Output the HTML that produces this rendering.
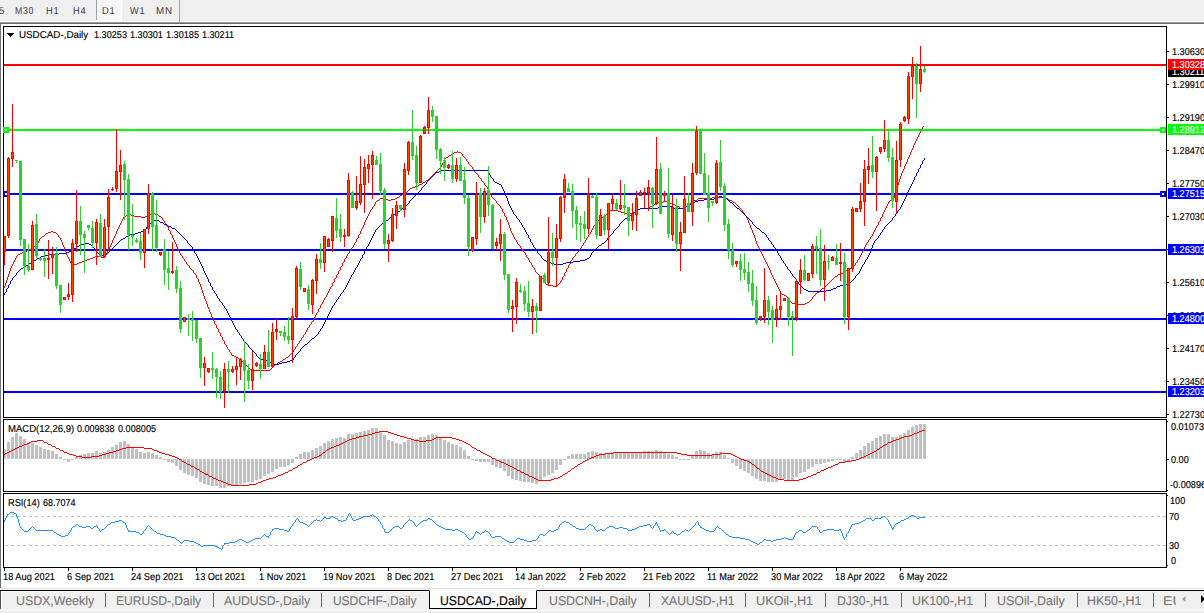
<!DOCTYPE html>
<html><head><meta charset="utf-8"><title>USDCAD-,Daily</title>
<style>
html,body{margin:0;padding:0;background:#fff;}
body{width:1204px;height:613px;overflow:hidden;position:relative;font-family:"Liberation Sans",sans-serif;}
.t{position:absolute;white-space:nowrap;line-height:1;color:#000;transform-origin:0 0;text-rendering:geometricPrecision;-webkit-text-stroke:0.15px currentColor;}
.ax{font-size:10px;transform:scaleX(.93);}
.lab{position:absolute;left:1168px;width:36px;height:11px;}
.tab{font-size:12px;color:#787878;}
.sep{position:absolute;top:593px;width:1px;height:14px;background:#6e6e6e;}
.tb{font-size:10px;color:#3c3c3c;transform:scaleX(.95);}
</style></head><body>

<div style="position:absolute;left:0;top:0;width:1204px;height:22px;background:#f0f0f0"></div>
<div style="position:absolute;left:0;top:22px;width:1204px;height:1px;background:#a0a0a0"></div>
<div style="position:absolute;left:0;top:23px;width:1204px;height:1px;background:#696969"></div>
<div style="position:absolute;left:0;top:21px;width:1204px;height:1px;background:#f6f6f6"></div>
<div style="position:absolute;left:0;top:24px;width:1px;height:564px;background:#747474"></div>
<div style="position:absolute;left:97px;top:0;width:24px;height:20px;background-color:#f0f0f0;background-image:conic-gradient(#fff 25%,#f0f0f0 0 50%,#fff 0 75%,#f0f0f0 0);background-size:2px 2px"></div>
<div style="position:absolute;left:96px;top:0;width:1px;height:20px;background:#a0a0a0"></div>
<div style="position:absolute;left:121px;top:0;width:1px;height:21px;background:#fff"></div>
<div style="position:absolute;left:96px;top:20px;width:26px;height:1px;background:#fff"></div>
<div style="position:absolute;left:179px;top:0;width:1px;height:22px;background:#a0a0a0"></div>
<div class="t" style="left:-1.2px;top:7px;font-size:10px;color:#383838;-webkit-text-stroke:0">5</div>
<div class="t" style="left:15.08px;top:7px;font-size:10px;color:#383838;-webkit-text-stroke:0;letter-spacing:0.9px;transform:scaleX(0.8678)">M30</div>
<div class="t" style="left:45.73px;top:7px;font-size:10px;color:#383838;-webkit-text-stroke:0;letter-spacing:0.9px;transform:scaleX(0.9374)">H1</div>
<div class="t" style="left:73.14px;top:7px;font-size:10px;color:#383838;-webkit-text-stroke:0;letter-spacing:0.9px;transform:scaleX(0.9225)">H4</div>
<div class="t" style="left:101.73px;top:7px;font-size:10px;color:#383838;-webkit-text-stroke:0;letter-spacing:0.9px;transform:scaleX(0.9374)">D1</div>
<div class="t" style="left:130.05px;top:7px;font-size:10px;color:#383838;-webkit-text-stroke:0;letter-spacing:0.9px;transform:scaleX(0.9171)">W1</div>
<div class="t" style="left:155.89px;top:7px;font-size:10px;color:#383838;-webkit-text-stroke:0;letter-spacing:0.9px;transform:scaleX(0.9797)">MN</div>
<svg width="1204" height="613" viewBox="0 0 1204 613" style="position:absolute;left:0;top:0" shape-rendering="crispEdges">
<rect x="5" y="516" width="3" height="1" fill="#c0c0c0"/>
<rect x="11" y="516" width="3" height="1" fill="#c0c0c0"/>
<rect x="17" y="516" width="3" height="1" fill="#c0c0c0"/>
<rect x="23" y="516" width="3" height="1" fill="#c0c0c0"/>
<rect x="29" y="516" width="3" height="1" fill="#c0c0c0"/>
<rect x="35" y="516" width="3" height="1" fill="#c0c0c0"/>
<rect x="41" y="516" width="3" height="1" fill="#c0c0c0"/>
<rect x="47" y="516" width="3" height="1" fill="#c0c0c0"/>
<rect x="53" y="516" width="3" height="1" fill="#c0c0c0"/>
<rect x="59" y="516" width="3" height="1" fill="#c0c0c0"/>
<rect x="65" y="516" width="3" height="1" fill="#c0c0c0"/>
<rect x="71" y="516" width="3" height="1" fill="#c0c0c0"/>
<rect x="77" y="516" width="3" height="1" fill="#c0c0c0"/>
<rect x="83" y="516" width="3" height="1" fill="#c0c0c0"/>
<rect x="89" y="516" width="3" height="1" fill="#c0c0c0"/>
<rect x="95" y="516" width="3" height="1" fill="#c0c0c0"/>
<rect x="101" y="516" width="3" height="1" fill="#c0c0c0"/>
<rect x="107" y="516" width="3" height="1" fill="#c0c0c0"/>
<rect x="113" y="516" width="3" height="1" fill="#c0c0c0"/>
<rect x="119" y="516" width="3" height="1" fill="#c0c0c0"/>
<rect x="125" y="516" width="3" height="1" fill="#c0c0c0"/>
<rect x="131" y="516" width="3" height="1" fill="#c0c0c0"/>
<rect x="137" y="516" width="3" height="1" fill="#c0c0c0"/>
<rect x="143" y="516" width="3" height="1" fill="#c0c0c0"/>
<rect x="149" y="516" width="3" height="1" fill="#c0c0c0"/>
<rect x="155" y="516" width="3" height="1" fill="#c0c0c0"/>
<rect x="161" y="516" width="3" height="1" fill="#c0c0c0"/>
<rect x="167" y="516" width="3" height="1" fill="#c0c0c0"/>
<rect x="173" y="516" width="3" height="1" fill="#c0c0c0"/>
<rect x="179" y="516" width="3" height="1" fill="#c0c0c0"/>
<rect x="185" y="516" width="3" height="1" fill="#c0c0c0"/>
<rect x="191" y="516" width="3" height="1" fill="#c0c0c0"/>
<rect x="197" y="516" width="3" height="1" fill="#c0c0c0"/>
<rect x="203" y="516" width="3" height="1" fill="#c0c0c0"/>
<rect x="209" y="516" width="3" height="1" fill="#c0c0c0"/>
<rect x="215" y="516" width="3" height="1" fill="#c0c0c0"/>
<rect x="221" y="516" width="3" height="1" fill="#c0c0c0"/>
<rect x="227" y="516" width="3" height="1" fill="#c0c0c0"/>
<rect x="233" y="516" width="3" height="1" fill="#c0c0c0"/>
<rect x="239" y="516" width="3" height="1" fill="#c0c0c0"/>
<rect x="245" y="516" width="3" height="1" fill="#c0c0c0"/>
<rect x="251" y="516" width="3" height="1" fill="#c0c0c0"/>
<rect x="257" y="516" width="3" height="1" fill="#c0c0c0"/>
<rect x="263" y="516" width="3" height="1" fill="#c0c0c0"/>
<rect x="269" y="516" width="3" height="1" fill="#c0c0c0"/>
<rect x="275" y="516" width="3" height="1" fill="#c0c0c0"/>
<rect x="281" y="516" width="3" height="1" fill="#c0c0c0"/>
<rect x="287" y="516" width="3" height="1" fill="#c0c0c0"/>
<rect x="293" y="516" width="3" height="1" fill="#c0c0c0"/>
<rect x="299" y="516" width="3" height="1" fill="#c0c0c0"/>
<rect x="305" y="516" width="3" height="1" fill="#c0c0c0"/>
<rect x="311" y="516" width="3" height="1" fill="#c0c0c0"/>
<rect x="317" y="516" width="3" height="1" fill="#c0c0c0"/>
<rect x="323" y="516" width="3" height="1" fill="#c0c0c0"/>
<rect x="329" y="516" width="3" height="1" fill="#c0c0c0"/>
<rect x="335" y="516" width="3" height="1" fill="#c0c0c0"/>
<rect x="341" y="516" width="3" height="1" fill="#c0c0c0"/>
<rect x="347" y="516" width="3" height="1" fill="#c0c0c0"/>
<rect x="353" y="516" width="3" height="1" fill="#c0c0c0"/>
<rect x="359" y="516" width="3" height="1" fill="#c0c0c0"/>
<rect x="365" y="516" width="3" height="1" fill="#c0c0c0"/>
<rect x="371" y="516" width="3" height="1" fill="#c0c0c0"/>
<rect x="377" y="516" width="3" height="1" fill="#c0c0c0"/>
<rect x="383" y="516" width="3" height="1" fill="#c0c0c0"/>
<rect x="389" y="516" width="3" height="1" fill="#c0c0c0"/>
<rect x="395" y="516" width="3" height="1" fill="#c0c0c0"/>
<rect x="401" y="516" width="3" height="1" fill="#c0c0c0"/>
<rect x="407" y="516" width="3" height="1" fill="#c0c0c0"/>
<rect x="413" y="516" width="3" height="1" fill="#c0c0c0"/>
<rect x="419" y="516" width="3" height="1" fill="#c0c0c0"/>
<rect x="425" y="516" width="3" height="1" fill="#c0c0c0"/>
<rect x="431" y="516" width="3" height="1" fill="#c0c0c0"/>
<rect x="437" y="516" width="3" height="1" fill="#c0c0c0"/>
<rect x="443" y="516" width="3" height="1" fill="#c0c0c0"/>
<rect x="449" y="516" width="3" height="1" fill="#c0c0c0"/>
<rect x="455" y="516" width="3" height="1" fill="#c0c0c0"/>
<rect x="461" y="516" width="3" height="1" fill="#c0c0c0"/>
<rect x="467" y="516" width="3" height="1" fill="#c0c0c0"/>
<rect x="473" y="516" width="3" height="1" fill="#c0c0c0"/>
<rect x="479" y="516" width="3" height="1" fill="#c0c0c0"/>
<rect x="485" y="516" width="3" height="1" fill="#c0c0c0"/>
<rect x="491" y="516" width="3" height="1" fill="#c0c0c0"/>
<rect x="497" y="516" width="3" height="1" fill="#c0c0c0"/>
<rect x="503" y="516" width="3" height="1" fill="#c0c0c0"/>
<rect x="509" y="516" width="3" height="1" fill="#c0c0c0"/>
<rect x="515" y="516" width="3" height="1" fill="#c0c0c0"/>
<rect x="521" y="516" width="3" height="1" fill="#c0c0c0"/>
<rect x="527" y="516" width="3" height="1" fill="#c0c0c0"/>
<rect x="533" y="516" width="3" height="1" fill="#c0c0c0"/>
<rect x="539" y="516" width="3" height="1" fill="#c0c0c0"/>
<rect x="545" y="516" width="3" height="1" fill="#c0c0c0"/>
<rect x="551" y="516" width="3" height="1" fill="#c0c0c0"/>
<rect x="557" y="516" width="3" height="1" fill="#c0c0c0"/>
<rect x="563" y="516" width="3" height="1" fill="#c0c0c0"/>
<rect x="569" y="516" width="3" height="1" fill="#c0c0c0"/>
<rect x="575" y="516" width="3" height="1" fill="#c0c0c0"/>
<rect x="581" y="516" width="3" height="1" fill="#c0c0c0"/>
<rect x="587" y="516" width="3" height="1" fill="#c0c0c0"/>
<rect x="593" y="516" width="3" height="1" fill="#c0c0c0"/>
<rect x="599" y="516" width="3" height="1" fill="#c0c0c0"/>
<rect x="605" y="516" width="3" height="1" fill="#c0c0c0"/>
<rect x="611" y="516" width="3" height="1" fill="#c0c0c0"/>
<rect x="617" y="516" width="3" height="1" fill="#c0c0c0"/>
<rect x="623" y="516" width="3" height="1" fill="#c0c0c0"/>
<rect x="629" y="516" width="3" height="1" fill="#c0c0c0"/>
<rect x="635" y="516" width="3" height="1" fill="#c0c0c0"/>
<rect x="641" y="516" width="3" height="1" fill="#c0c0c0"/>
<rect x="647" y="516" width="3" height="1" fill="#c0c0c0"/>
<rect x="653" y="516" width="3" height="1" fill="#c0c0c0"/>
<rect x="659" y="516" width="3" height="1" fill="#c0c0c0"/>
<rect x="665" y="516" width="3" height="1" fill="#c0c0c0"/>
<rect x="671" y="516" width="3" height="1" fill="#c0c0c0"/>
<rect x="677" y="516" width="3" height="1" fill="#c0c0c0"/>
<rect x="683" y="516" width="3" height="1" fill="#c0c0c0"/>
<rect x="689" y="516" width="3" height="1" fill="#c0c0c0"/>
<rect x="695" y="516" width="3" height="1" fill="#c0c0c0"/>
<rect x="701" y="516" width="3" height="1" fill="#c0c0c0"/>
<rect x="707" y="516" width="3" height="1" fill="#c0c0c0"/>
<rect x="713" y="516" width="3" height="1" fill="#c0c0c0"/>
<rect x="719" y="516" width="3" height="1" fill="#c0c0c0"/>
<rect x="725" y="516" width="3" height="1" fill="#c0c0c0"/>
<rect x="731" y="516" width="3" height="1" fill="#c0c0c0"/>
<rect x="737" y="516" width="3" height="1" fill="#c0c0c0"/>
<rect x="743" y="516" width="3" height="1" fill="#c0c0c0"/>
<rect x="749" y="516" width="3" height="1" fill="#c0c0c0"/>
<rect x="755" y="516" width="3" height="1" fill="#c0c0c0"/>
<rect x="761" y="516" width="3" height="1" fill="#c0c0c0"/>
<rect x="767" y="516" width="3" height="1" fill="#c0c0c0"/>
<rect x="773" y="516" width="3" height="1" fill="#c0c0c0"/>
<rect x="779" y="516" width="3" height="1" fill="#c0c0c0"/>
<rect x="785" y="516" width="3" height="1" fill="#c0c0c0"/>
<rect x="791" y="516" width="3" height="1" fill="#c0c0c0"/>
<rect x="797" y="516" width="3" height="1" fill="#c0c0c0"/>
<rect x="803" y="516" width="3" height="1" fill="#c0c0c0"/>
<rect x="809" y="516" width="3" height="1" fill="#c0c0c0"/>
<rect x="815" y="516" width="3" height="1" fill="#c0c0c0"/>
<rect x="821" y="516" width="3" height="1" fill="#c0c0c0"/>
<rect x="827" y="516" width="3" height="1" fill="#c0c0c0"/>
<rect x="833" y="516" width="3" height="1" fill="#c0c0c0"/>
<rect x="839" y="516" width="3" height="1" fill="#c0c0c0"/>
<rect x="845" y="516" width="3" height="1" fill="#c0c0c0"/>
<rect x="851" y="516" width="3" height="1" fill="#c0c0c0"/>
<rect x="857" y="516" width="3" height="1" fill="#c0c0c0"/>
<rect x="863" y="516" width="3" height="1" fill="#c0c0c0"/>
<rect x="869" y="516" width="3" height="1" fill="#c0c0c0"/>
<rect x="875" y="516" width="3" height="1" fill="#c0c0c0"/>
<rect x="881" y="516" width="3" height="1" fill="#c0c0c0"/>
<rect x="887" y="516" width="3" height="1" fill="#c0c0c0"/>
<rect x="893" y="516" width="3" height="1" fill="#c0c0c0"/>
<rect x="899" y="516" width="3" height="1" fill="#c0c0c0"/>
<rect x="905" y="516" width="3" height="1" fill="#c0c0c0"/>
<rect x="911" y="516" width="3" height="1" fill="#c0c0c0"/>
<rect x="917" y="516" width="3" height="1" fill="#c0c0c0"/>
<rect x="923" y="516" width="3" height="1" fill="#c0c0c0"/>
<rect x="929" y="516" width="3" height="1" fill="#c0c0c0"/>
<rect x="935" y="516" width="3" height="1" fill="#c0c0c0"/>
<rect x="941" y="516" width="3" height="1" fill="#c0c0c0"/>
<rect x="947" y="516" width="3" height="1" fill="#c0c0c0"/>
<rect x="953" y="516" width="3" height="1" fill="#c0c0c0"/>
<rect x="959" y="516" width="3" height="1" fill="#c0c0c0"/>
<rect x="965" y="516" width="3" height="1" fill="#c0c0c0"/>
<rect x="971" y="516" width="3" height="1" fill="#c0c0c0"/>
<rect x="977" y="516" width="3" height="1" fill="#c0c0c0"/>
<rect x="983" y="516" width="3" height="1" fill="#c0c0c0"/>
<rect x="989" y="516" width="3" height="1" fill="#c0c0c0"/>
<rect x="995" y="516" width="3" height="1" fill="#c0c0c0"/>
<rect x="1001" y="516" width="3" height="1" fill="#c0c0c0"/>
<rect x="1007" y="516" width="3" height="1" fill="#c0c0c0"/>
<rect x="1013" y="516" width="3" height="1" fill="#c0c0c0"/>
<rect x="1019" y="516" width="3" height="1" fill="#c0c0c0"/>
<rect x="1025" y="516" width="3" height="1" fill="#c0c0c0"/>
<rect x="1031" y="516" width="3" height="1" fill="#c0c0c0"/>
<rect x="1037" y="516" width="3" height="1" fill="#c0c0c0"/>
<rect x="1043" y="516" width="3" height="1" fill="#c0c0c0"/>
<rect x="1049" y="516" width="3" height="1" fill="#c0c0c0"/>
<rect x="1055" y="516" width="3" height="1" fill="#c0c0c0"/>
<rect x="1061" y="516" width="3" height="1" fill="#c0c0c0"/>
<rect x="1067" y="516" width="3" height="1" fill="#c0c0c0"/>
<rect x="1073" y="516" width="3" height="1" fill="#c0c0c0"/>
<rect x="1079" y="516" width="3" height="1" fill="#c0c0c0"/>
<rect x="1085" y="516" width="3" height="1" fill="#c0c0c0"/>
<rect x="1091" y="516" width="3" height="1" fill="#c0c0c0"/>
<rect x="1097" y="516" width="3" height="1" fill="#c0c0c0"/>
<rect x="1103" y="516" width="3" height="1" fill="#c0c0c0"/>
<rect x="1109" y="516" width="3" height="1" fill="#c0c0c0"/>
<rect x="1115" y="516" width="3" height="1" fill="#c0c0c0"/>
<rect x="1121" y="516" width="3" height="1" fill="#c0c0c0"/>
<rect x="1127" y="516" width="3" height="1" fill="#c0c0c0"/>
<rect x="1133" y="516" width="3" height="1" fill="#c0c0c0"/>
<rect x="1139" y="516" width="3" height="1" fill="#c0c0c0"/>
<rect x="1145" y="516" width="3" height="1" fill="#c0c0c0"/>
<rect x="1151" y="516" width="3" height="1" fill="#c0c0c0"/>
<rect x="1157" y="516" width="3" height="1" fill="#c0c0c0"/>
<rect x="1163" y="516" width="3" height="1" fill="#c0c0c0"/>
<rect x="5" y="545" width="3" height="1" fill="#c0c0c0"/>
<rect x="11" y="545" width="3" height="1" fill="#c0c0c0"/>
<rect x="17" y="545" width="3" height="1" fill="#c0c0c0"/>
<rect x="23" y="545" width="3" height="1" fill="#c0c0c0"/>
<rect x="29" y="545" width="3" height="1" fill="#c0c0c0"/>
<rect x="35" y="545" width="3" height="1" fill="#c0c0c0"/>
<rect x="41" y="545" width="3" height="1" fill="#c0c0c0"/>
<rect x="47" y="545" width="3" height="1" fill="#c0c0c0"/>
<rect x="53" y="545" width="3" height="1" fill="#c0c0c0"/>
<rect x="59" y="545" width="3" height="1" fill="#c0c0c0"/>
<rect x="65" y="545" width="3" height="1" fill="#c0c0c0"/>
<rect x="71" y="545" width="3" height="1" fill="#c0c0c0"/>
<rect x="77" y="545" width="3" height="1" fill="#c0c0c0"/>
<rect x="83" y="545" width="3" height="1" fill="#c0c0c0"/>
<rect x="89" y="545" width="3" height="1" fill="#c0c0c0"/>
<rect x="95" y="545" width="3" height="1" fill="#c0c0c0"/>
<rect x="101" y="545" width="3" height="1" fill="#c0c0c0"/>
<rect x="107" y="545" width="3" height="1" fill="#c0c0c0"/>
<rect x="113" y="545" width="3" height="1" fill="#c0c0c0"/>
<rect x="119" y="545" width="3" height="1" fill="#c0c0c0"/>
<rect x="125" y="545" width="3" height="1" fill="#c0c0c0"/>
<rect x="131" y="545" width="3" height="1" fill="#c0c0c0"/>
<rect x="137" y="545" width="3" height="1" fill="#c0c0c0"/>
<rect x="143" y="545" width="3" height="1" fill="#c0c0c0"/>
<rect x="149" y="545" width="3" height="1" fill="#c0c0c0"/>
<rect x="155" y="545" width="3" height="1" fill="#c0c0c0"/>
<rect x="161" y="545" width="3" height="1" fill="#c0c0c0"/>
<rect x="167" y="545" width="3" height="1" fill="#c0c0c0"/>
<rect x="173" y="545" width="3" height="1" fill="#c0c0c0"/>
<rect x="179" y="545" width="3" height="1" fill="#c0c0c0"/>
<rect x="185" y="545" width="3" height="1" fill="#c0c0c0"/>
<rect x="191" y="545" width="3" height="1" fill="#c0c0c0"/>
<rect x="197" y="545" width="3" height="1" fill="#c0c0c0"/>
<rect x="203" y="545" width="3" height="1" fill="#c0c0c0"/>
<rect x="209" y="545" width="3" height="1" fill="#c0c0c0"/>
<rect x="215" y="545" width="3" height="1" fill="#c0c0c0"/>
<rect x="221" y="545" width="3" height="1" fill="#c0c0c0"/>
<rect x="227" y="545" width="3" height="1" fill="#c0c0c0"/>
<rect x="233" y="545" width="3" height="1" fill="#c0c0c0"/>
<rect x="239" y="545" width="3" height="1" fill="#c0c0c0"/>
<rect x="245" y="545" width="3" height="1" fill="#c0c0c0"/>
<rect x="251" y="545" width="3" height="1" fill="#c0c0c0"/>
<rect x="257" y="545" width="3" height="1" fill="#c0c0c0"/>
<rect x="263" y="545" width="3" height="1" fill="#c0c0c0"/>
<rect x="269" y="545" width="3" height="1" fill="#c0c0c0"/>
<rect x="275" y="545" width="3" height="1" fill="#c0c0c0"/>
<rect x="281" y="545" width="3" height="1" fill="#c0c0c0"/>
<rect x="287" y="545" width="3" height="1" fill="#c0c0c0"/>
<rect x="293" y="545" width="3" height="1" fill="#c0c0c0"/>
<rect x="299" y="545" width="3" height="1" fill="#c0c0c0"/>
<rect x="305" y="545" width="3" height="1" fill="#c0c0c0"/>
<rect x="311" y="545" width="3" height="1" fill="#c0c0c0"/>
<rect x="317" y="545" width="3" height="1" fill="#c0c0c0"/>
<rect x="323" y="545" width="3" height="1" fill="#c0c0c0"/>
<rect x="329" y="545" width="3" height="1" fill="#c0c0c0"/>
<rect x="335" y="545" width="3" height="1" fill="#c0c0c0"/>
<rect x="341" y="545" width="3" height="1" fill="#c0c0c0"/>
<rect x="347" y="545" width="3" height="1" fill="#c0c0c0"/>
<rect x="353" y="545" width="3" height="1" fill="#c0c0c0"/>
<rect x="359" y="545" width="3" height="1" fill="#c0c0c0"/>
<rect x="365" y="545" width="3" height="1" fill="#c0c0c0"/>
<rect x="371" y="545" width="3" height="1" fill="#c0c0c0"/>
<rect x="377" y="545" width="3" height="1" fill="#c0c0c0"/>
<rect x="383" y="545" width="3" height="1" fill="#c0c0c0"/>
<rect x="389" y="545" width="3" height="1" fill="#c0c0c0"/>
<rect x="395" y="545" width="3" height="1" fill="#c0c0c0"/>
<rect x="401" y="545" width="3" height="1" fill="#c0c0c0"/>
<rect x="407" y="545" width="3" height="1" fill="#c0c0c0"/>
<rect x="413" y="545" width="3" height="1" fill="#c0c0c0"/>
<rect x="419" y="545" width="3" height="1" fill="#c0c0c0"/>
<rect x="425" y="545" width="3" height="1" fill="#c0c0c0"/>
<rect x="431" y="545" width="3" height="1" fill="#c0c0c0"/>
<rect x="437" y="545" width="3" height="1" fill="#c0c0c0"/>
<rect x="443" y="545" width="3" height="1" fill="#c0c0c0"/>
<rect x="449" y="545" width="3" height="1" fill="#c0c0c0"/>
<rect x="455" y="545" width="3" height="1" fill="#c0c0c0"/>
<rect x="461" y="545" width="3" height="1" fill="#c0c0c0"/>
<rect x="467" y="545" width="3" height="1" fill="#c0c0c0"/>
<rect x="473" y="545" width="3" height="1" fill="#c0c0c0"/>
<rect x="479" y="545" width="3" height="1" fill="#c0c0c0"/>
<rect x="485" y="545" width="3" height="1" fill="#c0c0c0"/>
<rect x="491" y="545" width="3" height="1" fill="#c0c0c0"/>
<rect x="497" y="545" width="3" height="1" fill="#c0c0c0"/>
<rect x="503" y="545" width="3" height="1" fill="#c0c0c0"/>
<rect x="509" y="545" width="3" height="1" fill="#c0c0c0"/>
<rect x="515" y="545" width="3" height="1" fill="#c0c0c0"/>
<rect x="521" y="545" width="3" height="1" fill="#c0c0c0"/>
<rect x="527" y="545" width="3" height="1" fill="#c0c0c0"/>
<rect x="533" y="545" width="3" height="1" fill="#c0c0c0"/>
<rect x="539" y="545" width="3" height="1" fill="#c0c0c0"/>
<rect x="545" y="545" width="3" height="1" fill="#c0c0c0"/>
<rect x="551" y="545" width="3" height="1" fill="#c0c0c0"/>
<rect x="557" y="545" width="3" height="1" fill="#c0c0c0"/>
<rect x="563" y="545" width="3" height="1" fill="#c0c0c0"/>
<rect x="569" y="545" width="3" height="1" fill="#c0c0c0"/>
<rect x="575" y="545" width="3" height="1" fill="#c0c0c0"/>
<rect x="581" y="545" width="3" height="1" fill="#c0c0c0"/>
<rect x="587" y="545" width="3" height="1" fill="#c0c0c0"/>
<rect x="593" y="545" width="3" height="1" fill="#c0c0c0"/>
<rect x="599" y="545" width="3" height="1" fill="#c0c0c0"/>
<rect x="605" y="545" width="3" height="1" fill="#c0c0c0"/>
<rect x="611" y="545" width="3" height="1" fill="#c0c0c0"/>
<rect x="617" y="545" width="3" height="1" fill="#c0c0c0"/>
<rect x="623" y="545" width="3" height="1" fill="#c0c0c0"/>
<rect x="629" y="545" width="3" height="1" fill="#c0c0c0"/>
<rect x="635" y="545" width="3" height="1" fill="#c0c0c0"/>
<rect x="641" y="545" width="3" height="1" fill="#c0c0c0"/>
<rect x="647" y="545" width="3" height="1" fill="#c0c0c0"/>
<rect x="653" y="545" width="3" height="1" fill="#c0c0c0"/>
<rect x="659" y="545" width="3" height="1" fill="#c0c0c0"/>
<rect x="665" y="545" width="3" height="1" fill="#c0c0c0"/>
<rect x="671" y="545" width="3" height="1" fill="#c0c0c0"/>
<rect x="677" y="545" width="3" height="1" fill="#c0c0c0"/>
<rect x="683" y="545" width="3" height="1" fill="#c0c0c0"/>
<rect x="689" y="545" width="3" height="1" fill="#c0c0c0"/>
<rect x="695" y="545" width="3" height="1" fill="#c0c0c0"/>
<rect x="701" y="545" width="3" height="1" fill="#c0c0c0"/>
<rect x="707" y="545" width="3" height="1" fill="#c0c0c0"/>
<rect x="713" y="545" width="3" height="1" fill="#c0c0c0"/>
<rect x="719" y="545" width="3" height="1" fill="#c0c0c0"/>
<rect x="725" y="545" width="3" height="1" fill="#c0c0c0"/>
<rect x="731" y="545" width="3" height="1" fill="#c0c0c0"/>
<rect x="737" y="545" width="3" height="1" fill="#c0c0c0"/>
<rect x="743" y="545" width="3" height="1" fill="#c0c0c0"/>
<rect x="749" y="545" width="3" height="1" fill="#c0c0c0"/>
<rect x="755" y="545" width="3" height="1" fill="#c0c0c0"/>
<rect x="761" y="545" width="3" height="1" fill="#c0c0c0"/>
<rect x="767" y="545" width="3" height="1" fill="#c0c0c0"/>
<rect x="773" y="545" width="3" height="1" fill="#c0c0c0"/>
<rect x="779" y="545" width="3" height="1" fill="#c0c0c0"/>
<rect x="785" y="545" width="3" height="1" fill="#c0c0c0"/>
<rect x="791" y="545" width="3" height="1" fill="#c0c0c0"/>
<rect x="797" y="545" width="3" height="1" fill="#c0c0c0"/>
<rect x="803" y="545" width="3" height="1" fill="#c0c0c0"/>
<rect x="809" y="545" width="3" height="1" fill="#c0c0c0"/>
<rect x="815" y="545" width="3" height="1" fill="#c0c0c0"/>
<rect x="821" y="545" width="3" height="1" fill="#c0c0c0"/>
<rect x="827" y="545" width="3" height="1" fill="#c0c0c0"/>
<rect x="833" y="545" width="3" height="1" fill="#c0c0c0"/>
<rect x="839" y="545" width="3" height="1" fill="#c0c0c0"/>
<rect x="845" y="545" width="3" height="1" fill="#c0c0c0"/>
<rect x="851" y="545" width="3" height="1" fill="#c0c0c0"/>
<rect x="857" y="545" width="3" height="1" fill="#c0c0c0"/>
<rect x="863" y="545" width="3" height="1" fill="#c0c0c0"/>
<rect x="869" y="545" width="3" height="1" fill="#c0c0c0"/>
<rect x="875" y="545" width="3" height="1" fill="#c0c0c0"/>
<rect x="881" y="545" width="3" height="1" fill="#c0c0c0"/>
<rect x="887" y="545" width="3" height="1" fill="#c0c0c0"/>
<rect x="893" y="545" width="3" height="1" fill="#c0c0c0"/>
<rect x="899" y="545" width="3" height="1" fill="#c0c0c0"/>
<rect x="905" y="545" width="3" height="1" fill="#c0c0c0"/>
<rect x="911" y="545" width="3" height="1" fill="#c0c0c0"/>
<rect x="917" y="545" width="3" height="1" fill="#c0c0c0"/>
<rect x="923" y="545" width="3" height="1" fill="#c0c0c0"/>
<rect x="929" y="545" width="3" height="1" fill="#c0c0c0"/>
<rect x="935" y="545" width="3" height="1" fill="#c0c0c0"/>
<rect x="941" y="545" width="3" height="1" fill="#c0c0c0"/>
<rect x="947" y="545" width="3" height="1" fill="#c0c0c0"/>
<rect x="953" y="545" width="3" height="1" fill="#c0c0c0"/>
<rect x="959" y="545" width="3" height="1" fill="#c0c0c0"/>
<rect x="965" y="545" width="3" height="1" fill="#c0c0c0"/>
<rect x="971" y="545" width="3" height="1" fill="#c0c0c0"/>
<rect x="977" y="545" width="3" height="1" fill="#c0c0c0"/>
<rect x="983" y="545" width="3" height="1" fill="#c0c0c0"/>
<rect x="989" y="545" width="3" height="1" fill="#c0c0c0"/>
<rect x="995" y="545" width="3" height="1" fill="#c0c0c0"/>
<rect x="1001" y="545" width="3" height="1" fill="#c0c0c0"/>
<rect x="1007" y="545" width="3" height="1" fill="#c0c0c0"/>
<rect x="1013" y="545" width="3" height="1" fill="#c0c0c0"/>
<rect x="1019" y="545" width="3" height="1" fill="#c0c0c0"/>
<rect x="1025" y="545" width="3" height="1" fill="#c0c0c0"/>
<rect x="1031" y="545" width="3" height="1" fill="#c0c0c0"/>
<rect x="1037" y="545" width="3" height="1" fill="#c0c0c0"/>
<rect x="1043" y="545" width="3" height="1" fill="#c0c0c0"/>
<rect x="1049" y="545" width="3" height="1" fill="#c0c0c0"/>
<rect x="1055" y="545" width="3" height="1" fill="#c0c0c0"/>
<rect x="1061" y="545" width="3" height="1" fill="#c0c0c0"/>
<rect x="1067" y="545" width="3" height="1" fill="#c0c0c0"/>
<rect x="1073" y="545" width="3" height="1" fill="#c0c0c0"/>
<rect x="1079" y="545" width="3" height="1" fill="#c0c0c0"/>
<rect x="1085" y="545" width="3" height="1" fill="#c0c0c0"/>
<rect x="1091" y="545" width="3" height="1" fill="#c0c0c0"/>
<rect x="1097" y="545" width="3" height="1" fill="#c0c0c0"/>
<rect x="1103" y="545" width="3" height="1" fill="#c0c0c0"/>
<rect x="1109" y="545" width="3" height="1" fill="#c0c0c0"/>
<rect x="1115" y="545" width="3" height="1" fill="#c0c0c0"/>
<rect x="1121" y="545" width="3" height="1" fill="#c0c0c0"/>
<rect x="1127" y="545" width="3" height="1" fill="#c0c0c0"/>
<rect x="1133" y="545" width="3" height="1" fill="#c0c0c0"/>
<rect x="1139" y="545" width="3" height="1" fill="#c0c0c0"/>
<rect x="1145" y="545" width="3" height="1" fill="#c0c0c0"/>
<rect x="1151" y="545" width="3" height="1" fill="#c0c0c0"/>
<rect x="1157" y="545" width="3" height="1" fill="#c0c0c0"/>
<rect x="1163" y="545" width="3" height="1" fill="#c0c0c0"/>
<rect x="3" y="449" width="3" height="10" fill="#c0c0c0"/>
<rect x="7" y="442" width="3" height="17" fill="#c0c0c0"/>
<rect x="11" y="437" width="3" height="22" fill="#c0c0c0"/>
<rect x="15" y="433" width="3" height="26" fill="#c0c0c0"/>
<rect x="19" y="436" width="3" height="23" fill="#c0c0c0"/>
<rect x="23" y="439" width="3" height="20" fill="#c0c0c0"/>
<rect x="27" y="442" width="3" height="17" fill="#c0c0c0"/>
<rect x="31" y="443" width="3" height="16" fill="#c0c0c0"/>
<rect x="35" y="445" width="3" height="14" fill="#c0c0c0"/>
<rect x="39" y="447" width="3" height="12" fill="#c0c0c0"/>
<rect x="43" y="449" width="3" height="10" fill="#c0c0c0"/>
<rect x="47" y="450" width="3" height="9" fill="#c0c0c0"/>
<rect x="51" y="451" width="3" height="8" fill="#c0c0c0"/>
<rect x="55" y="454" width="3" height="5" fill="#c0c0c0"/>
<rect x="59" y="457" width="3" height="2" fill="#c0c0c0"/>
<rect x="63" y="459" width="3" height="1" fill="#c0c0c0"/>
<rect x="67" y="459" width="3" height="3" fill="#c0c0c0"/>
<rect x="71" y="459" width="3" height="1" fill="#c0c0c0"/>
<rect x="75" y="457" width="3" height="2" fill="#c0c0c0"/>
<rect x="79" y="455" width="3" height="4" fill="#c0c0c0"/>
<rect x="83" y="454" width="3" height="5" fill="#c0c0c0"/>
<rect x="87" y="453" width="3" height="6" fill="#c0c0c0"/>
<rect x="91" y="453" width="3" height="6" fill="#c0c0c0"/>
<rect x="95" y="451" width="3" height="8" fill="#c0c0c0"/>
<rect x="99" y="453" width="3" height="6" fill="#c0c0c0"/>
<rect x="103" y="452" width="3" height="7" fill="#c0c0c0"/>
<rect x="107" y="450" width="3" height="9" fill="#c0c0c0"/>
<rect x="111" y="447" width="3" height="12" fill="#c0c0c0"/>
<rect x="115" y="445" width="3" height="14" fill="#c0c0c0"/>
<rect x="119" y="442" width="3" height="17" fill="#c0c0c0"/>
<rect x="123" y="441" width="3" height="18" fill="#c0c0c0"/>
<rect x="127" y="444" width="3" height="15" fill="#c0c0c0"/>
<rect x="131" y="447" width="3" height="12" fill="#c0c0c0"/>
<rect x="135" y="449" width="3" height="10" fill="#c0c0c0"/>
<rect x="139" y="452" width="3" height="7" fill="#c0c0c0"/>
<rect x="143" y="453" width="3" height="6" fill="#c0c0c0"/>
<rect x="147" y="452" width="3" height="7" fill="#c0c0c0"/>
<rect x="151" y="453" width="3" height="6" fill="#c0c0c0"/>
<rect x="155" y="455" width="3" height="4" fill="#c0c0c0"/>
<rect x="159" y="457" width="3" height="2" fill="#c0c0c0"/>
<rect x="163" y="459" width="3" height="1" fill="#c0c0c0"/>
<rect x="167" y="459" width="3" height="3" fill="#c0c0c0"/>
<rect x="171" y="459" width="3" height="4" fill="#c0c0c0"/>
<rect x="175" y="459" width="3" height="7" fill="#c0c0c0"/>
<rect x="179" y="459" width="3" height="11" fill="#c0c0c0"/>
<rect x="183" y="459" width="3" height="14" fill="#c0c0c0"/>
<rect x="187" y="459" width="3" height="16" fill="#c0c0c0"/>
<rect x="191" y="459" width="3" height="17" fill="#c0c0c0"/>
<rect x="195" y="459" width="3" height="19" fill="#c0c0c0"/>
<rect x="199" y="459" width="3" height="23" fill="#c0c0c0"/>
<rect x="203" y="459" width="3" height="25" fill="#c0c0c0"/>
<rect x="207" y="459" width="3" height="26" fill="#c0c0c0"/>
<rect x="211" y="459" width="3" height="27" fill="#c0c0c0"/>
<rect x="215" y="459" width="3" height="27" fill="#c0c0c0"/>
<rect x="219" y="459" width="3" height="29" fill="#c0c0c0"/>
<rect x="223" y="459" width="3" height="29" fill="#c0c0c0"/>
<rect x="227" y="459" width="3" height="27" fill="#c0c0c0"/>
<rect x="231" y="459" width="3" height="27" fill="#c0c0c0"/>
<rect x="235" y="459" width="3" height="26" fill="#c0c0c0"/>
<rect x="239" y="459" width="3" height="25" fill="#c0c0c0"/>
<rect x="243" y="459" width="3" height="24" fill="#c0c0c0"/>
<rect x="247" y="459" width="3" height="23" fill="#c0c0c0"/>
<rect x="251" y="459" width="3" height="23" fill="#c0c0c0"/>
<rect x="255" y="459" width="3" height="21" fill="#c0c0c0"/>
<rect x="259" y="459" width="3" height="20" fill="#c0c0c0"/>
<rect x="263" y="459" width="3" height="17" fill="#c0c0c0"/>
<rect x="267" y="459" width="3" height="15" fill="#c0c0c0"/>
<rect x="271" y="459" width="3" height="13" fill="#c0c0c0"/>
<rect x="275" y="459" width="3" height="10" fill="#c0c0c0"/>
<rect x="279" y="459" width="3" height="8" fill="#c0c0c0"/>
<rect x="283" y="459" width="3" height="8" fill="#c0c0c0"/>
<rect x="287" y="459" width="3" height="6" fill="#c0c0c0"/>
<rect x="291" y="459" width="3" height="4" fill="#c0c0c0"/>
<rect x="295" y="457" width="3" height="2" fill="#c0c0c0"/>
<rect x="299" y="454" width="3" height="5" fill="#c0c0c0"/>
<rect x="303" y="452" width="3" height="7" fill="#c0c0c0"/>
<rect x="307" y="452" width="3" height="7" fill="#c0c0c0"/>
<rect x="311" y="450" width="3" height="9" fill="#c0c0c0"/>
<rect x="315" y="448" width="3" height="11" fill="#c0c0c0"/>
<rect x="319" y="446" width="3" height="13" fill="#c0c0c0"/>
<rect x="323" y="443" width="3" height="16" fill="#c0c0c0"/>
<rect x="327" y="441" width="3" height="18" fill="#c0c0c0"/>
<rect x="331" y="439" width="3" height="20" fill="#c0c0c0"/>
<rect x="335" y="438" width="3" height="21" fill="#c0c0c0"/>
<rect x="339" y="437" width="3" height="22" fill="#c0c0c0"/>
<rect x="343" y="438" width="3" height="21" fill="#c0c0c0"/>
<rect x="347" y="434" width="3" height="25" fill="#c0c0c0"/>
<rect x="351" y="434" width="3" height="25" fill="#c0c0c0"/>
<rect x="355" y="433" width="3" height="26" fill="#c0c0c0"/>
<rect x="359" y="432" width="3" height="27" fill="#c0c0c0"/>
<rect x="363" y="431" width="3" height="28" fill="#c0c0c0"/>
<rect x="367" y="430" width="3" height="29" fill="#c0c0c0"/>
<rect x="371" y="428" width="3" height="31" fill="#c0c0c0"/>
<rect x="375" y="428" width="3" height="31" fill="#c0c0c0"/>
<rect x="379" y="431" width="3" height="28" fill="#c0c0c0"/>
<rect x="383" y="435" width="3" height="24" fill="#c0c0c0"/>
<rect x="387" y="440" width="3" height="19" fill="#c0c0c0"/>
<rect x="391" y="441" width="3" height="18" fill="#c0c0c0"/>
<rect x="395" y="443" width="3" height="16" fill="#c0c0c0"/>
<rect x="399" y="444" width="3" height="15" fill="#c0c0c0"/>
<rect x="403" y="442" width="3" height="17" fill="#c0c0c0"/>
<rect x="407" y="440" width="3" height="19" fill="#c0c0c0"/>
<rect x="411" y="439" width="3" height="20" fill="#c0c0c0"/>
<rect x="415" y="439" width="3" height="20" fill="#c0c0c0"/>
<rect x="419" y="437" width="3" height="22" fill="#c0c0c0"/>
<rect x="423" y="437" width="3" height="22" fill="#c0c0c0"/>
<rect x="427" y="435" width="3" height="24" fill="#c0c0c0"/>
<rect x="431" y="434" width="3" height="25" fill="#c0c0c0"/>
<rect x="435" y="435" width="3" height="24" fill="#c0c0c0"/>
<rect x="439" y="438" width="3" height="21" fill="#c0c0c0"/>
<rect x="443" y="440" width="3" height="19" fill="#c0c0c0"/>
<rect x="447" y="442" width="3" height="17" fill="#c0c0c0"/>
<rect x="451" y="444" width="3" height="15" fill="#c0c0c0"/>
<rect x="455" y="445" width="3" height="14" fill="#c0c0c0"/>
<rect x="459" y="447" width="3" height="12" fill="#c0c0c0"/>
<rect x="463" y="450" width="3" height="9" fill="#c0c0c0"/>
<rect x="467" y="456" width="3" height="3" fill="#c0c0c0"/>
<rect x="471" y="459" width="3" height="1" fill="#c0c0c0"/>
<rect x="475" y="459" width="3" height="2" fill="#c0c0c0"/>
<rect x="479" y="459" width="3" height="3" fill="#c0c0c0"/>
<rect x="483" y="459" width="3" height="3" fill="#c0c0c0"/>
<rect x="487" y="459" width="3" height="3" fill="#c0c0c0"/>
<rect x="491" y="459" width="3" height="6" fill="#c0c0c0"/>
<rect x="495" y="459" width="3" height="8" fill="#c0c0c0"/>
<rect x="499" y="459" width="3" height="9" fill="#c0c0c0"/>
<rect x="503" y="459" width="3" height="12" fill="#c0c0c0"/>
<rect x="507" y="459" width="3" height="17" fill="#c0c0c0"/>
<rect x="511" y="459" width="3" height="20" fill="#c0c0c0"/>
<rect x="515" y="459" width="3" height="21" fill="#c0c0c0"/>
<rect x="519" y="459" width="3" height="22" fill="#c0c0c0"/>
<rect x="523" y="459" width="3" height="23" fill="#c0c0c0"/>
<rect x="527" y="459" width="3" height="23" fill="#c0c0c0"/>
<rect x="531" y="459" width="3" height="24" fill="#c0c0c0"/>
<rect x="535" y="459" width="3" height="25" fill="#c0c0c0"/>
<rect x="539" y="459" width="3" height="22" fill="#c0c0c0"/>
<rect x="543" y="459" width="3" height="18" fill="#c0c0c0"/>
<rect x="547" y="459" width="3" height="16" fill="#c0c0c0"/>
<rect x="551" y="459" width="3" height="14" fill="#c0c0c0"/>
<rect x="555" y="459" width="3" height="11" fill="#c0c0c0"/>
<rect x="559" y="459" width="3" height="6" fill="#c0c0c0"/>
<rect x="563" y="459" width="3" height="1" fill="#c0c0c0"/>
<rect x="567" y="456" width="3" height="3" fill="#c0c0c0"/>
<rect x="571" y="454" width="3" height="5" fill="#c0c0c0"/>
<rect x="575" y="454" width="3" height="5" fill="#c0c0c0"/>
<rect x="579" y="454" width="3" height="5" fill="#c0c0c0"/>
<rect x="583" y="454" width="3" height="5" fill="#c0c0c0"/>
<rect x="587" y="452" width="3" height="7" fill="#c0c0c0"/>
<rect x="591" y="451" width="3" height="8" fill="#c0c0c0"/>
<rect x="595" y="452" width="3" height="7" fill="#c0c0c0"/>
<rect x="599" y="453" width="3" height="6" fill="#c0c0c0"/>
<rect x="603" y="453" width="3" height="6" fill="#c0c0c0"/>
<rect x="607" y="453" width="3" height="6" fill="#c0c0c0"/>
<rect x="611" y="452" width="3" height="7" fill="#c0c0c0"/>
<rect x="615" y="452" width="3" height="7" fill="#c0c0c0"/>
<rect x="619" y="452" width="3" height="7" fill="#c0c0c0"/>
<rect x="623" y="452" width="3" height="7" fill="#c0c0c0"/>
<rect x="627" y="452" width="3" height="7" fill="#c0c0c0"/>
<rect x="631" y="452" width="3" height="7" fill="#c0c0c0"/>
<rect x="635" y="452" width="3" height="7" fill="#c0c0c0"/>
<rect x="639" y="452" width="3" height="7" fill="#c0c0c0"/>
<rect x="643" y="451" width="3" height="8" fill="#c0c0c0"/>
<rect x="647" y="451" width="3" height="8" fill="#c0c0c0"/>
<rect x="651" y="451" width="3" height="8" fill="#c0c0c0"/>
<rect x="655" y="450" width="3" height="9" fill="#c0c0c0"/>
<rect x="659" y="451" width="3" height="8" fill="#c0c0c0"/>
<rect x="663" y="453" width="3" height="6" fill="#c0c0c0"/>
<rect x="667" y="454" width="3" height="5" fill="#c0c0c0"/>
<rect x="671" y="455" width="3" height="4" fill="#c0c0c0"/>
<rect x="675" y="457" width="3" height="2" fill="#c0c0c0"/>
<rect x="679" y="459" width="3" height="1" fill="#c0c0c0"/>
<rect x="683" y="459" width="3" height="1" fill="#c0c0c0"/>
<rect x="687" y="459" width="3" height="1" fill="#c0c0c0"/>
<rect x="691" y="455" width="3" height="4" fill="#c0c0c0"/>
<rect x="695" y="451" width="3" height="8" fill="#c0c0c0"/>
<rect x="699" y="450" width="3" height="9" fill="#c0c0c0"/>
<rect x="703" y="451" width="3" height="8" fill="#c0c0c0"/>
<rect x="707" y="453" width="3" height="6" fill="#c0c0c0"/>
<rect x="711" y="454" width="3" height="5" fill="#c0c0c0"/>
<rect x="715" y="452" width="3" height="7" fill="#c0c0c0"/>
<rect x="719" y="452" width="3" height="7" fill="#c0c0c0"/>
<rect x="723" y="455" width="3" height="4" fill="#c0c0c0"/>
<rect x="727" y="458" width="3" height="1" fill="#c0c0c0"/>
<rect x="731" y="459" width="3" height="4" fill="#c0c0c0"/>
<rect x="735" y="459" width="3" height="7" fill="#c0c0c0"/>
<rect x="739" y="459" width="3" height="10" fill="#c0c0c0"/>
<rect x="743" y="459" width="3" height="12" fill="#c0c0c0"/>
<rect x="747" y="459" width="3" height="14" fill="#c0c0c0"/>
<rect x="751" y="459" width="3" height="17" fill="#c0c0c0"/>
<rect x="755" y="459" width="3" height="20" fill="#c0c0c0"/>
<rect x="759" y="459" width="3" height="22" fill="#c0c0c0"/>
<rect x="763" y="459" width="3" height="22" fill="#c0c0c0"/>
<rect x="767" y="459" width="3" height="23" fill="#c0c0c0"/>
<rect x="771" y="459" width="3" height="23" fill="#c0c0c0"/>
<rect x="775" y="459" width="3" height="23" fill="#c0c0c0"/>
<rect x="779" y="459" width="3" height="21" fill="#c0c0c0"/>
<rect x="783" y="459" width="3" height="20" fill="#c0c0c0"/>
<rect x="787" y="459" width="3" height="21" fill="#c0c0c0"/>
<rect x="791" y="459" width="3" height="21" fill="#c0c0c0"/>
<rect x="795" y="459" width="3" height="18" fill="#c0c0c0"/>
<rect x="799" y="459" width="3" height="14" fill="#c0c0c0"/>
<rect x="803" y="459" width="3" height="13" fill="#c0c0c0"/>
<rect x="807" y="459" width="3" height="10" fill="#c0c0c0"/>
<rect x="811" y="459" width="3" height="8" fill="#c0c0c0"/>
<rect x="815" y="459" width="3" height="5" fill="#c0c0c0"/>
<rect x="819" y="459" width="3" height="5" fill="#c0c0c0"/>
<rect x="823" y="459" width="3" height="4" fill="#c0c0c0"/>
<rect x="827" y="459" width="3" height="3" fill="#c0c0c0"/>
<rect x="831" y="459" width="3" height="2" fill="#c0c0c0"/>
<rect x="835" y="459" width="3" height="1" fill="#c0c0c0"/>
<rect x="839" y="459" width="3" height="1" fill="#c0c0c0"/>
<rect x="843" y="459" width="3" height="3" fill="#c0c0c0"/>
<rect x="847" y="459" width="3" height="2" fill="#c0c0c0"/>
<rect x="851" y="457" width="3" height="2" fill="#c0c0c0"/>
<rect x="855" y="453" width="3" height="6" fill="#c0c0c0"/>
<rect x="859" y="450" width="3" height="9" fill="#c0c0c0"/>
<rect x="863" y="446" width="3" height="13" fill="#c0c0c0"/>
<rect x="867" y="443" width="3" height="16" fill="#c0c0c0"/>
<rect x="871" y="441" width="3" height="18" fill="#c0c0c0"/>
<rect x="875" y="438" width="3" height="21" fill="#c0c0c0"/>
<rect x="879" y="436" width="3" height="23" fill="#c0c0c0"/>
<rect x="883" y="434" width="3" height="25" fill="#c0c0c0"/>
<rect x="887" y="434" width="3" height="25" fill="#c0c0c0"/>
<rect x="891" y="437" width="3" height="22" fill="#c0c0c0"/>
<rect x="895" y="437" width="3" height="22" fill="#c0c0c0"/>
<rect x="899" y="435" width="3" height="24" fill="#c0c0c0"/>
<rect x="903" y="433" width="3" height="26" fill="#c0c0c0"/>
<rect x="907" y="430" width="3" height="29" fill="#c0c0c0"/>
<rect x="911" y="427" width="3" height="32" fill="#c0c0c0"/>
<rect x="915" y="425" width="3" height="34" fill="#c0c0c0"/>
<rect x="919" y="424" width="3" height="35" fill="#c0c0c0"/>
<rect x="923" y="424" width="3" height="35" fill="#c0c0c0"/>
<path d="M4 454v1h1v-1zM5 453v1h1v-1zM6 453v1h1v-1zM7 452v1h1v-1zM8 452v1h1v-1zM9 451v1h1v-1zM10 451v1h1v-1zM11 450v1h1v-1zM12 450v1h1v-1zM13 449v1h1v-1zM14 449v1h1v-1zM15 448v1h1v-1zM16 448v1h1v-1zM17 447v1h1v-1zM18 447v1h1v-1zM19 446v1h1v-1zM20 446v1h1v-1zM21 446v1h1v-1zM22 445v1h1v-1zM23 445v1h1v-1zM24 444v1h1v-1zM25 444v1h1v-1zM26 444v1h1v-1zM27 443v1h1v-1zM28 443v1h1v-1zM29 442v1h1v-1zM30 442v1h1v-1zM31 441v1h1v-1zM32 441v1h1v-1zM33 441v1h1v-1zM34 441v1h1v-1zM35 441v1h1v-1zM36 441v1h1v-1zM37 440v1h1v-1zM38 440v1h1v-1zM39 440v1h1v-1zM40 440v1h1v-1zM41 440v1h1v-1zM42 440v1h1v-1zM43 441v1h1v-1zM44 442v1h1v-1zM45 442v1h1v-1zM46 442v1h1v-1zM47 443v1h1v-1zM48 444v1h1v-1zM49 444v1h1v-1zM50 444v1h1v-1zM51 445v1h1v-1zM52 446v1h1v-1zM53 446v1h1v-1zM54 446v1h1v-1zM55 447v1h1v-1zM56 448v1h1v-1zM57 448v1h1v-1zM58 448v1h1v-1zM59 449v1h1v-1zM60 450v1h1v-1zM61 450v1h1v-1zM62 450v1h1v-1zM63 451v1h1v-1zM64 452v1h1v-1zM65 452v1h1v-1zM66 452v1h1v-1zM67 453v1h1v-1zM68 453v1h1v-1zM69 454v1h1v-1zM70 454v1h1v-1zM71 454v1h1v-1zM72 454v1h1v-1zM73 455v1h1v-1zM74 455v1h1v-1zM75 455v1h1v-1zM76 456v1h1v-1zM77 456v1h1v-1zM78 456v1h1v-1zM79 456v1h1v-1zM80 456v1h1v-1zM81 456v1h1v-1zM82 457v1h1v-1zM83 457v1h1v-1zM84 457v1h1v-1zM85 457v1h1v-1zM86 457v1h1v-1zM87 457v1h1v-1zM88 457v1h1v-1zM89 457v1h1v-1zM90 457v1h1v-1zM91 456v1h1v-1zM92 456v1h1v-1zM93 456v1h1v-1zM94 456v1h1v-1zM95 456v1h1v-1zM96 456v1h1v-1zM97 456v1h1v-1zM98 456v1h1v-1zM99 455v1h1v-1zM100 455v1h1v-1zM101 455v1h1v-1zM102 454v1h1v-1zM103 454v1h1v-1zM104 454v1h1v-1zM105 454v1h1v-1zM106 453v1h1v-1zM107 453v1h1v-1zM108 453v1h1v-1zM109 452v1h1v-1zM110 452v1h1v-1zM111 452v1h1v-1zM112 452v1h1v-1zM113 451v1h1v-1zM114 451v1h1v-1zM115 451v1h1v-1zM116 450v1h1v-1zM117 450v1h1v-1zM118 450v1h1v-1zM119 449v1h1v-1zM120 449v1h1v-1zM121 449v1h1v-1zM122 448v1h1v-1zM123 448v1h1v-1zM124 448v1h1v-1zM125 448v1h1v-1zM126 447v1h1v-1zM127 447v1h1v-1zM128 447v1h1v-1zM129 447v1h1v-1zM130 447v1h1v-1zM131 447v1h1v-1zM132 447v1h1v-1zM133 447v1h1v-1zM134 447v1h1v-1zM135 447v1h1v-1zM136 447v1h1v-1zM137 447v1h1v-1zM138 447v1h1v-1zM139 447v1h1v-1zM140 447v1h1v-1zM141 447v1h1v-1zM142 447v1h1v-1zM143 447v1h1v-1zM144 448v1h1v-1zM145 448v1h1v-1zM146 448v1h1v-1zM147 448v1h1v-1zM148 448v1h1v-1zM149 448v1h1v-1zM150 448v1h1v-1zM151 448v1h1v-1zM152 449v1h1v-1zM153 449v1h1v-1zM154 450v1h1v-1zM155 450v1h1v-1zM156 450v1h1v-1zM157 451v1h1v-1zM158 451v1h1v-1zM159 452v1h1v-1zM160 452v1h1v-1zM161 452v1h1v-1zM162 453v1h1v-1zM163 453v1h1v-1zM164 453v1h1v-1zM165 454v1h1v-1zM166 454v1h1v-1zM167 454v1h1v-1zM168 454v1h1v-1zM169 455v1h1v-1zM170 455v1h1v-1zM171 455v1h1v-1zM172 456v1h1v-1zM173 456v1h1v-1zM174 456v1h1v-1zM175 457v1h1v-1zM176 457v1h1v-1zM177 458v1h1v-1zM178 458v1h1v-1zM179 459v1h1v-1zM180 459v1h1v-1zM181 460v1h1v-1zM182 461v1h1v-1zM183 461v1h1v-1zM184 462v1h1v-1zM185 462v1h1v-1zM186 463v1h1v-1zM187 464v1h1v-1zM188 464v1h1v-1zM189 464v1h1v-1zM190 465v1h1v-1zM191 466v1h1v-1zM192 466v1h1v-1zM193 466v1h1v-1zM194 467v1h1v-1zM195 468v1h1v-1zM196 468v1h1v-1zM197 469v1h1v-1zM198 469v1h1v-1zM199 470v1h1v-1zM200 471v1h1v-1zM201 471v1h1v-1zM202 472v1h1v-1zM203 472v1h1v-1zM204 473v1h1v-1zM205 474v1h1v-1zM206 474v1h1v-1zM207 474v1h1v-1zM208 475v1h1v-1zM209 476v1h1v-1zM210 476v1h1v-1zM211 476v1h1v-1zM212 477v1h1v-1zM213 478v1h1v-1zM214 478v1h1v-1zM215 478v1h1v-1zM216 479v1h1v-1zM217 479v1h1v-1zM218 480v1h1v-1zM219 480v1h1v-1zM220 480v1h1v-1zM221 481v1h1v-1zM222 481v1h1v-1zM223 482v1h1v-1zM224 482v1h1v-1zM225 482v1h1v-1zM226 483v1h1v-1zM227 483v1h1v-1zM228 484v1h1v-1zM229 484v1h1v-1zM230 484v1h1v-1zM231 485v1h1v-1zM232 485v1h1v-1zM233 485v1h1v-1zM234 485v1h1v-1zM235 485v1h1v-1zM236 485v1h1v-1zM237 485v1h1v-1zM238 485v1h1v-1zM239 485v1h1v-1zM240 485v1h1v-1zM241 485v1h1v-1zM242 485v1h1v-1zM243 485v1h1v-1zM244 485v1h1v-1zM245 485v1h1v-1zM246 485v1h1v-1zM247 485v1h1v-1zM248 485v1h1v-1zM249 484v1h1v-1zM250 484v1h1v-1zM251 484v1h1v-1zM252 484v1h1v-1zM253 484v1h1v-1zM254 484v1h1v-1zM255 484v1h1v-1zM256 483v1h1v-1zM257 483v1h1v-1zM258 482v1h1v-1zM259 482v1h1v-1zM260 482v1h1v-1zM261 481v1h1v-1zM262 481v1h1v-1zM263 480v1h1v-1zM264 480v1h1v-1zM265 480v1h1v-1zM266 479v1h1v-1zM267 479v1h1v-1zM268 479v1h1v-1zM269 478v1h1v-1zM270 478v1h1v-1zM271 478v1h1v-1zM272 478v1h1v-1zM273 477v1h1v-1zM274 477v1h1v-1zM275 477v1h1v-1zM276 476v1h1v-1zM277 476v1h1v-1zM278 475v1h1v-1zM279 475v1h1v-1zM280 475v1h1v-1zM281 474v1h1v-1zM282 474v1h1v-1zM283 473v1h1v-1zM284 473v1h1v-1zM285 472v1h1v-1zM286 472v1h1v-1zM287 472v1h1v-1zM288 471v1h1v-1zM289 470v1h1v-1zM290 470v1h1v-1zM291 470v1h1v-1zM292 469v1h1v-1zM293 468v1h1v-1zM294 468v1h1v-1zM295 467v1h1v-1zM296 467v1h1v-1zM297 466v1h1v-1zM298 465v1h1v-1zM299 465v1h1v-1zM300 464v1h1v-1zM301 464v1h1v-1zM302 463v1h1v-1zM303 462v1h1v-1zM304 462v1h1v-1zM305 462v1h1v-1zM306 461v1h1v-1zM307 460v1h1v-1zM308 460v1h1v-1zM309 460v1h1v-1zM310 459v1h1v-1zM311 459v1h1v-1zM312 458v1h1v-1zM313 458v1h1v-1zM314 457v1h1v-1zM315 457v1h1v-1zM316 457v1h1v-1zM317 456v1h1v-1zM318 456v1h1v-1zM319 455v1h1v-1zM320 455v1h1v-1zM321 454v1h1v-1zM322 453v1h1v-1zM323 452v1h1v-1zM324 452v1h1v-1zM325 451v1h1v-1zM326 450v1h1v-1zM327 449v1h1v-1zM328 449v1h1v-1zM329 448v1h1v-1zM330 448v1h1v-1zM331 447v1h1v-1zM332 447v1h1v-1zM333 447v1h1v-1zM334 446v1h1v-1zM335 446v1h1v-1zM336 445v1h1v-1zM337 445v1h1v-1zM338 445v1h1v-1zM339 444v1h1v-1zM340 444v1h1v-1zM341 443v1h1v-1zM342 443v1h1v-1zM343 442v1h1v-1zM344 442v1h1v-1zM345 441v1h1v-1zM346 441v1h1v-1zM347 440v1h1v-1zM348 440v1h1v-1zM349 439v1h1v-1zM350 439v1h1v-1zM351 439v1h1v-1zM352 438v1h1v-1zM353 438v1h1v-1zM354 438v1h1v-1zM355 438v1h1v-1zM356 437v1h1v-1zM357 437v1h1v-1zM358 437v1h1v-1zM359 436v1h1v-1zM360 436v1h1v-1zM361 436v1h1v-1zM362 436v1h1v-1zM363 435v1h1v-1zM364 435v1h1v-1zM365 435v1h1v-1zM366 435v1h1v-1zM367 435v1h1v-1zM368 434v1h1v-1zM369 434v1h1v-1zM370 434v1h1v-1zM371 434v1h1v-1zM372 433v1h1v-1zM373 433v1h1v-1zM374 433v1h1v-1zM375 432v1h1v-1zM376 432v1h1v-1zM377 432v1h1v-1zM378 432v1h1v-1zM379 431v1h1v-1zM380 431v1h1v-1zM381 431v1h1v-1zM382 431v1h1v-1zM383 431v1h1v-1zM384 431v1h1v-1zM385 431v1h1v-1zM386 431v1h1v-1zM387 431v1h1v-1zM388 432v1h1v-1zM389 432v1h1v-1zM390 432v1h1v-1zM391 433v1h1v-1zM392 433v1h1v-1zM393 433v1h1v-1zM394 434v1h1v-1zM395 434v1h1v-1zM396 434v1h1v-1zM397 435v1h1v-1zM398 435v1h1v-1zM399 435v1h1v-1zM400 436v1h1v-1zM401 436v1h1v-1zM402 436v1h1v-1zM403 436v1h1v-1zM404 437v1h1v-1zM405 437v1h1v-1zM406 437v1h1v-1zM407 438v1h1v-1zM408 438v1h1v-1zM409 438v1h1v-1zM410 438v1h1v-1zM411 439v1h1v-1zM412 439v1h1v-1zM413 439v1h1v-1zM414 440v1h1v-1zM415 440v1h1v-1zM416 440v1h1v-1zM417 440v1h1v-1zM418 440v1h1v-1zM419 441v1h1v-1zM420 441v1h1v-1zM421 441v1h1v-1zM422 441v1h1v-1zM423 441v1h1v-1zM424 441v1h1v-1zM425 441v1h1v-1zM426 440v1h1v-1zM427 440v1h1v-1zM428 440v1h1v-1zM429 440v1h1v-1zM430 440v1h1v-1zM431 440v1h1v-1zM432 439v1h1v-1zM433 439v1h1v-1zM434 438v1h1v-1zM435 438v1h1v-1zM436 437v1h1v-1zM437 437v1h1v-1zM438 437v1h1v-1zM439 437v1h1v-1zM440 437v1h1v-1zM441 437v1h1v-1zM442 437v1h1v-1zM443 437v1h1v-1zM444 437v1h1v-1zM445 437v1h1v-1zM446 437v1h1v-1zM447 437v1h1v-1zM448 437v1h1v-1zM449 437v1h1v-1zM450 437v1h1v-1zM451 437v1h1v-1zM452 438v1h1v-1zM453 438v1h1v-1zM454 438v1h1v-1zM455 438v1h1v-1zM456 439v1h1v-1zM457 439v1h1v-1zM458 439v1h1v-1zM459 440v1h1v-1zM460 440v1h1v-1zM461 440v1h1v-1zM462 441v1h1v-1zM463 441v1h1v-1zM464 442v1h1v-1zM465 442v1h1v-1zM466 443v1h1v-1zM467 443v1h1v-1zM468 444v1h1v-1zM469 444v1h1v-1zM470 445v1h1v-1zM471 446v1h1v-1zM472 447v1h1v-1zM473 447v1h1v-1zM474 448v1h1v-1zM475 448v1h1v-1zM476 449v1h1v-1zM477 450v1h1v-1zM478 450v1h1v-1zM479 450v1h1v-1zM480 451v1h1v-1zM481 452v1h1v-1zM482 452v1h1v-1zM483 453v1h1v-1zM484 453v1h1v-1zM485 454v1h1v-1zM486 454v1h1v-1zM487 455v1h1v-1zM488 455v1h1v-1zM489 456v1h1v-1zM490 456v1h1v-1zM491 457v1h1v-1zM492 458v1h1v-1zM493 458v1h1v-1zM494 458v1h1v-1zM495 459v1h1v-1zM496 460v1h1v-1zM497 460v1h1v-1zM498 460v1h1v-1zM499 461v1h1v-1zM500 461v1h1v-1zM501 462v1h1v-1zM502 462v1h1v-1zM503 462v1h1v-1zM504 463v1h1v-1zM505 463v1h1v-1zM506 464v1h1v-1zM507 464v1h1v-1zM508 465v1h1v-1zM509 465v1h1v-1zM510 466v1h1v-1zM511 466v1h1v-1zM512 467v1h1v-1zM513 467v1h1v-1zM514 468v1h1v-1zM515 468v1h1v-1zM516 469v1h1v-1zM517 470v1h1v-1zM518 470v1h1v-1zM519 470v1h1v-1zM520 471v1h1v-1zM521 472v1h1v-1zM522 472v1h1v-1zM523 472v1h1v-1zM524 473v1h1v-1zM525 474v1h1v-1zM526 474v1h1v-1zM527 474v1h1v-1zM528 475v1h1v-1zM529 476v1h1v-1zM530 476v1h1v-1zM531 476v1h1v-1zM532 477v1h1v-1zM533 477v1h1v-1zM534 478v1h1v-1zM535 478v1h1v-1zM536 479v1h1v-1zM537 479v1h1v-1zM538 480v1h1v-1zM539 480v1h1v-1zM540 480v1h1v-1zM541 480v1h1v-1zM542 480v1h1v-1zM543 480v1h1v-1zM544 480v1h1v-1zM545 480v1h1v-1zM546 480v1h1v-1zM547 480v1h1v-1zM548 480v1h1v-1zM549 480v1h1v-1zM550 480v1h1v-1zM551 479v1h1v-1zM552 479v1h1v-1zM553 479v1h1v-1zM554 478v1h1v-1zM555 478v1h1v-1zM556 478v1h1v-1zM557 478v1h1v-1zM558 477v1h1v-1zM559 477v1h1v-1zM560 476v1h1v-1zM561 476v1h1v-1zM562 475v1h1v-1zM563 474v1h1v-1zM564 474v1h1v-1zM565 473v1h1v-1zM566 473v1h1v-1zM567 472v1h1v-1zM568 471v1h1v-1zM569 471v1h1v-1zM570 470v1h1v-1zM571 469v1h1v-1zM572 468v1h1v-1zM573 468v1h1v-1zM574 467v1h1v-1zM575 466v1h1v-1zM576 466v1h1v-1zM577 465v1h1v-1zM578 464v1h1v-1zM579 464v1h1v-1zM580 463v1h1v-1zM581 463v1h1v-1zM582 462v1h1v-1zM583 461v1h1v-1zM584 461v1h1v-1zM585 460v1h1v-1zM586 460v1h1v-1zM587 459v1h1v-1zM588 459v1h1v-1zM589 458v1h1v-1zM590 458v1h1v-1zM591 457v1h1v-1zM592 457v1h1v-1zM593 457v1h1v-1zM594 456v1h1v-1zM595 456v1h1v-1zM596 455v1h1v-1zM597 455v1h1v-1zM598 455v1h1v-1zM599 454v1h1v-1zM600 454v1h1v-1zM601 454v1h1v-1zM602 454v1h1v-1zM603 454v1h1v-1zM604 454v1h1v-1zM605 453v1h1v-1zM606 453v1h1v-1zM607 453v1h1v-1zM608 453v1h1v-1zM609 453v1h1v-1zM610 453v1h1v-1zM611 453v1h1v-1zM612 453v1h1v-1zM613 452v1h1v-1zM614 452v1h1v-1zM615 452v1h1v-1zM616 452v1h1v-1zM617 452v1h1v-1zM618 452v1h1v-1zM619 452v1h1v-1zM620 452v1h1v-1zM621 452v1h1v-1zM622 452v1h1v-1zM623 452v1h1v-1zM624 452v1h1v-1zM625 452v1h1v-1zM626 452v1h1v-1zM627 452v1h1v-1zM628 452v1h1v-1zM629 452v1h1v-1zM630 452v1h1v-1zM631 452v1h1v-1zM632 452v1h1v-1zM633 452v1h1v-1zM634 452v1h1v-1zM635 452v1h1v-1zM636 452v1h1v-1zM637 452v1h1v-1zM638 452v1h1v-1zM639 452v1h1v-1zM640 452v1h1v-1zM641 452v1h1v-1zM642 452v1h1v-1zM643 452v1h1v-1zM644 452v1h1v-1zM645 452v1h1v-1zM646 452v1h1v-1zM647 452v1h1v-1zM648 452v1h1v-1zM649 452v1h1v-1zM650 452v1h1v-1zM651 452v1h1v-1zM652 452v1h1v-1zM653 452v1h1v-1zM654 452v1h1v-1zM655 452v1h1v-1zM656 452v1h1v-1zM657 452v1h1v-1zM658 452v1h1v-1zM659 452v1h1v-1zM660 452v1h1v-1zM661 452v1h1v-1zM662 452v1h1v-1zM663 452v1h1v-1zM664 452v1h1v-1zM665 452v1h1v-1zM666 452v1h1v-1zM667 452v1h1v-1zM668 452v1h1v-1zM669 452v1h1v-1zM670 452v1h1v-1zM671 452v1h1v-1zM672 452v1h1v-1zM673 452v1h1v-1zM674 452v1h1v-1zM675 452v1h1v-1zM676 452v1h1v-1zM677 453v1h1v-1zM678 453v1h1v-1zM679 453v1h1v-1zM680 453v1h1v-1zM681 454v1h1v-1zM682 454v1h1v-1zM683 454v1h1v-1zM684 454v1h1v-1zM685 454v1h1v-1zM686 454v1h1v-1zM687 455v1h1v-1zM688 455v1h1v-1zM689 455v1h1v-1zM690 455v1h1v-1zM691 455v1h1v-1zM692 455v1h1v-1zM693 455v1h1v-1zM694 455v1h1v-1zM695 455v1h1v-1zM696 455v1h1v-1zM697 455v1h1v-1zM698 455v1h1v-1zM699 455v1h1v-1zM700 455v1h1v-1zM701 455v1h1v-1zM702 455v1h1v-1zM703 455v1h1v-1zM704 455v1h1v-1zM705 455v1h1v-1zM706 455v1h1v-1zM707 455v1h1v-1zM708 455v1h1v-1zM709 455v1h1v-1zM710 455v1h1v-1zM711 455v1h1v-1zM712 454v1h1v-1zM713 454v1h1v-1zM714 454v1h1v-1zM715 454v1h1v-1zM716 454v1h1v-1zM717 454v1h1v-1zM718 454v1h1v-1zM719 454v1h1v-1zM720 453v1h1v-1zM721 453v1h1v-1zM722 453v1h1v-1zM723 453v1h1v-1zM724 453v1h1v-1zM725 453v1h1v-1zM726 453v1h1v-1zM727 453v1h1v-1zM728 453v1h1v-1zM729 453v1h1v-1zM730 453v1h1v-1zM731 454v1h1v-1zM732 454v1h1v-1zM733 455v1h1v-1zM734 455v1h1v-1zM735 456v1h1v-1zM736 456v1h1v-1zM737 457v1h1v-1zM738 457v1h1v-1zM739 458v1h1v-1zM740 458v1h1v-1zM741 459v1h1v-1zM742 459v1h1v-1zM743 459v1h1v-1zM744 460v1h1v-1zM745 460v1h1v-1zM746 460v1h1v-1zM747 461v1h1v-1zM748 461v1h1v-1zM749 462v1h1v-1zM750 462v1h1v-1zM751 463v1h1v-1zM752 464v1h1v-1zM753 464v1h1v-1zM754 465v1h1v-1zM755 466v1h1v-1zM756 467v1h1v-1zM757 468v1h1v-1zM758 468v1h1v-1zM759 469v1h1v-1zM760 470v1h1v-1zM761 471v1h1v-1zM762 471v1h1v-1zM763 472v1h1v-1zM764 472v1h1v-1zM765 473v1h1v-1zM766 473v1h1v-1zM767 474v1h1v-1zM768 474v1h1v-1zM769 475v1h1v-1zM770 475v1h1v-1zM771 476v1h1v-1zM772 476v1h1v-1zM773 477v1h1v-1zM774 477v1h1v-1zM775 477v1h1v-1zM776 478v1h1v-1zM777 478v1h1v-1zM778 479v1h1v-1zM779 479v1h1v-1zM780 479v1h1v-1zM781 479v1h1v-1zM782 479v1h1v-1zM783 479v1h1v-1zM784 480v1h1v-1zM785 480v1h1v-1zM786 480v1h1v-1zM787 480v1h1v-1zM788 480v1h1v-1zM789 480v1h1v-1zM790 480v1h1v-1zM791 480v1h1v-1zM792 480v1h1v-1zM793 480v1h1v-1zM794 480v1h1v-1zM795 480v1h1v-1zM796 480v1h1v-1zM797 480v1h1v-1zM798 480v1h1v-1zM799 479v1h1v-1zM800 479v1h1v-1zM801 479v1h1v-1zM802 479v1h1v-1zM803 478v1h1v-1zM804 478v1h1v-1zM805 478v1h1v-1zM806 477v1h1v-1zM807 477v1h1v-1zM808 476v1h1v-1zM809 476v1h1v-1zM810 476v1h1v-1zM811 475v1h1v-1zM812 475v1h1v-1zM813 474v1h1v-1zM814 474v1h1v-1zM815 474v1h1v-1zM816 473v1h1v-1zM817 472v1h1v-1zM818 472v1h1v-1zM819 472v1h1v-1zM820 471v1h1v-1zM821 470v1h1v-1zM822 470v1h1v-1zM823 470v1h1v-1zM824 469v1h1v-1zM825 469v1h1v-1zM826 468v1h1v-1zM827 468v1h1v-1zM828 467v1h1v-1zM829 467v1h1v-1zM830 467v1h1v-1zM831 466v1h1v-1zM832 466v1h1v-1zM833 465v1h1v-1zM834 465v1h1v-1zM835 464v1h1v-1zM836 464v1h1v-1zM837 464v1h1v-1zM838 463v1h1v-1zM839 462v1h1v-1zM840 462v1h1v-1zM841 462v1h1v-1zM842 462v1h1v-1zM843 462v1h1v-1zM844 462v1h1v-1zM845 461v1h1v-1zM846 461v1h1v-1zM847 461v1h1v-1zM848 461v1h1v-1zM849 461v1h1v-1zM850 461v1h1v-1zM851 460v1h1v-1zM852 460v1h1v-1zM853 460v1h1v-1zM854 460v1h1v-1zM855 460v1h1v-1zM856 459v1h1v-1zM857 459v1h1v-1zM858 459v1h1v-1zM859 458v1h1v-1zM860 458v1h1v-1zM861 457v1h1v-1zM862 457v1h1v-1zM863 457v1h1v-1zM864 456v1h1v-1zM865 456v1h1v-1zM866 455v1h1v-1zM867 455v1h1v-1zM868 454v1h1v-1zM869 454v1h1v-1zM870 453v1h1v-1zM871 453v1h1v-1zM872 452v1h1v-1zM873 452v1h1v-1zM874 451v1h1v-1zM875 451v1h1v-1zM876 450v1h1v-1zM877 449v1h1v-1zM878 449v1h1v-1zM879 448v1h1v-1zM880 447v1h1v-1zM881 447v1h1v-1zM882 446v1h1v-1zM883 445v1h1v-1zM884 445v1h1v-1zM885 444v1h1v-1zM886 444v1h1v-1zM887 443v1h1v-1zM888 442v1h1v-1zM889 442v1h1v-1zM890 442v1h1v-1zM891 441v1h1v-1zM892 441v1h1v-1zM893 440v1h1v-1zM894 440v1h1v-1zM895 440v1h1v-1zM896 439v1h1v-1zM897 439v1h1v-1zM898 439v1h1v-1zM899 438v1h1v-1zM900 438v1h1v-1zM901 437v1h1v-1zM902 437v1h1v-1zM903 437v1h1v-1zM904 436v1h1v-1zM905 436v1h1v-1zM906 436v1h1v-1zM907 436v1h1v-1zM908 436v1h1v-1zM909 435v1h1v-1zM910 435v1h1v-1zM911 435v1h1v-1zM912 434v1h1v-1zM913 434v1h1v-1zM914 433v1h1v-1zM915 433v1h1v-1zM916 433v1h1v-1zM917 432v1h1v-1zM918 432v1h1v-1zM919 431v1h1v-1zM920 431v1h1v-1zM921 431v1h1v-1zM922 430v1h1v-1zM923 430v1h1v-1zM924 430v1h1v-1z" fill="#ff0000"/>
<path d="M4 520v2h1v-2zM5 518v2h1v-2zM6 516v2h1v-2zM7 514v2h1v-2zM8 514v1h1v-1zM9 513v1h1v-1zM10 512v1h1v-1zM11 512v1h1v-1zM12 512v1h1v-1zM13 512v1h1v-1zM14 513v1h1v-1zM15 513v1h1v-1zM16 514v3h1v-3zM17 517v2h1v-2zM18 519v4h1v-4zM19 523v3h1v-3zM20 526v2h1v-2zM21 528v1h1v-1zM22 529v1h1v-1zM23 530v1h1v-1zM24 531v1h1v-1zM25 531v1h1v-1zM26 531v1h1v-1zM27 531v1h1v-1zM28 530v1h1v-1zM29 529v1h1v-1zM30 528v1h1v-1zM31 527v1h1v-1zM32 526v1h1v-1zM33 527v1h1v-1zM34 528v1h1v-1zM35 529v1h1v-1zM36 530v1h1v-1zM37 530v1h1v-1zM38 530v1h1v-1zM39 530v1h1v-1zM40 530v1h1v-1zM41 530v1h1v-1zM42 530v1h1v-1zM43 530v1h1v-1zM44 530v1h1v-1zM45 530v1h1v-1zM46 530v1h1v-1zM47 530v1h1v-1zM48 530v1h1v-1zM49 530v1h1v-1zM50 530v1h1v-1zM51 530v1h1v-1zM52 530v1h1v-1zM53 531v1h1v-1zM54 532v1h1v-1zM55 532v1h1v-1zM56 533v1h1v-1zM57 534v1h1v-1zM58 534v1h1v-1zM59 535v1h1v-1zM60 535v1h1v-1zM61 536v1h1v-1zM62 536v1h1v-1zM63 536v1h1v-1zM64 536v1h1v-1zM65 535v1h1v-1zM66 535v1h1v-1zM67 535v1h1v-1zM68 533v2h1v-2zM69 532v1h1v-1zM70 530v2h1v-2zM71 528v2h1v-2zM72 527v1h1v-1zM73 526v1h1v-1zM74 526v1h1v-1zM75 525v1h1v-1zM76 524v1h1v-1zM77 524v1h1v-1zM78 525v1h1v-1zM79 526v1h1v-1zM80 526v1h1v-1zM81 526v1h1v-1zM82 527v1h1v-1zM83 527v1h1v-1zM84 527v1h1v-1zM85 527v1h1v-1zM86 526v1h1v-1zM87 526v1h1v-1zM88 526v1h1v-1zM89 526v1h1v-1zM90 527v1h1v-1zM91 528v1h1v-1zM92 528v1h1v-1zM93 527v1h1v-1zM94 526v1h1v-1zM95 526v1h1v-1zM96 525v1h1v-1zM97 526v2h1v-2zM98 528v1h1v-1zM99 529v2h1v-2zM100 531v1h1v-1zM101 530v1h1v-1zM102 529v1h1v-1zM103 529v1h1v-1zM104 528v1h1v-1zM105 527v1h1v-1zM106 526v1h1v-1zM107 525v1h1v-1zM108 524v1h1v-1zM109 524v1h1v-1zM110 523v1h1v-1zM111 522v1h1v-1zM112 522v1h1v-1zM113 522v1h1v-1zM114 522v1h1v-1zM115 521v1h1v-1zM116 521v1h1v-1zM117 521v1h1v-1zM118 521v1h1v-1zM119 520v1h1v-1zM120 520v1h1v-1zM121 520v1h1v-1zM122 521v1h1v-1zM123 522v1h1v-1zM124 522v1h1v-1zM125 523v2h1v-2zM126 525v3h1v-3zM127 528v2h1v-2zM128 530v2h1v-2zM129 531v1h1v-1zM130 531v1h1v-1zM131 531v1h1v-1zM132 531v1h1v-1zM133 531v1h1v-1zM134 531v1h1v-1zM135 531v1h1v-1zM136 532v1h1v-1zM137 532v1h1v-1zM138 532v1h1v-1zM139 533v1h1v-1zM140 534v1h1v-1zM141 534v1h1v-1zM142 533v1h1v-1zM143 531v2h1v-2zM144 530v1h1v-1zM145 529v1h1v-1zM146 527v2h1v-2zM147 526v1h1v-1zM148 525v1h1v-1zM149 526v1h1v-1zM150 527v1h1v-1zM151 528v1h1v-1zM152 529v1h1v-1zM153 530v1h1v-1zM154 531v1h1v-1zM155 531v1h1v-1zM156 532v1h1v-1zM157 533v1h1v-1zM158 533v1h1v-1zM159 533v1h1v-1zM160 534v1h1v-1zM161 534v1h1v-1zM162 534v1h1v-1zM163 534v1h1v-1zM164 535v1h1v-1zM165 535v1h1v-1zM166 536v1h1v-1zM167 536v1h1v-1zM168 536v1h1v-1zM169 536v1h1v-1zM170 536v1h1v-1zM171 537v1h1v-1zM172 537v1h1v-1zM173 537v1h1v-1zM174 537v1h1v-1zM175 538v1h1v-1zM176 539v1h1v-1zM177 540v1h1v-1zM178 540v1h1v-1zM179 541v1h1v-1zM180 542v1h1v-1zM181 543v1h1v-1zM182 542v1h1v-1zM183 541v1h1v-1zM184 540v1h1v-1zM185 540v1h1v-1zM186 540v1h1v-1zM187 540v1h1v-1zM188 540v1h1v-1zM189 541v1h1v-1zM190 541v1h1v-1zM191 541v1h1v-1zM192 541v1h1v-1zM193 541v1h1v-1zM194 542v1h1v-1zM195 542v1h1v-1zM196 543v1h1v-1zM197 543v1h1v-1zM198 544v1h1v-1zM199 544v1h1v-1zM200 545v1h1v-1zM201 546v1h1v-1zM202 546v1h1v-1zM203 545v1h1v-1zM204 545v1h1v-1zM205 545v1h1v-1zM206 545v1h1v-1zM207 545v1h1v-1zM208 545v1h1v-1zM209 545v1h1v-1zM210 545v1h1v-1zM211 545v1h1v-1zM212 545v1h1v-1zM213 545v1h1v-1zM214 545v1h1v-1zM215 546v1h1v-1zM216 546v1h1v-1zM217 547v1h1v-1zM218 547v1h1v-1zM219 548v1h1v-1zM220 548v1h1v-1zM221 549v1h1v-1zM222 546v3h1v-3zM223 545v1h1v-1zM224 543v2h1v-2zM225 543v1h1v-1zM226 543v1h1v-1zM227 543v1h1v-1zM228 543v1h1v-1zM229 542v1h1v-1zM230 542v1h1v-1zM231 542v1h1v-1zM232 542v1h1v-1zM233 542v1h1v-1zM234 542v1h1v-1zM235 541v1h1v-1zM236 541v1h1v-1zM237 540v1h1v-1zM238 540v1h1v-1zM239 539v1h1v-1zM240 539v1h1v-1zM241 539v1h1v-1zM242 540v1h1v-1zM243 540v1h1v-1zM244 541v1h1v-1zM245 541v1h1v-1zM246 542v1h1v-1zM247 542v1h1v-1zM248 542v1h1v-1zM249 541v1h1v-1zM250 541v1h1v-1zM251 540v1h1v-1zM252 540v1h1v-1zM253 539v1h1v-1zM254 539v1h1v-1zM255 538v1h1v-1zM256 538v1h1v-1zM257 538v1h1v-1zM258 538v1h1v-1zM259 538v1h1v-1zM260 538v1h1v-1zM261 537v1h1v-1zM262 536v1h1v-1zM263 535v1h1v-1zM264 534v1h1v-1zM265 535v1h1v-1zM266 536v1h1v-1zM267 536v1h1v-1zM268 536v2h1v-2zM269 535v1h1v-1zM270 532v3h1v-3zM271 531v1h1v-1zM272 529v2h1v-2zM273 529v1h1v-1zM274 528v1h1v-1zM275 528v1h1v-1zM276 528v1h1v-1zM277 528v1h1v-1zM278 528v1h1v-1zM279 529v1h1v-1zM280 529v1h1v-1zM281 529v1h1v-1zM282 529v1h1v-1zM283 529v1h1v-1zM284 530v1h1v-1zM285 530v1h1v-1zM286 530v1h1v-1zM287 531v1h1v-1zM288 531v1h1v-1zM289 529v2h1v-2zM290 527v2h1v-2zM291 526v1h1v-1zM292 524v2h1v-2zM293 523v1h1v-1zM294 522v1h1v-1zM295 520v2h1v-2zM296 519v1h1v-1zM297 518v1h1v-1zM298 519v2h1v-2zM299 521v1h1v-1zM300 522v1h1v-1zM301 522v1h1v-1zM302 522v1h1v-1zM303 523v1h1v-1zM304 523v1h1v-1zM305 524v1h1v-1zM306 524v1h1v-1zM307 525v1h1v-1zM308 526v1h1v-1zM309 525v1h1v-1zM310 524v1h1v-1zM311 523v1h1v-1zM312 522v1h1v-1zM313 521v1h1v-1zM314 520v1h1v-1zM315 520v1h1v-1zM316 519v1h1v-1zM317 520v1h1v-1zM318 520v1h1v-1zM319 520v1h1v-1zM320 521v1h1v-1zM321 520v1h1v-1zM322 519v1h1v-1zM323 518v1h1v-1zM324 517v1h1v-1zM325 517v1h1v-1zM326 518v1h1v-1zM327 518v1h1v-1zM328 518v1h1v-1zM329 518v1h1v-1zM330 517v1h1v-1zM331 516v1h1v-1zM332 516v1h1v-1zM333 517v1h1v-1zM334 517v1h1v-1zM335 518v1h1v-1zM336 518v1h1v-1zM337 519v1h1v-1zM338 520v1h1v-1zM339 520v1h1v-1zM340 520v1h1v-1zM341 521v1h1v-1zM342 521v1h1v-1zM343 520v1h1v-1zM344 520v1h1v-1zM345 520v1h1v-1zM346 518v2h1v-2zM347 516v2h1v-2zM348 514v2h1v-2zM349 513v1h1v-1zM350 514v2h1v-2zM351 516v2h1v-2zM352 518v2h1v-2zM353 520v1h1v-1zM354 520v1h1v-1zM355 520v1h1v-1zM356 519v1h1v-1zM357 519v1h1v-1zM358 519v1h1v-1zM359 518v1h1v-1zM360 518v1h1v-1zM361 517v1h1v-1zM362 517v1h1v-1zM363 516v1h1v-1zM364 516v1h1v-1zM365 516v1h1v-1zM366 516v1h1v-1zM367 516v1h1v-1zM368 516v1h1v-1zM369 516v1h1v-1zM370 515v1h1v-1zM371 515v1h1v-1zM372 514v1h1v-1zM373 515v1h1v-1zM374 516v1h1v-1zM375 516v1h1v-1zM376 517v1h1v-1zM377 518v1h1v-1zM378 519v2h1v-2zM379 521v1h1v-1zM380 522v2h1v-2zM381 524v1h1v-1zM382 525v3h1v-3zM383 528v1h1v-1zM384 529v3h1v-3zM385 532v1h1v-1zM386 532v1h1v-1zM387 532v1h1v-1zM388 532v1h1v-1zM389 531v1h1v-1zM390 530v1h1v-1zM391 529v1h1v-1zM392 528v1h1v-1zM393 527v1h1v-1zM394 527v1h1v-1zM395 526v1h1v-1zM396 526v1h1v-1zM397 526v1h1v-1zM398 526v1h1v-1zM399 527v1h1v-1zM400 528v1h1v-1zM401 528v1h1v-1zM402 527v1h1v-1zM403 525v2h1v-2zM404 524v1h1v-1zM405 523v1h1v-1zM406 522v1h1v-1zM407 521v1h1v-1zM408 520v1h1v-1zM409 519v1h1v-1zM410 520v1h1v-1zM411 520v1h1v-1zM412 521v1h1v-1zM413 522v1h1v-1zM414 523v2h1v-2zM415 525v1h1v-1zM416 526v1h1v-1zM417 525v1h1v-1zM418 524v1h1v-1zM419 523v1h1v-1zM420 522v1h1v-1zM421 521v1h1v-1zM422 521v1h1v-1zM423 520v1h1v-1zM424 520v1h1v-1zM425 520v1h1v-1zM426 520v1h1v-1zM427 519v1h1v-1zM428 518v1h1v-1zM429 518v1h1v-1zM430 519v1h1v-1zM431 519v1h1v-1zM432 520v1h1v-1zM433 521v1h1v-1zM434 522v1h1v-1zM435 523v1h1v-1zM436 524v1h1v-1zM437 525v1h1v-1zM438 525v1h1v-1zM439 526v1h1v-1zM440 526v1h1v-1zM441 527v1h1v-1zM442 527v1h1v-1zM443 528v1h1v-1zM444 528v1h1v-1zM445 529v1h1v-1zM446 529v1h1v-1zM447 529v1h1v-1zM448 529v1h1v-1zM449 529v1h1v-1zM450 529v1h1v-1zM451 529v1h1v-1zM452 530v1h1v-1zM453 530v1h1v-1zM454 530v1h1v-1zM455 529v1h1v-1zM456 529v1h1v-1zM457 529v1h1v-1zM458 530v1h1v-1zM459 530v1h1v-1zM460 531v1h1v-1zM461 531v1h1v-1zM462 532v1h1v-1zM463 532v1h1v-1zM464 533v1h1v-1zM465 534v1h1v-1zM466 535v2h1v-2zM467 537v1h1v-1zM468 538v1h1v-1zM469 539v1h1v-1zM470 539v1h1v-1zM471 538v1h1v-1zM472 538v1h1v-1zM473 536v2h1v-2zM474 534v2h1v-2zM475 532v2h1v-2zM476 531v1h1v-1zM477 532v1h1v-1zM478 532v1h1v-1zM479 533v1h1v-1zM480 534v1h1v-1zM481 533v1h1v-1zM482 532v1h1v-1zM483 532v1h1v-1zM484 531v1h1v-1zM485 530v1h1v-1zM486 531v1h1v-1zM487 531v1h1v-1zM488 532v1h1v-1zM489 533v1h1v-1zM490 534v2h1v-2zM491 536v1h1v-1zM492 537v1h1v-1zM493 537v1h1v-1zM494 537v1h1v-1zM495 536v1h1v-1zM496 536v1h1v-1zM497 536v1h1v-1zM498 536v1h1v-1zM499 536v1h1v-1zM500 536v1h1v-1zM501 537v1h1v-1zM502 538v1h1v-1zM503 538v1h1v-1zM504 539v1h1v-1zM505 540v1h1v-1zM506 540v1h1v-1zM507 541v1h1v-1zM508 541v1h1v-1zM509 542v1h1v-1zM510 542v1h1v-1zM511 542v1h1v-1zM512 542v1h1v-1zM513 542v1h1v-1zM514 541v1h1v-1zM515 540v1h1v-1zM516 539v1h1v-1zM517 538v1h1v-1zM518 538v1h1v-1zM519 538v1h1v-1zM520 539v1h1v-1zM521 539v1h1v-1zM522 539v1h1v-1zM523 539v1h1v-1zM524 540v1h1v-1zM525 540v1h1v-1zM526 540v1h1v-1zM527 541v1h1v-1zM528 541v1h1v-1zM529 541v1h1v-1zM530 541v1h1v-1zM531 541v1h1v-1zM532 540v1h1v-1zM533 540v1h1v-1zM534 540v1h1v-1zM535 540v1h1v-1zM536 539v1h1v-1zM537 538v1h1v-1zM538 536v2h1v-2zM539 535v1h1v-1zM540 534v1h1v-1zM541 534v1h1v-1zM542 534v1h1v-1zM543 535v1h1v-1zM544 535v1h1v-1zM545 534v1h1v-1zM546 533v1h1v-1zM547 532v1h1v-1zM548 531v1h1v-1zM549 530v1h1v-1zM550 530v1h1v-1zM551 531v1h1v-1zM552 531v1h1v-1zM553 531v1h1v-1zM554 530v1h1v-1zM555 530v1h1v-1zM556 529v1h1v-1zM557 529v1h1v-1zM558 527v2h1v-2zM559 525v2h1v-2zM560 524v1h1v-1zM561 523v1h1v-1zM562 522v1h1v-1zM563 522v1h1v-1zM564 521v1h1v-1zM565 521v1h1v-1zM566 522v1h1v-1zM567 522v1h1v-1zM568 522v1h1v-1zM569 523v1h1v-1zM570 524v1h1v-1zM571 524v1h1v-1zM572 525v1h1v-1zM573 526v1h1v-1zM574 526v1h1v-1zM575 527v1h1v-1zM576 528v1h1v-1zM577 528v1h1v-1zM578 528v1h1v-1zM579 529v1h1v-1zM580 529v1h1v-1zM581 529v1h1v-1zM582 529v1h1v-1zM583 529v1h1v-1zM584 529v1h1v-1zM585 528v1h1v-1zM586 527v1h1v-1zM587 526v1h1v-1zM588 525v1h1v-1zM589 524v1h1v-1zM590 524v1h1v-1zM591 525v1h1v-1zM592 525v1h1v-1zM593 526v1h1v-1zM594 527v2h1v-2zM595 529v1h1v-1zM596 530v1h1v-1zM597 531v1h1v-1zM598 530v1h1v-1zM599 530v1h1v-1zM600 529v1h1v-1zM601 529v1h1v-1zM602 530v1h1v-1zM603 530v1h1v-1zM604 530v1h1v-1zM605 529v1h1v-1zM606 528v1h1v-1zM607 527v1h1v-1zM608 527v1h1v-1zM609 526v1h1v-1zM610 526v1h1v-1zM611 526v1h1v-1zM612 526v1h1v-1zM613 527v1h1v-1zM614 527v1h1v-1zM615 528v1h1v-1zM616 528v1h1v-1zM617 528v1h1v-1zM618 528v1h1v-1zM619 527v1h1v-1zM620 527v1h1v-1zM621 527v1h1v-1zM622 527v1h1v-1zM623 528v1h1v-1zM624 528v1h1v-1zM625 528v1h1v-1zM626 528v1h1v-1zM627 529v1h1v-1zM628 530v1h1v-1zM629 530v1h1v-1zM630 530v1h1v-1zM631 530v1h1v-1zM632 529v1h1v-1zM633 529v1h1v-1zM634 529v1h1v-1zM635 528v1h1v-1zM636 528v1h1v-1zM637 527v1h1v-1zM638 527v1h1v-1zM639 526v1h1v-1zM640 526v1h1v-1zM641 526v1h1v-1zM642 526v1h1v-1zM643 525v1h1v-1zM644 525v1h1v-1zM645 525v1h1v-1zM646 525v1h1v-1zM647 524v1h1v-1zM648 524v1h1v-1zM649 524v1h1v-1zM650 525v2h1v-2zM651 527v1h1v-1zM652 528v1h1v-1zM653 526v2h1v-2zM654 525v1h1v-1zM655 523v2h1v-2zM656 522v2h1v-2zM657 524v2h1v-2zM658 526v2h1v-2zM659 528v2h1v-2zM660 530v2h1v-2zM661 530v1h1v-1zM662 530v1h1v-1zM663 530v1h1v-1zM664 529v1h1v-1zM665 530v1h1v-1zM666 531v1h1v-1zM667 532v1h1v-1zM668 533v1h1v-1zM669 534v1h1v-1zM670 533v1h1v-1zM671 532v1h1v-1zM672 531v1h1v-1zM673 532v1h1v-1zM674 533v1h1v-1zM675 533v1h1v-1zM676 534v1h1v-1zM677 535v1h1v-1zM678 534v1h1v-1zM679 534v1h1v-1zM680 533v1h1v-1zM681 532v1h1v-1zM682 531v1h1v-1zM683 531v1h1v-1zM684 530v1h1v-1zM685 529v1h1v-1zM686 530v1h1v-1zM687 530v1h1v-1zM688 531v1h1v-1zM689 530v1h1v-1zM690 529v1h1v-1zM691 528v1h1v-1zM692 527v1h1v-1zM693 526v1h1v-1zM694 525v1h1v-1zM695 523v2h1v-2zM696 522v1h1v-1zM697 521v1h1v-1zM698 522v3h1v-3zM699 525v1h1v-1zM700 526v2h1v-2zM701 527v1h1v-1zM702 528v1h1v-1zM703 528v1h1v-1zM704 529v1h1v-1zM705 529v1h1v-1zM706 530v1h1v-1zM707 530v1h1v-1zM708 530v1h1v-1zM709 531v1h1v-1zM710 531v1h1v-1zM711 531v1h1v-1zM712 531v1h1v-1zM713 531v1h1v-1zM714 530v1h1v-1zM715 528v2h1v-2zM716 527v1h1v-1zM717 526v1h1v-1zM718 527v1h1v-1zM719 528v1h1v-1zM720 528v1h1v-1zM721 529v1h1v-1zM722 530v1h1v-1zM723 531v1h1v-1zM724 532v1h1v-1zM725 533v1h1v-1zM726 534v1h1v-1zM727 534v1h1v-1zM728 535v1h1v-1zM729 536v1h1v-1zM730 536v1h1v-1zM731 536v1h1v-1zM732 537v1h1v-1zM733 537v1h1v-1zM734 537v1h1v-1zM735 537v1h1v-1zM736 537v1h1v-1zM737 537v1h1v-1zM738 537v1h1v-1zM739 537v1h1v-1zM740 538v1h1v-1zM741 538v1h1v-1zM742 538v1h1v-1zM743 538v1h1v-1zM744 538v1h1v-1zM745 539v1h1v-1zM746 539v1h1v-1zM747 539v1h1v-1zM748 539v1h1v-1zM749 540v1h1v-1zM750 540v1h1v-1zM751 541v1h1v-1zM752 541v1h1v-1zM753 542v1h1v-1zM754 542v1h1v-1zM755 543v1h1v-1zM756 543v1h1v-1zM757 544v1h1v-1zM758 544v1h1v-1zM759 543v1h1v-1zM760 542v1h1v-1zM761 542v1h1v-1zM762 541v1h1v-1zM763 540v1h1v-1zM764 539v1h1v-1zM765 539v1h1v-1zM766 540v1h1v-1zM767 540v1h1v-1zM768 540v1h1v-1zM769 540v1h1v-1zM770 540v1h1v-1zM771 541v1h1v-1zM772 541v1h1v-1zM773 540v1h1v-1zM774 540v1h1v-1zM775 540v1h1v-1zM776 539v1h1v-1zM777 539v1h1v-1zM778 539v1h1v-1zM779 539v1h1v-1zM780 539v1h1v-1zM781 538v1h1v-1zM782 538v1h1v-1zM783 538v1h1v-1zM784 537v1h1v-1zM785 538v1h1v-1zM786 538v1h1v-1zM787 538v1h1v-1zM788 539v1h1v-1zM789 539v1h1v-1zM790 539v1h1v-1zM791 539v1h1v-1zM792 539v1h1v-1zM793 537v2h1v-2zM794 535v2h1v-2zM795 533v2h1v-2zM796 532v1h1v-1zM797 532v1h1v-1zM798 531v1h1v-1zM799 530v1h1v-1zM800 530v1h1v-1zM801 530v1h1v-1zM802 531v1h1v-1zM803 532v1h1v-1zM804 532v1h1v-1zM805 532v1h1v-1zM806 531v1h1v-1zM807 530v1h1v-1zM808 530v1h1v-1zM809 529v1h1v-1zM810 528v1h1v-1zM811 527v1h1v-1zM812 526v1h1v-1zM813 526v1h1v-1zM814 526v1h1v-1zM815 526v1h1v-1zM816 526v1h1v-1zM817 527v2h1v-2zM818 529v1h1v-1zM819 530v2h1v-2zM820 532v1h1v-1zM821 532v1h1v-1zM822 531v1h1v-1zM823 530v1h1v-1zM824 530v1h1v-1zM825 530v1h1v-1zM826 530v1h1v-1zM827 529v1h1v-1zM828 529v1h1v-1zM829 529v1h1v-1zM830 529v1h1v-1zM831 529v1h1v-1zM832 529v1h1v-1zM833 529v1h1v-1zM834 530v1h1v-1zM835 530v1h1v-1zM836 530v1h1v-1zM837 530v1h1v-1zM838 530v1h1v-1zM839 529v1h1v-1zM840 529v2h1v-2zM841 531v2h1v-2zM842 533v3h1v-3zM843 536v2h1v-2zM844 538v2h1v-2zM845 537v1h1v-1zM846 534v3h1v-3zM847 533v1h1v-1zM848 531v2h1v-2zM849 529v2h1v-2zM850 527v2h1v-2zM851 525v2h1v-2zM852 524v1h1v-1zM853 524v1h1v-1zM854 524v1h1v-1zM855 523v1h1v-1zM856 523v1h1v-1zM857 523v1h1v-1zM858 523v1h1v-1zM859 522v1h1v-1zM860 522v1h1v-1zM861 521v1h1v-1zM862 521v1h1v-1zM863 520v1h1v-1zM864 520v1h1v-1zM865 519v1h1v-1zM866 518v1h1v-1zM867 518v1h1v-1zM868 518v1h1v-1zM869 518v1h1v-1zM870 518v1h1v-1zM871 519v1h1v-1zM872 520v1h1v-1zM873 520v1h1v-1zM874 519v1h1v-1zM875 518v1h1v-1zM876 518v1h1v-1zM877 518v1h1v-1zM878 518v1h1v-1zM879 518v1h1v-1zM880 518v1h1v-1zM881 517v1h1v-1zM882 517v1h1v-1zM883 516v1h1v-1zM884 516v1h1v-1zM885 517v1h1v-1zM886 518v1h1v-1zM887 519v1h1v-1zM888 520v2h1v-2zM889 522v2h1v-2zM890 524v2h1v-2zM891 526v2h1v-2zM892 528v2h1v-2zM893 527v2h1v-2zM894 525v2h1v-2zM895 524v1h1v-1zM896 523v1h1v-1zM897 523v1h1v-1zM898 522v1h1v-1zM899 522v1h1v-1zM900 521v1h1v-1zM901 520v1h1v-1zM902 520v1h1v-1zM903 520v1h1v-1zM904 519v1h1v-1zM905 519v1h1v-1zM906 518v1h1v-1zM907 518v1h1v-1zM908 517v1h1v-1zM909 516v1h1v-1zM910 516v1h1v-1zM911 515v1h1v-1zM912 515v1h1v-1zM913 515v1h1v-1zM914 516v1h1v-1zM915 516v1h1v-1zM916 517v1h1v-1zM917 518v1h1v-1zM918 518v1h1v-1zM919 517v1h1v-1zM920 517v1h1v-1zM921 517v1h1v-1zM922 517v1h1v-1zM923 517v1h1v-1zM924 517v1h1v-1z" fill="#1e90ff"/>
<rect x="4" y="64" width="1162" height="2" fill="#ff0000"/>
<rect x="4" y="129" width="1162" height="2" fill="#00ff00"/>
<rect x="4" y="193" width="1162" height="2" fill="#0000ff"/>
<rect x="4" y="249" width="1162" height="2" fill="#0000ff"/>
<rect x="4" y="318" width="1162" height="2" fill="#0000ff"/>
<rect x="4" y="391" width="1162" height="2" fill="#0000ff"/>
<rect x="3" y="26" width="1164" height="1" fill="#000"/>
<rect x="3" y="417" width="1164" height="1" fill="#000"/>
<rect x="3" y="26" width="1" height="392" fill="#000"/>
<rect x="1166" y="26" width="1" height="392" fill="#000"/>
<rect x="3" y="419" width="1164" height="1" fill="#000"/>
<rect x="3" y="491" width="1164" height="1" fill="#000"/>
<rect x="3" y="419" width="1" height="73" fill="#000"/>
<rect x="1166" y="419" width="1" height="73" fill="#000"/>
<rect x="3" y="493" width="1164" height="1" fill="#000"/>
<rect x="3" y="567" width="1164" height="1" fill="#000"/>
<rect x="3" y="493" width="1" height="75" fill="#000"/>
<rect x="1166" y="493" width="1" height="75" fill="#000"/>
<rect x="3" y="127" width="6" height="6" fill="#00ff00"/>
<rect x="5" y="129" width="2" height="2" fill="#ffffff"/>
<rect x="3" y="191" width="6" height="6" fill="#0000ff"/>
<rect x="5" y="193" width="2" height="2" fill="#ffffff"/>
<rect x="1160" y="127" width="6" height="6" fill="#00ff00"/>
<rect x="1162" y="129" width="2" height="2" fill="#ffffff"/>
<rect x="1160" y="191" width="6" height="6" fill="#0000ff"/>
<rect x="1162" y="193" width="2" height="2" fill="#ffffff"/>
<path d="M4 286v2h1v-2zM5 283v3h1v-3zM6 280v3h1v-3zM7 277v3h1v-3zM8 274v3h1v-3zM9 271v3h1v-3zM10 268v3h1v-3zM11 266v2h1v-2zM12 264v2h1v-2zM13 262v2h1v-2zM14 260v2h1v-2zM15 258v2h1v-2zM16 256v2h1v-2zM17 255v1h1v-1zM18 254v1h1v-1zM19 254v1h1v-1zM20 253v1h1v-1zM21 253v1h1v-1zM22 252v1h1v-1zM23 252v1h1v-1zM24 252v1h1v-1zM25 251v1h1v-1zM26 251v1h1v-1zM27 250v1h1v-1zM28 250v1h1v-1zM29 249v1h1v-1zM30 249v1h1v-1zM31 248v1h1v-1zM32 248v1h1v-1zM33 247v1h1v-1zM34 246v1h1v-1zM35 246v1h1v-1zM36 245v1h1v-1zM37 243v2h1v-2zM38 241v2h1v-2zM39 239v2h1v-2zM40 238v1h1v-1zM41 237v1h1v-1zM42 236v1h1v-1zM43 236v1h1v-1zM44 235v1h1v-1zM45 234v1h1v-1zM46 233v1h1v-1zM47 233v1h1v-1zM48 232v1h1v-1zM49 232v1h1v-1zM50 232v1h1v-1zM51 231v1h1v-1zM52 231v1h1v-1zM53 232v1h1v-1zM54 232v1h1v-1zM55 232v1h1v-1zM56 233v1h1v-1zM57 234v1h1v-1zM58 235v2h1v-2zM59 237v1h1v-1zM60 238v2h1v-2zM61 240v2h1v-2zM62 242v3h1v-3zM63 245v2h1v-2zM64 247v3h1v-3zM65 250v2h1v-2zM66 252v3h1v-3zM67 255v2h1v-2zM68 257v2h1v-2zM69 259v2h1v-2zM70 261v2h1v-2zM71 263v2h1v-2zM72 265v1h1v-1zM73 265v1h1v-1zM74 264v1h1v-1zM75 264v1h1v-1zM76 264v1h1v-1zM77 263v1h1v-1zM78 263v1h1v-1zM79 262v1h1v-1zM80 262v1h1v-1zM81 262v1h1v-1zM82 261v1h1v-1zM83 261v1h1v-1zM84 260v1h1v-1zM85 260v1h1v-1zM86 260v1h1v-1zM87 259v1h1v-1zM88 259v1h1v-1zM89 259v1h1v-1zM90 258v1h1v-1zM91 258v1h1v-1zM92 258v1h1v-1zM93 257v1h1v-1zM94 257v1h1v-1zM95 256v1h1v-1zM96 256v1h1v-1zM97 256v1h1v-1zM98 256v1h1v-1zM99 256v1h1v-1zM100 256v1h1v-1zM101 257v1h1v-1zM102 257v1h1v-1zM103 257v1h1v-1zM104 257v1h1v-1zM105 255v2h1v-2zM106 253v2h1v-2zM107 251v2h1v-2zM108 249v2h1v-2zM109 247v2h1v-2zM110 245v2h1v-2zM111 243v2h1v-2zM112 240v3h1v-3zM113 238v2h1v-2zM114 236v2h1v-2zM115 234v2h1v-2zM116 231v3h1v-3zM117 229v2h1v-2zM118 227v2h1v-2zM119 225v2h1v-2zM120 223v2h1v-2zM121 221v2h1v-2zM122 219v2h1v-2zM123 217v2h1v-2zM124 216v1h1v-1zM125 216v1h1v-1zM126 215v1h1v-1zM127 214v1h1v-1zM128 214v1h1v-1zM129 214v1h1v-1zM130 214v1h1v-1zM131 215v1h1v-1zM132 215v1h1v-1zM133 215v1h1v-1zM134 216v1h1v-1zM135 216v1h1v-1zM136 216v1h1v-1zM137 216v1h1v-1zM138 216v1h1v-1zM139 216v1h1v-1zM140 216v1h1v-1zM141 217v1h1v-1zM142 217v1h1v-1zM143 217v1h1v-1zM144 217v1h1v-1zM145 216v1h1v-1zM146 216v1h1v-1zM147 216v1h1v-1zM148 215v1h1v-1zM149 215v1h1v-1zM150 214v1h1v-1zM151 214v1h1v-1zM152 213v1h1v-1zM153 213v1h1v-1zM154 213v1h1v-1zM155 214v1h1v-1zM156 214v1h1v-1zM157 214v1h1v-1zM158 215v1h1v-1zM159 216v1h1v-1zM160 216v1h1v-1zM161 217v1h1v-1zM162 218v2h1v-2zM163 220v1h1v-1zM164 221v2h1v-2zM165 223v1h1v-1zM166 224v2h1v-2zM167 226v1h1v-1zM168 227v3h1v-3zM169 230v1h1v-1zM170 231v3h1v-3zM171 234v1h1v-1zM172 235v3h1v-3zM173 238v2h1v-2zM174 240v2h1v-2zM175 242v2h1v-2zM176 244v3h1v-3zM177 247v2h1v-2zM178 249v2h1v-2zM179 251v2h1v-2zM180 253v2h1v-2zM181 255v1h1v-1zM182 256v2h1v-2zM183 258v1h1v-1zM184 259v2h1v-2zM185 261v1h1v-1zM186 262v2h1v-2zM187 264v1h1v-1zM188 265v1h1v-1zM189 266v2h1v-2zM190 268v1h1v-1zM191 269v1h1v-1zM192 270v1h1v-1zM193 271v2h1v-2zM194 273v1h1v-1zM195 274v1h1v-1zM196 275v3h1v-3zM197 278v1h1v-1zM198 279v3h1v-3zM199 282v2h1v-2zM200 284v3h1v-3zM201 287v3h1v-3zM202 290v3h1v-3zM203 293v3h1v-3zM204 296v3h1v-3zM205 299v2h1v-2zM206 301v3h1v-3zM207 304v3h1v-3zM208 307v2h1v-2zM209 309v3h1v-3zM210 312v2h1v-2zM211 314v3h1v-3zM212 317v2h1v-2zM213 319v2h1v-2zM214 321v3h1v-3zM215 324v1h1v-1zM216 325v3h1v-3zM217 328v1h1v-1zM218 329v3h1v-3zM219 332v1h1v-1zM220 333v3h1v-3zM221 336v1h1v-1zM222 337v3h1v-3zM223 340v1h1v-1zM224 341v3h1v-3zM225 344v1h1v-1zM226 345v2h1v-2zM227 347v2h1v-2zM228 349v1h1v-1zM229 350v2h1v-2zM230 352v1h1v-1zM231 353v2h1v-2zM232 355v1h1v-1zM233 355v1h1v-1zM234 356v1h1v-1zM235 356v1h1v-1zM236 357v1h1v-1zM237 357v1h1v-1zM238 358v1h1v-1zM239 359v1h1v-1zM240 359v1h1v-1zM241 360v1h1v-1zM242 361v1h1v-1zM243 362v1h1v-1zM244 363v1h1v-1zM245 364v1h1v-1zM246 365v1h1v-1zM247 366v1h1v-1zM248 367v1h1v-1zM249 368v1h1v-1zM250 369v1h1v-1zM251 369v1h1v-1zM252 370v1h1v-1zM253 370v1h1v-1zM254 370v1h1v-1zM255 370v1h1v-1zM256 370v1h1v-1zM257 370v1h1v-1zM258 370v1h1v-1zM259 370v1h1v-1zM260 370v1h1v-1zM261 370v1h1v-1zM262 370v1h1v-1zM263 370v1h1v-1zM264 370v1h1v-1zM265 370v1h1v-1zM266 370v1h1v-1zM267 370v1h1v-1zM268 370v1h1v-1zM269 370v1h1v-1zM270 369v1h1v-1zM271 368v1h1v-1zM272 367v1h1v-1zM273 366v1h1v-1zM274 365v1h1v-1zM275 364v1h1v-1zM276 364v1h1v-1zM277 363v1h1v-1zM278 362v1h1v-1zM279 362v1h1v-1zM280 361v1h1v-1zM281 361v1h1v-1zM282 360v1h1v-1zM283 359v1h1v-1zM284 359v1h1v-1zM285 358v1h1v-1zM286 357v1h1v-1zM287 357v1h1v-1zM288 356v1h1v-1zM289 355v1h1v-1zM290 354v1h1v-1zM291 353v1h1v-1zM292 352v1h1v-1zM293 350v2h1v-2zM294 349v1h1v-1zM295 347v2h1v-2zM296 346v1h1v-1zM297 344v2h1v-2zM298 343v1h1v-1zM299 341v2h1v-2zM300 340v1h1v-1zM301 338v2h1v-2zM302 337v1h1v-1zM303 335v2h1v-2zM304 334v1h1v-1zM305 332v2h1v-2zM306 330v2h1v-2zM307 328v2h1v-2zM308 327v1h1v-1zM309 325v2h1v-2zM310 324v1h1v-1zM311 322v2h1v-2zM312 321v1h1v-1zM313 319v2h1v-2zM314 317v2h1v-2zM315 315v2h1v-2zM316 313v2h1v-2zM317 312v1h1v-1zM318 309v3h1v-3zM319 308v1h1v-1zM320 305v3h1v-3zM321 304v1h1v-1zM322 302v2h1v-2zM323 300v2h1v-2zM324 298v2h1v-2zM325 297v1h1v-1zM326 295v2h1v-2zM327 293v2h1v-2zM328 291v2h1v-2zM329 289v2h1v-2zM330 287v2h1v-2zM331 286v1h1v-1zM332 283v3h1v-3zM333 282v1h1v-1zM334 279v3h1v-3zM335 278v1h1v-1zM336 275v3h1v-3zM337 274v1h1v-1zM338 271v3h1v-3zM339 270v1h1v-1zM340 267v3h1v-3zM341 266v1h1v-1zM342 263v3h1v-3zM343 262v1h1v-1zM344 259v3h1v-3zM345 258v1h1v-1zM346 256v2h1v-2zM347 254v2h1v-2zM348 253v1h1v-1zM349 251v2h1v-2zM350 250v1h1v-1zM351 248v2h1v-2zM352 247v1h1v-1zM353 245v2h1v-2zM354 243v2h1v-2zM355 242v1h1v-1zM356 239v3h1v-3zM357 238v1h1v-1zM358 235v3h1v-3zM359 234v1h1v-1zM360 231v3h1v-3zM361 229v2h1v-2zM362 227v2h1v-2zM363 225v2h1v-2zM364 222v3h1v-3zM365 220v2h1v-2zM366 218v2h1v-2zM367 216v2h1v-2zM368 214v2h1v-2zM369 212v2h1v-2zM370 210v2h1v-2zM371 209v1h1v-1zM372 207v2h1v-2zM373 206v1h1v-1zM374 204v2h1v-2zM375 202v2h1v-2zM376 201v1h1v-1zM377 200v1h1v-1zM378 200v1h1v-1zM379 199v1h1v-1zM380 198v1h1v-1zM381 198v1h1v-1zM382 198v1h1v-1zM383 198v1h1v-1zM384 198v1h1v-1zM385 198v1h1v-1zM386 199v1h1v-1zM387 199v1h1v-1zM388 200v1h1v-1zM389 200v1h1v-1zM390 200v1h1v-1zM391 199v1h1v-1zM392 199v1h1v-1zM393 199v1h1v-1zM394 199v1h1v-1zM395 198v1h1v-1zM396 198v1h1v-1zM397 197v1h1v-1zM398 197v1h1v-1zM399 196v1h1v-1zM400 195v1h1v-1zM401 195v1h1v-1zM402 194v1h1v-1zM403 194v1h1v-1zM404 193v1h1v-1zM405 192v1h1v-1zM406 192v1h1v-1zM407 191v1h1v-1zM408 190v1h1v-1zM409 189v1h1v-1zM410 188v1h1v-1zM411 188v1h1v-1zM412 187v1h1v-1zM413 187v1h1v-1zM414 187v1h1v-1zM415 186v1h1v-1zM416 186v1h1v-1zM417 186v1h1v-1zM418 185v1h1v-1zM419 184v1h1v-1zM420 184v1h1v-1zM421 184v1h1v-1zM422 183v1h1v-1zM423 182v1h1v-1zM424 182v1h1v-1zM425 181v1h1v-1zM426 180v1h1v-1zM427 180v1h1v-1zM428 179v1h1v-1zM429 178v1h1v-1zM430 177v1h1v-1zM431 176v1h1v-1zM432 175v1h1v-1zM433 174v1h1v-1zM434 173v1h1v-1zM435 172v1h1v-1zM436 171v1h1v-1zM437 170v1h1v-1zM438 169v1h1v-1zM439 168v1h1v-1zM440 167v1h1v-1zM441 165v2h1v-2zM442 163v2h1v-2zM443 161v2h1v-2zM444 159v2h1v-2zM445 158v1h1v-1zM446 157v1h1v-1zM447 157v1h1v-1zM448 156v1h1v-1zM449 155v1h1v-1zM450 155v1h1v-1zM451 154v1h1v-1zM452 154v1h1v-1zM453 153v1h1v-1zM454 152v1h1v-1zM455 152v1h1v-1zM456 152v1h1v-1zM457 151v1h1v-1zM458 152v1h1v-1zM459 152v1h1v-1zM460 152v1h1v-1zM461 153v1h1v-1zM462 154v2h1v-2zM463 156v1h1v-1zM464 157v1h1v-1zM465 158v1h1v-1zM466 159v2h1v-2zM467 161v1h1v-1zM468 162v2h1v-2zM469 164v1h1v-1zM470 165v1h1v-1zM471 166v1h1v-1zM472 167v2h1v-2zM473 169v1h1v-1zM474 170v2h1v-2zM475 172v1h1v-1zM476 173v1h1v-1zM477 174v1h1v-1zM478 175v2h1v-2zM479 177v1h1v-1zM480 178v1h1v-1zM481 179v2h1v-2zM482 181v1h1v-1zM483 182v1h1v-1zM484 183v2h1v-2zM485 185v1h1v-1zM486 186v1h1v-1zM487 187v2h1v-2zM488 189v2h1v-2zM489 191v2h1v-2zM490 193v2h1v-2zM491 195v2h1v-2zM492 197v1h1v-1zM493 198v1h1v-1zM494 199v1h1v-1zM495 200v1h1v-1zM496 201v2h1v-2zM497 203v1h1v-1zM498 204v1h1v-1zM499 205v1h1v-1zM500 206v2h1v-2zM501 208v1h1v-1zM502 209v3h1v-3zM503 212v1h1v-1zM504 213v3h1v-3zM505 216v1h1v-1zM506 217v3h1v-3zM507 220v2h1v-2zM508 222v3h1v-3zM509 225v3h1v-3zM510 228v3h1v-3zM511 231v2h1v-2zM512 233v2h1v-2zM513 235v2h1v-2zM514 237v2h1v-2zM515 239v1h1v-1zM516 240v2h1v-2zM517 242v2h1v-2zM518 244v1h1v-1zM519 245v1h1v-1zM520 246v2h1v-2zM521 248v1h1v-1zM522 249v2h1v-2zM523 251v1h1v-1zM524 252v1h1v-1zM525 253v2h1v-2zM526 255v2h1v-2zM527 257v1h1v-1zM528 258v2h1v-2zM529 260v2h1v-2zM530 262v1h1v-1zM531 263v2h1v-2zM532 265v2h1v-2zM533 267v1h1v-1zM534 268v2h1v-2zM535 270v2h1v-2zM536 272v1h1v-1zM537 273v1h1v-1zM538 274v1h1v-1zM539 275v1h1v-1zM540 276v1h1v-1zM541 277v1h1v-1zM542 278v1h1v-1zM543 279v2h1v-2zM544 281v1h1v-1zM545 282v2h1v-2zM546 284v1h1v-1zM547 284v1h1v-1zM548 285v1h1v-1zM549 285v1h1v-1zM550 285v1h1v-1zM551 285v1h1v-1zM552 285v1h1v-1zM553 286v1h1v-1zM554 286v1h1v-1zM555 286v1h1v-1zM556 286v1h1v-1zM557 285v1h1v-1zM558 284v1h1v-1zM559 283v1h1v-1zM560 281v2h1v-2zM561 280v1h1v-1zM562 277v3h1v-3zM563 276v1h1v-1zM564 273v3h1v-3zM565 272v1h1v-1zM566 269v3h1v-3zM567 268v1h1v-1zM568 265v3h1v-3zM569 264v1h1v-1zM570 261v3h1v-3zM571 260v1h1v-1zM572 258v2h1v-2zM573 257v1h1v-1zM574 256v1h1v-1zM575 254v2h1v-2zM576 253v1h1v-1zM577 252v1h1v-1zM578 251v1h1v-1zM579 249v2h1v-2zM580 248v1h1v-1zM581 246v2h1v-2zM582 245v1h1v-1zM583 243v2h1v-2zM584 242v1h1v-1zM585 240v2h1v-2zM586 238v2h1v-2zM587 237v1h1v-1zM588 235v2h1v-2zM589 234v1h1v-1zM590 232v2h1v-2zM591 230v2h1v-2zM592 228v2h1v-2zM593 226v2h1v-2zM594 225v1h1v-1zM595 224v1h1v-1zM596 223v1h1v-1zM597 221v2h1v-2zM598 220v1h1v-1zM599 219v1h1v-1zM600 218v1h1v-1zM601 217v1h1v-1zM602 217v1h1v-1zM603 216v1h1v-1zM604 215v1h1v-1zM605 215v1h1v-1zM606 214v1h1v-1zM607 213v1h1v-1zM608 212v1h1v-1zM609 211v1h1v-1zM610 210v1h1v-1zM611 210v1h1v-1zM612 210v1h1v-1zM613 210v1h1v-1zM614 210v1h1v-1zM615 210v1h1v-1zM616 210v1h1v-1zM617 210v1h1v-1zM618 211v1h1v-1zM619 211v1h1v-1zM620 211v1h1v-1zM621 212v1h1v-1zM622 212v1h1v-1zM623 212v1h1v-1zM624 213v1h1v-1zM625 213v1h1v-1zM626 213v1h1v-1zM627 214v1h1v-1zM628 214v1h1v-1zM629 214v1h1v-1zM630 213v1h1v-1zM631 213v1h1v-1zM632 213v1h1v-1zM633 212v1h1v-1zM634 212v1h1v-1zM635 211v1h1v-1zM636 211v1h1v-1zM637 210v1h1v-1zM638 209v1h1v-1zM639 209v1h1v-1zM640 208v1h1v-1zM641 208v1h1v-1zM642 208v1h1v-1zM643 208v1h1v-1zM644 208v1h1v-1zM645 208v1h1v-1zM646 208v1h1v-1zM647 208v1h1v-1zM648 208v1h1v-1zM649 207v1h1v-1zM650 206v1h1v-1zM651 206v1h1v-1zM652 206v1h1v-1zM653 205v1h1v-1zM654 204v1h1v-1zM655 204v1h1v-1zM656 204v1h1v-1zM657 203v1h1v-1zM658 202v1h1v-1zM659 202v1h1v-1zM660 202v1h1v-1zM661 202v1h1v-1zM662 202v1h1v-1zM663 201v1h1v-1zM664 201v1h1v-1zM665 201v1h1v-1zM666 201v1h1v-1zM667 202v1h1v-1zM668 202v1h1v-1zM669 202v1h1v-1zM670 203v1h1v-1zM671 203v1h1v-1zM672 204v1h1v-1zM673 204v1h1v-1zM674 204v1h1v-1zM675 205v1h1v-1zM676 206v1h1v-1zM677 206v1h1v-1zM678 206v1h1v-1zM679 207v1h1v-1zM680 208v1h1v-1zM681 208v1h1v-1zM682 208v1h1v-1zM683 207v1h1v-1zM684 206v1h1v-1zM685 206v1h1v-1zM686 206v1h1v-1zM687 205v1h1v-1zM688 204v1h1v-1zM689 204v1h1v-1zM690 203v1h1v-1zM691 202v1h1v-1zM692 202v1h1v-1zM693 201v1h1v-1zM694 200v1h1v-1zM695 200v1h1v-1zM696 200v1h1v-1zM697 199v1h1v-1zM698 198v1h1v-1zM699 198v1h1v-1zM700 198v1h1v-1zM701 198v1h1v-1zM702 198v1h1v-1zM703 198v1h1v-1zM704 198v1h1v-1zM705 198v1h1v-1zM706 198v1h1v-1zM707 198v1h1v-1zM708 198v1h1v-1zM709 198v1h1v-1zM710 198v1h1v-1zM711 198v1h1v-1zM712 197v1h1v-1zM713 197v1h1v-1zM714 197v1h1v-1zM715 197v1h1v-1zM716 197v1h1v-1zM717 197v1h1v-1zM718 197v1h1v-1zM719 197v1h1v-1zM720 197v1h1v-1zM721 197v1h1v-1zM722 197v1h1v-1zM723 198v1h1v-1zM724 198v1h1v-1zM725 198v1h1v-1zM726 198v1h1v-1zM727 198v1h1v-1zM728 199v1h1v-1zM729 200v1h1v-1zM730 200v1h1v-1zM731 200v1h1v-1zM732 201v1h1v-1zM733 202v1h1v-1zM734 202v1h1v-1zM735 203v1h1v-1zM736 204v1h1v-1zM737 205v1h1v-1zM738 206v1h1v-1zM739 207v1h1v-1zM740 208v1h1v-1zM741 209v1h1v-1zM742 210v2h1v-2zM743 212v1h1v-1zM744 213v2h1v-2zM745 215v1h1v-1zM746 216v2h1v-2zM747 218v2h1v-2zM748 220v3h1v-3zM749 223v2h1v-2zM750 225v3h1v-3zM751 228v2h1v-2zM752 230v3h1v-3zM753 233v2h1v-2zM754 235v3h1v-3zM755 238v3h1v-3zM756 241v3h1v-3zM757 244v2h1v-2zM758 246v2h1v-2zM759 248v2h1v-2zM760 250v2h1v-2zM761 252v2h1v-2zM762 254v2h1v-2zM763 256v2h1v-2zM764 258v2h1v-2zM765 260v2h1v-2zM766 262v2h1v-2zM767 264v2h1v-2zM768 266v2h1v-2zM769 268v2h1v-2zM770 270v3h1v-3zM771 273v2h1v-2zM772 275v2h1v-2zM773 277v2h1v-2zM774 279v2h1v-2zM775 281v2h1v-2zM776 283v2h1v-2zM777 285v2h1v-2zM778 287v2h1v-2zM779 289v2h1v-2zM780 291v2h1v-2zM781 293v1h1v-1zM782 294v1h1v-1zM783 294v1h1v-1zM784 295v1h1v-1zM785 295v1h1v-1zM786 296v1h1v-1zM787 297v1h1v-1zM788 298v1h1v-1zM789 299v2h1v-2zM790 301v1h1v-1zM791 302v1h1v-1zM792 303v1h1v-1zM793 303v1h1v-1zM794 303v1h1v-1zM795 304v1h1v-1zM796 304v1h1v-1zM797 304v1h1v-1zM798 304v1h1v-1zM799 304v1h1v-1zM800 304v1h1v-1zM801 304v1h1v-1zM802 304v1h1v-1zM803 304v1h1v-1zM804 304v1h1v-1zM805 303v1h1v-1zM806 303v1h1v-1zM807 302v1h1v-1zM808 302v1h1v-1zM809 301v1h1v-1zM810 300v1h1v-1zM811 299v1h1v-1zM812 297v2h1v-2zM813 296v1h1v-1zM814 295v1h1v-1zM815 294v1h1v-1zM816 293v1h1v-1zM817 292v1h1v-1zM818 292v1h1v-1zM819 291v1h1v-1zM820 290v1h1v-1zM821 289v1h1v-1zM822 288v1h1v-1zM823 288v1h1v-1zM824 287v1h1v-1zM825 286v1h1v-1zM826 285v1h1v-1zM827 284v1h1v-1zM828 283v1h1v-1zM829 282v1h1v-1zM830 281v1h1v-1zM831 280v1h1v-1zM832 279v1h1v-1zM833 278v1h1v-1zM834 277v1h1v-1zM835 276v1h1v-1zM836 276v1h1v-1zM837 275v1h1v-1zM838 274v1h1v-1zM839 274v1h1v-1zM840 273v1h1v-1zM841 273v1h1v-1zM842 273v1h1v-1zM843 272v1h1v-1zM844 272v1h1v-1zM845 271v1h1v-1zM846 270v1h1v-1zM847 270v1h1v-1zM848 269v1h1v-1zM849 268v1h1v-1zM850 268v1h1v-1zM851 267v1h1v-1zM852 266v1h1v-1zM853 266v1h1v-1zM854 265v1h1v-1zM855 263v2h1v-2zM856 262v1h1v-1zM857 260v2h1v-2zM858 259v1h1v-1zM859 257v2h1v-2zM860 255v2h1v-2zM861 253v2h1v-2zM862 251v2h1v-2zM863 249v2h1v-2zM864 247v2h1v-2zM865 245v2h1v-2zM866 243v2h1v-2zM867 242v1h1v-1zM868 240v2h1v-2zM869 239v1h1v-1zM870 237v2h1v-2zM871 236v1h1v-1zM872 234v2h1v-2zM873 232v2h1v-2zM874 230v2h1v-2zM875 228v2h1v-2zM876 226v2h1v-2zM877 225v1h1v-1zM878 222v3h1v-3zM879 221v1h1v-1zM880 218v3h1v-3zM881 217v1h1v-1zM882 214v3h1v-3zM883 212v2h1v-2zM884 210v2h1v-2zM885 208v2h1v-2zM886 206v2h1v-2zM887 204v2h1v-2zM888 202v2h1v-2zM889 201v1h1v-1zM890 200v1h1v-1zM891 200v1h1v-1zM892 200v1h1v-1zM893 198v2h1v-2zM894 195v3h1v-3zM895 191v4h1v-4zM896 188v3h1v-3zM897 185v3h1v-3zM898 182v3h1v-3zM899 179v3h1v-3zM900 176v3h1v-3zM901 173v3h1v-3zM902 171v2h1v-2zM903 169v2h1v-2zM904 166v3h1v-3zM905 164v2h1v-2zM906 162v2h1v-2zM907 159v3h1v-3zM908 157v2h1v-2zM909 155v2h1v-2zM910 152v3h1v-3zM911 150v2h1v-2zM912 148v2h1v-2zM913 145v3h1v-3zM914 143v2h1v-2zM915 141v2h1v-2zM916 139v2h1v-2zM917 137v2h1v-2zM918 135v2h1v-2zM919 133v2h1v-2zM920 131v2h1v-2zM921 129v2h1v-2zM922 127v2h1v-2zM923 126v1h1v-1z" fill="#ff0000"/>
<path d="M4 293v2h1v-2zM5 292v1h1v-1zM6 289v3h1v-3zM7 288v1h1v-1zM8 285v3h1v-3zM9 284v1h1v-1zM10 281v3h1v-3zM11 280v1h1v-1zM12 278v2h1v-2zM13 277v1h1v-1zM14 276v1h1v-1zM15 275v1h1v-1zM16 273v2h1v-2zM17 272v1h1v-1zM18 271v1h1v-1zM19 270v1h1v-1zM20 269v1h1v-1zM21 268v1h1v-1zM22 268v1h1v-1zM23 267v1h1v-1zM24 266v1h1v-1zM25 266v1h1v-1zM26 265v1h1v-1zM27 265v1h1v-1zM28 264v1h1v-1zM29 263v1h1v-1zM30 263v1h1v-1zM31 262v1h1v-1zM32 262v1h1v-1zM33 261v1h1v-1zM34 260v1h1v-1zM35 260v1h1v-1zM36 259v1h1v-1zM37 258v1h1v-1zM38 258v1h1v-1zM39 258v1h1v-1zM40 257v1h1v-1zM41 256v1h1v-1zM42 256v1h1v-1zM43 256v1h1v-1zM44 255v1h1v-1zM45 255v1h1v-1zM46 255v1h1v-1zM47 255v1h1v-1zM48 254v1h1v-1zM49 254v1h1v-1zM50 254v1h1v-1zM51 254v1h1v-1zM52 254v1h1v-1zM53 254v1h1v-1zM54 254v1h1v-1zM55 254v1h1v-1zM56 254v1h1v-1zM57 254v1h1v-1zM58 254v1h1v-1zM59 253v1h1v-1zM60 253v1h1v-1zM61 253v1h1v-1zM62 253v1h1v-1zM63 253v1h1v-1zM64 253v1h1v-1zM65 253v1h1v-1zM66 252v1h1v-1zM67 252v1h1v-1zM68 252v1h1v-1zM69 251v1h1v-1zM70 251v1h1v-1zM71 250v1h1v-1zM72 250v1h1v-1zM73 249v1h1v-1zM74 248v1h1v-1zM75 248v1h1v-1zM76 247v1h1v-1zM77 246v1h1v-1zM78 246v1h1v-1zM79 245v1h1v-1zM80 244v1h1v-1zM81 244v1h1v-1zM82 244v1h1v-1zM83 244v1h1v-1zM84 244v1h1v-1zM85 243v1h1v-1zM86 243v1h1v-1zM87 243v1h1v-1zM88 243v1h1v-1zM89 244v1h1v-1zM90 244v1h1v-1zM91 245v1h1v-1zM92 246v1h1v-1zM93 247v1h1v-1zM94 248v2h1v-2zM95 250v1h1v-1zM96 251v1h1v-1zM97 252v1h1v-1zM98 253v1h1v-1zM99 254v1h1v-1zM100 255v1h1v-1zM101 255v1h1v-1zM102 255v1h1v-1zM103 254v1h1v-1zM104 254v1h1v-1zM105 254v1h1v-1zM106 254v1h1v-1zM107 253v1h1v-1zM108 252v1h1v-1zM109 251v1h1v-1zM110 250v1h1v-1zM111 249v1h1v-1zM112 248v1h1v-1zM113 247v1h1v-1zM114 246v1h1v-1zM115 245v1h1v-1zM116 244v1h1v-1zM117 243v1h1v-1zM118 242v1h1v-1zM119 241v1h1v-1zM120 240v1h1v-1zM121 239v1h1v-1zM122 239v1h1v-1zM123 238v1h1v-1zM124 238v1h1v-1zM125 237v1h1v-1zM126 236v1h1v-1zM127 236v1h1v-1zM128 235v1h1v-1zM129 235v1h1v-1zM130 234v1h1v-1zM131 234v1h1v-1zM132 234v1h1v-1zM133 234v1h1v-1zM134 234v1h1v-1zM135 233v1h1v-1zM136 233v1h1v-1zM137 233v1h1v-1zM138 232v1h1v-1zM139 232v1h1v-1zM140 232v1h1v-1zM141 231v1h1v-1zM142 231v1h1v-1zM143 230v1h1v-1zM144 230v1h1v-1zM145 229v1h1v-1zM146 227v2h1v-2zM147 226v1h1v-1zM148 225v1h1v-1zM149 224v1h1v-1zM150 223v1h1v-1zM151 222v1h1v-1zM152 221v1h1v-1zM153 220v1h1v-1zM154 220v1h1v-1zM155 220v1h1v-1zM156 220v1h1v-1zM157 220v1h1v-1zM158 220v1h1v-1zM159 221v1h1v-1zM160 222v1h1v-1zM161 222v1h1v-1zM162 222v1h1v-1zM163 223v1h1v-1zM164 224v1h1v-1zM165 224v1h1v-1zM166 224v1h1v-1zM167 225v1h1v-1zM168 226v1h1v-1zM169 226v1h1v-1zM170 226v1h1v-1zM171 227v1h1v-1zM172 228v1h1v-1zM173 228v1h1v-1zM174 228v1h1v-1zM175 229v1h1v-1zM176 230v1h1v-1zM177 231v1h1v-1zM178 232v1h1v-1zM179 233v1h1v-1zM180 234v1h1v-1zM181 235v1h1v-1zM182 236v1h1v-1zM183 237v1h1v-1zM184 238v1h1v-1zM185 239v1h1v-1zM186 240v1h1v-1zM187 241v2h1v-2zM188 243v1h1v-1zM189 244v1h1v-1zM190 245v1h1v-1zM191 246v1h1v-1zM192 247v2h1v-2zM193 249v2h1v-2zM194 251v2h1v-2zM195 253v1h1v-1zM196 254v2h1v-2zM197 256v2h1v-2zM198 258v2h1v-2zM199 260v2h1v-2zM200 262v2h1v-2zM201 264v2h1v-2zM202 266v2h1v-2zM203 268v3h1v-3zM204 271v2h1v-2zM205 273v2h1v-2zM206 275v2h1v-2zM207 277v2h1v-2zM208 279v3h1v-3zM209 282v1h1v-1zM210 283v3h1v-3zM211 286v1h1v-1zM212 287v3h1v-3zM213 290v1h1v-1zM214 291v2h1v-2zM215 293v1h1v-1zM216 294v2h1v-2zM217 296v2h1v-2zM218 298v1h1v-1zM219 299v2h1v-2zM220 301v1h1v-1zM221 302v1h1v-1zM222 303v2h1v-2zM223 305v1h1v-1zM224 306v2h1v-2zM225 308v1h1v-1zM226 309v2h1v-2zM227 311v2h1v-2zM228 313v2h1v-2zM229 315v2h1v-2zM230 317v2h1v-2zM231 319v2h1v-2zM232 321v2h1v-2zM233 323v2h1v-2zM234 325v2h1v-2zM235 327v2h1v-2zM236 329v1h1v-1zM237 330v2h1v-2zM238 332v1h1v-1zM239 333v2h1v-2zM240 335v1h1v-1zM241 336v2h1v-2zM242 338v1h1v-1zM243 339v2h1v-2zM244 341v1h1v-1zM245 342v1h1v-1zM246 343v1h1v-1zM247 344v1h1v-1zM248 345v2h1v-2zM249 347v1h1v-1zM250 348v1h1v-1zM251 349v1h1v-1zM252 350v1h1v-1zM253 351v1h1v-1zM254 352v1h1v-1zM255 353v1h1v-1zM256 354v2h1v-2zM257 356v1h1v-1zM258 357v1h1v-1zM259 358v1h1v-1zM260 359v1h1v-1zM261 359v1h1v-1zM262 359v1h1v-1zM263 360v1h1v-1zM264 360v1h1v-1zM265 360v1h1v-1zM266 360v1h1v-1zM267 361v1h1v-1zM268 361v1h1v-1zM269 362v1h1v-1zM270 362v1h1v-1zM271 363v1h1v-1zM272 363v1h1v-1zM273 363v1h1v-1zM274 364v1h1v-1zM275 364v1h1v-1zM276 364v1h1v-1zM277 364v1h1v-1zM278 364v1h1v-1zM279 363v1h1v-1zM280 363v1h1v-1zM281 363v1h1v-1zM282 362v1h1v-1zM283 362v1h1v-1zM284 362v1h1v-1zM285 362v1h1v-1zM286 362v1h1v-1zM287 361v1h1v-1zM288 361v1h1v-1zM289 361v1h1v-1zM290 360v1h1v-1zM291 360v1h1v-1zM292 360v1h1v-1zM293 358v2h1v-2zM294 357v1h1v-1zM295 355v2h1v-2zM296 354v1h1v-1zM297 353v1h1v-1zM298 352v1h1v-1zM299 351v1h1v-1zM300 349v2h1v-2zM301 348v1h1v-1zM302 347v1h1v-1zM303 346v1h1v-1zM304 345v1h1v-1zM305 344v1h1v-1zM306 344v1h1v-1zM307 343v1h1v-1zM308 342v1h1v-1zM309 341v1h1v-1zM310 340v1h1v-1zM311 339v1h1v-1zM312 338v1h1v-1zM313 338v1h1v-1zM314 337v1h1v-1zM315 336v1h1v-1zM316 335v1h1v-1zM317 334v1h1v-1zM318 332v2h1v-2zM319 331v1h1v-1zM320 329v2h1v-2zM321 328v1h1v-1zM322 326v2h1v-2zM323 324v2h1v-2zM324 322v2h1v-2zM325 320v2h1v-2zM326 318v2h1v-2zM327 316v2h1v-2zM328 314v2h1v-2zM329 312v2h1v-2zM330 310v2h1v-2zM331 308v2h1v-2zM332 306v2h1v-2zM333 305v1h1v-1zM334 303v2h1v-2zM335 302v1h1v-1zM336 300v2h1v-2zM337 299v1h1v-1zM338 297v2h1v-2zM339 296v1h1v-1zM340 294v2h1v-2zM341 293v1h1v-1zM342 292v1h1v-1zM343 290v2h1v-2zM344 289v1h1v-1zM345 287v2h1v-2zM346 285v2h1v-2zM347 283v2h1v-2zM348 281v2h1v-2zM349 279v2h1v-2zM350 277v2h1v-2zM351 275v2h1v-2zM352 274v1h1v-1zM353 272v2h1v-2zM354 270v2h1v-2zM355 268v2h1v-2zM356 267v1h1v-1zM357 265v2h1v-2zM358 263v2h1v-2zM359 261v2h1v-2zM360 259v2h1v-2zM361 258v1h1v-1zM362 255v3h1v-3zM363 254v1h1v-1zM364 251v3h1v-3zM365 250v1h1v-1zM366 247v3h1v-3zM367 246v1h1v-1zM368 244v2h1v-2zM369 242v2h1v-2zM370 240v2h1v-2zM371 238v2h1v-2zM372 236v2h1v-2zM373 234v2h1v-2zM374 232v2h1v-2zM375 230v2h1v-2zM376 229v1h1v-1zM377 228v1h1v-1zM378 227v1h1v-1zM379 226v1h1v-1zM380 225v1h1v-1zM381 224v1h1v-1zM382 223v1h1v-1zM383 222v1h1v-1zM384 222v1h1v-1zM385 221v1h1v-1zM386 220v1h1v-1zM387 220v1h1v-1zM388 219v1h1v-1zM389 218v1h1v-1zM390 217v1h1v-1zM391 216v1h1v-1zM392 216v1h1v-1zM393 215v1h1v-1zM394 214v1h1v-1zM395 213v1h1v-1zM396 213v1h1v-1zM397 212v1h1v-1zM398 211v1h1v-1zM399 211v1h1v-1zM400 210v1h1v-1zM401 209v1h1v-1zM402 208v1h1v-1zM403 208v1h1v-1zM404 207v1h1v-1zM405 206v1h1v-1zM406 205v1h1v-1zM407 204v1h1v-1zM408 203v1h1v-1zM409 201v2h1v-2zM410 200v1h1v-1zM411 199v1h1v-1zM412 198v1h1v-1zM413 197v1h1v-1zM414 196v1h1v-1zM415 195v1h1v-1zM416 194v1h1v-1zM417 193v1h1v-1zM418 192v1h1v-1zM419 191v1h1v-1zM420 190v1h1v-1zM421 188v2h1v-2zM422 187v1h1v-1zM423 186v1h1v-1zM424 185v1h1v-1zM425 184v1h1v-1zM426 182v2h1v-2zM427 181v1h1v-1zM428 180v1h1v-1zM429 179v1h1v-1zM430 178v1h1v-1zM431 177v1h1v-1zM432 176v1h1v-1zM433 175v1h1v-1zM434 174v1h1v-1zM435 173v1h1v-1zM436 172v1h1v-1zM437 172v1h1v-1zM438 172v1h1v-1zM439 171v1h1v-1zM440 171v1h1v-1zM441 170v1h1v-1zM442 170v1h1v-1zM443 170v1h1v-1zM444 170v1h1v-1zM445 170v1h1v-1zM446 170v1h1v-1zM447 170v1h1v-1zM448 170v1h1v-1zM449 170v1h1v-1zM450 170v1h1v-1zM451 170v1h1v-1zM452 170v1h1v-1zM453 170v1h1v-1zM454 170v1h1v-1zM455 170v1h1v-1zM456 170v1h1v-1zM457 170v1h1v-1zM458 170v1h1v-1zM459 170v1h1v-1zM460 170v1h1v-1zM461 170v1h1v-1zM462 170v1h1v-1zM463 170v1h1v-1zM464 170v1h1v-1zM465 170v1h1v-1zM466 170v1h1v-1zM467 170v1h1v-1zM468 170v1h1v-1zM469 170v1h1v-1zM470 170v1h1v-1zM471 170v1h1v-1zM472 170v1h1v-1zM473 170v1h1v-1zM474 170v1h1v-1zM475 170v1h1v-1zM476 170v1h1v-1zM477 170v1h1v-1zM478 170v1h1v-1zM479 170v1h1v-1zM480 170v1h1v-1zM481 170v1h1v-1zM482 170v1h1v-1zM483 170v1h1v-1zM484 170v1h1v-1zM485 170v1h1v-1zM486 170v1h1v-1zM487 170v1h1v-1zM488 171v2h1v-2zM489 173v2h1v-2zM490 175v2h1v-2zM491 177v1h1v-1zM492 178v1h1v-1zM493 179v2h1v-2zM494 181v1h1v-1zM495 182v1h1v-1zM496 182v1h1v-1zM497 183v1h1v-1zM498 183v1h1v-1zM499 184v1h1v-1zM500 184v1h1v-1zM501 185v2h1v-2zM502 187v2h1v-2zM503 189v2h1v-2zM504 191v2h1v-2zM505 193v3h1v-3zM506 196v2h1v-2zM507 198v3h1v-3zM508 201v3h1v-3zM509 204v2h1v-2zM510 206v2h1v-2zM511 208v2h1v-2zM512 210v2h1v-2zM513 212v2h1v-2zM514 214v1h1v-1zM515 215v1h1v-1zM516 216v2h1v-2zM517 218v1h1v-1zM518 219v1h1v-1zM519 220v2h1v-2zM520 222v1h1v-1zM521 223v2h1v-2zM522 225v2h1v-2zM523 227v1h1v-1zM524 228v2h1v-2zM525 230v2h1v-2zM526 232v2h1v-2zM527 234v1h1v-1zM528 235v3h1v-3zM529 238v1h1v-1zM530 239v3h1v-3zM531 242v1h1v-1zM532 243v2h1v-2zM533 245v2h1v-2zM534 247v1h1v-1zM535 248v2h1v-2zM536 250v1h1v-1zM537 251v2h1v-2zM538 253v1h1v-1zM539 254v1h1v-1zM540 255v1h1v-1zM541 256v2h1v-2zM542 258v1h1v-1zM543 259v1h1v-1zM544 260v1h1v-1zM545 260v1h1v-1zM546 261v1h1v-1zM547 262v1h1v-1zM548 262v1h1v-1zM549 262v1h1v-1zM550 262v1h1v-1zM551 263v1h1v-1zM552 263v1h1v-1zM553 263v1h1v-1zM554 264v1h1v-1zM555 264v1h1v-1zM556 264v1h1v-1zM557 264v1h1v-1zM558 264v1h1v-1zM559 264v1h1v-1zM560 264v1h1v-1zM561 264v1h1v-1zM562 264v1h1v-1zM563 263v1h1v-1zM564 263v1h1v-1zM565 263v1h1v-1zM566 262v1h1v-1zM567 262v1h1v-1zM568 262v1h1v-1zM569 262v1h1v-1zM570 262v1h1v-1zM571 262v1h1v-1zM572 262v1h1v-1zM573 261v1h1v-1zM574 261v1h1v-1zM575 261v1h1v-1zM576 261v1h1v-1zM577 261v1h1v-1zM578 261v1h1v-1zM579 261v1h1v-1zM580 260v1h1v-1zM581 260v1h1v-1zM582 260v1h1v-1zM583 260v1h1v-1zM584 260v1h1v-1zM585 259v1h1v-1zM586 259v1h1v-1zM587 258v1h1v-1zM588 258v1h1v-1zM589 257v1h1v-1zM590 255v2h1v-2zM591 253v2h1v-2zM592 252v1h1v-1zM593 251v1h1v-1zM594 250v1h1v-1zM595 249v1h1v-1zM596 248v1h1v-1zM597 247v1h1v-1zM598 246v1h1v-1zM599 245v1h1v-1zM600 245v1h1v-1zM601 244v1h1v-1zM602 243v1h1v-1zM603 243v1h1v-1zM604 242v1h1v-1zM605 241v1h1v-1zM606 240v1h1v-1zM607 238v2h1v-2zM608 237v1h1v-1zM609 236v1h1v-1zM610 235v1h1v-1zM611 234v1h1v-1zM612 233v1h1v-1zM613 231v2h1v-2zM614 230v1h1v-1zM615 229v1h1v-1zM616 228v1h1v-1zM617 227v1h1v-1zM618 226v1h1v-1zM619 224v2h1v-2zM620 223v1h1v-1zM621 222v1h1v-1zM622 221v1h1v-1zM623 220v1h1v-1zM624 219v1h1v-1zM625 218v1h1v-1zM626 218v1h1v-1zM627 217v1h1v-1zM628 216v1h1v-1zM629 215v1h1v-1zM630 215v1h1v-1zM631 214v1h1v-1zM632 213v1h1v-1zM633 213v1h1v-1zM634 212v1h1v-1zM635 211v1h1v-1zM636 211v1h1v-1zM637 210v1h1v-1zM638 209v1h1v-1zM639 209v1h1v-1zM640 208v1h1v-1zM641 208v1h1v-1zM642 208v1h1v-1zM643 208v1h1v-1zM644 208v1h1v-1zM645 208v1h1v-1zM646 208v1h1v-1zM647 208v1h1v-1zM648 208v1h1v-1zM649 208v1h1v-1zM650 208v1h1v-1zM651 208v1h1v-1zM652 208v1h1v-1zM653 208v1h1v-1zM654 208v1h1v-1zM655 208v1h1v-1zM656 208v1h1v-1zM657 208v1h1v-1zM658 207v1h1v-1zM659 206v1h1v-1zM660 206v1h1v-1zM661 206v1h1v-1zM662 206v1h1v-1zM663 206v1h1v-1zM664 206v1h1v-1zM665 206v1h1v-1zM666 206v1h1v-1zM667 206v1h1v-1zM668 206v1h1v-1zM669 206v1h1v-1zM670 206v1h1v-1zM671 206v1h1v-1zM672 207v1h1v-1zM673 207v1h1v-1zM674 208v1h1v-1zM675 208v1h1v-1zM676 208v1h1v-1zM677 208v1h1v-1zM678 208v1h1v-1zM679 208v1h1v-1zM680 208v1h1v-1zM681 208v1h1v-1zM682 208v1h1v-1zM683 207v1h1v-1zM684 206v1h1v-1zM685 206v1h1v-1zM686 206v1h1v-1zM687 205v1h1v-1zM688 204v1h1v-1zM689 204v1h1v-1zM690 204v1h1v-1zM691 203v1h1v-1zM692 202v1h1v-1zM693 202v1h1v-1zM694 202v1h1v-1zM695 201v1h1v-1zM696 201v1h1v-1zM697 201v1h1v-1zM698 200v1h1v-1zM699 200v1h1v-1zM700 200v1h1v-1zM701 200v1h1v-1zM702 200v1h1v-1zM703 200v1h1v-1zM704 199v1h1v-1zM705 199v1h1v-1zM706 199v1h1v-1zM707 199v1h1v-1zM708 199v1h1v-1zM709 199v1h1v-1zM710 199v1h1v-1zM711 199v1h1v-1zM712 199v1h1v-1zM713 199v1h1v-1zM714 198v1h1v-1zM715 198v1h1v-1zM716 198v1h1v-1zM717 197v1h1v-1zM718 197v1h1v-1zM719 196v1h1v-1zM720 196v1h1v-1zM721 196v1h1v-1zM722 197v1h1v-1zM723 197v1h1v-1zM724 197v1h1v-1zM725 198v1h1v-1zM726 198v1h1v-1zM727 199v1h1v-1zM728 200v1h1v-1zM729 201v1h1v-1zM730 202v1h1v-1zM731 202v1h1v-1zM732 203v1h1v-1zM733 204v1h1v-1zM734 205v1h1v-1zM735 206v1h1v-1zM736 207v1h1v-1zM737 208v1h1v-1zM738 208v1h1v-1zM739 209v1h1v-1zM740 210v1h1v-1zM741 211v1h1v-1zM742 212v1h1v-1zM743 213v1h1v-1zM744 214v1h1v-1zM745 215v1h1v-1zM746 216v1h1v-1zM747 217v1h1v-1zM748 218v1h1v-1zM749 219v1h1v-1zM750 220v1h1v-1zM751 221v1h1v-1zM752 222v2h1v-2zM753 224v1h1v-1zM754 225v1h1v-1zM755 226v1h1v-1zM756 227v1h1v-1zM757 228v1h1v-1zM758 228v1h1v-1zM759 229v1h1v-1zM760 230v1h1v-1zM761 231v1h1v-1zM762 232v1h1v-1zM763 232v1h1v-1zM764 233v1h1v-1zM765 234v1h1v-1zM766 235v2h1v-2zM767 237v1h1v-1zM768 238v2h1v-2zM769 240v1h1v-1zM770 241v1h1v-1zM771 242v2h1v-2zM772 244v1h1v-1zM773 245v2h1v-2zM774 247v1h1v-1zM775 248v2h1v-2zM776 250v1h1v-1zM777 251v2h1v-2zM778 253v2h1v-2zM779 255v1h1v-1zM780 256v2h1v-2zM781 258v2h1v-2zM782 260v1h1v-1zM783 261v2h1v-2zM784 263v1h1v-1zM785 264v2h1v-2zM786 266v1h1v-1zM787 267v2h1v-2zM788 269v1h1v-1zM789 270v1h1v-1zM790 271v2h1v-2zM791 273v1h1v-1zM792 274v2h1v-2zM793 276v1h1v-1zM794 277v1h1v-1zM795 278v1h1v-1zM796 279v2h1v-2zM797 281v1h1v-1zM798 282v2h1v-2zM799 284v1h1v-1zM800 285v1h1v-1zM801 286v1h1v-1zM802 287v1h1v-1zM803 288v1h1v-1zM804 289v1h1v-1zM805 289v1h1v-1zM806 290v1h1v-1zM807 290v1h1v-1zM808 291v1h1v-1zM809 291v1h1v-1zM810 291v1h1v-1zM811 291v1h1v-1zM812 291v1h1v-1zM813 291v1h1v-1zM814 291v1h1v-1zM815 291v1h1v-1zM816 291v1h1v-1zM817 291v1h1v-1zM818 291v1h1v-1zM819 291v1h1v-1zM820 291v1h1v-1zM821 291v1h1v-1zM822 291v1h1v-1zM823 291v1h1v-1zM824 291v1h1v-1zM825 291v1h1v-1zM826 290v1h1v-1zM827 290v1h1v-1zM828 290v1h1v-1zM829 290v1h1v-1zM830 290v1h1v-1zM831 289v1h1v-1zM832 289v1h1v-1zM833 288v1h1v-1zM834 288v1h1v-1zM835 288v1h1v-1zM836 287v1h1v-1zM837 286v1h1v-1zM838 286v1h1v-1zM839 286v1h1v-1zM840 285v1h1v-1zM841 285v1h1v-1zM842 285v1h1v-1zM843 285v1h1v-1zM844 284v1h1v-1zM845 284v1h1v-1zM846 284v1h1v-1zM847 284v1h1v-1zM848 284v1h1v-1zM849 283v1h1v-1zM850 282v1h1v-1zM851 281v1h1v-1zM852 280v1h1v-1zM853 279v1h1v-1zM854 278v1h1v-1zM855 276v2h1v-2zM856 275v1h1v-1zM857 274v1h1v-1zM858 273v1h1v-1zM859 271v2h1v-2zM860 269v2h1v-2zM861 267v2h1v-2zM862 265v2h1v-2zM863 264v1h1v-1zM864 262v2h1v-2zM865 260v2h1v-2zM866 259v1h1v-1zM867 257v2h1v-2zM868 255v2h1v-2zM869 253v2h1v-2zM870 250v3h1v-3zM871 248v2h1v-2zM872 245v3h1v-3zM873 243v2h1v-2zM874 241v2h1v-2zM875 240v1h1v-1zM876 239v1h1v-1zM877 238v1h1v-1zM878 236v2h1v-2zM879 235v1h1v-1zM880 233v2h1v-2zM881 232v1h1v-1zM882 230v2h1v-2zM883 229v1h1v-1zM884 227v2h1v-2zM885 226v1h1v-1zM886 225v1h1v-1zM887 224v1h1v-1zM888 223v1h1v-1zM889 222v1h1v-1zM890 221v1h1v-1zM891 220v1h1v-1zM892 218v2h1v-2zM893 217v1h1v-1zM894 216v1h1v-1zM895 214v2h1v-2zM896 213v1h1v-1zM897 211v2h1v-2zM898 210v1h1v-1zM899 209v1h1v-1zM900 207v2h1v-2zM901 205v2h1v-2zM902 203v2h1v-2zM903 201v2h1v-2zM904 199v2h1v-2zM905 197v2h1v-2zM906 195v2h1v-2zM907 192v3h1v-3zM908 190v2h1v-2zM909 188v2h1v-2zM910 186v2h1v-2zM911 184v2h1v-2zM912 182v2h1v-2zM913 180v2h1v-2zM914 177v3h1v-3zM915 176v1h1v-1zM916 173v3h1v-3zM917 172v1h1v-1zM918 169v3h1v-3zM919 168v1h1v-1zM920 165v3h1v-3zM921 164v1h1v-1zM922 161v3h1v-3zM923 160v1h1v-1zM924 158v2h1v-2z" fill="#0000dc"/>
<rect x="4" y="236" width="1" height="29" fill="#ff0000"/>
<rect x="4" y="236" width="2" height="16" fill="#ff0000"/>
<rect x="4" y="237" width="1" height="14" fill="#ff4500"/>
<rect x="8" y="157" width="1" height="81" fill="#ff0000"/>
<rect x="7" y="158" width="3" height="78" fill="#ff0000"/>
<rect x="8" y="159" width="1" height="76" fill="#ff4500"/>
<rect x="12" y="104" width="1" height="63" fill="#ff0000"/>
<rect x="11" y="152" width="3" height="7" fill="#ff0000"/>
<rect x="12" y="153" width="1" height="5" fill="#ff4500"/>
<rect x="16" y="160" width="1" height="3" fill="#32cd32"/>
<rect x="15" y="160" width="3" height="1" fill="#32cd32"/>
<rect x="20" y="161" width="1" height="85" fill="#32cd32"/>
<rect x="19" y="161" width="3" height="79" fill="#32cd32"/>
<rect x="24" y="239" width="1" height="36" fill="#32cd32"/>
<rect x="23" y="239" width="3" height="27" fill="#32cd32"/>
<rect x="28" y="244" width="1" height="28" fill="#32cd32"/>
<rect x="27" y="266" width="3" height="4" fill="#32cd32"/>
<rect x="32" y="221" width="1" height="49" fill="#ff0000"/>
<rect x="31" y="225" width="3" height="45" fill="#ff0000"/>
<rect x="32" y="226" width="1" height="43" fill="#ff4500"/>
<rect x="36" y="214" width="1" height="44" fill="#32cd32"/>
<rect x="35" y="224" width="3" height="32" fill="#32cd32"/>
<rect x="40" y="258" width="1" height="3" fill="#32cd32"/>
<rect x="39" y="258" width="3" height="2" fill="#32cd32"/>
<rect x="44" y="249" width="1" height="28" fill="#32cd32"/>
<rect x="43" y="258" width="3" height="3" fill="#32cd32"/>
<rect x="48" y="240" width="1" height="39" fill="#ff0000"/>
<rect x="47" y="258" width="3" height="2" fill="#ff0000"/>
<rect x="52" y="247" width="1" height="27" fill="#ff0000"/>
<rect x="51" y="254" width="3" height="4" fill="#ff0000"/>
<rect x="52" y="255" width="1" height="2" fill="#ff4500"/>
<rect x="56" y="247" width="1" height="42" fill="#32cd32"/>
<rect x="55" y="253" width="3" height="33" fill="#32cd32"/>
<rect x="60" y="285" width="1" height="28" fill="#32cd32"/>
<rect x="59" y="285" width="3" height="20" fill="#32cd32"/>
<rect x="64" y="297" width="1" height="3" fill="#ff0000"/>
<rect x="63" y="297" width="3" height="3" fill="#ff0000"/>
<rect x="64" y="298" width="1" height="1" fill="#ff4500"/>
<rect x="68" y="283" width="1" height="17" fill="#ff0000"/>
<rect x="67" y="294" width="3" height="3" fill="#ff0000"/>
<rect x="68" y="295" width="1" height="1" fill="#ff4500"/>
<rect x="72" y="239" width="1" height="63" fill="#ff0000"/>
<rect x="71" y="243" width="3" height="52" fill="#ff0000"/>
<rect x="72" y="244" width="1" height="50" fill="#ff4500"/>
<rect x="76" y="190" width="1" height="62" fill="#ff0000"/>
<rect x="75" y="221" width="3" height="23" fill="#ff0000"/>
<rect x="76" y="222" width="1" height="21" fill="#ff4500"/>
<rect x="80" y="206" width="1" height="49" fill="#32cd32"/>
<rect x="79" y="221" width="3" height="14" fill="#32cd32"/>
<rect x="84" y="231" width="1" height="42" fill="#32cd32"/>
<rect x="83" y="234" width="3" height="4" fill="#32cd32"/>
<rect x="88" y="225" width="1" height="5" fill="#32cd32"/>
<rect x="87" y="225" width="3" height="3" fill="#32cd32"/>
<rect x="92" y="221" width="1" height="27" fill="#32cd32"/>
<rect x="91" y="228" width="3" height="15" fill="#32cd32"/>
<rect x="96" y="219" width="1" height="46" fill="#ff0000"/>
<rect x="95" y="222" width="3" height="21" fill="#ff0000"/>
<rect x="96" y="223" width="1" height="19" fill="#ff4500"/>
<rect x="100" y="214" width="1" height="43" fill="#32cd32"/>
<rect x="99" y="223" width="3" height="34" fill="#32cd32"/>
<rect x="104" y="219" width="1" height="39" fill="#ff0000"/>
<rect x="103" y="227" width="3" height="30" fill="#ff0000"/>
<rect x="104" y="228" width="1" height="28" fill="#ff4500"/>
<rect x="108" y="189" width="1" height="60" fill="#ff0000"/>
<rect x="107" y="197" width="3" height="30" fill="#ff0000"/>
<rect x="108" y="198" width="1" height="28" fill="#ff4500"/>
<rect x="112" y="187" width="1" height="4" fill="#ff0000"/>
<rect x="111" y="189" width="3" height="1" fill="#ff0000"/>
<rect x="116" y="129" width="1" height="63" fill="#ff0000"/>
<rect x="115" y="171" width="3" height="18" fill="#ff0000"/>
<rect x="116" y="172" width="1" height="16" fill="#ff4500"/>
<rect x="120" y="150" width="1" height="50" fill="#ff0000"/>
<rect x="119" y="165" width="3" height="7" fill="#ff0000"/>
<rect x="120" y="166" width="1" height="5" fill="#ff4500"/>
<rect x="124" y="161" width="1" height="59" fill="#32cd32"/>
<rect x="123" y="164" width="3" height="16" fill="#32cd32"/>
<rect x="128" y="174" width="1" height="76" fill="#32cd32"/>
<rect x="127" y="179" width="3" height="56" fill="#32cd32"/>
<rect x="132" y="204" width="1" height="42" fill="#32cd32"/>
<rect x="131" y="235" width="3" height="2" fill="#32cd32"/>
<rect x="136" y="238" width="1" height="5" fill="#32cd32"/>
<rect x="135" y="240" width="3" height="2" fill="#32cd32"/>
<rect x="140" y="233" width="1" height="27" fill="#32cd32"/>
<rect x="139" y="241" width="3" height="12" fill="#32cd32"/>
<rect x="144" y="229" width="1" height="39" fill="#ff0000"/>
<rect x="143" y="229" width="3" height="24" fill="#ff0000"/>
<rect x="144" y="230" width="1" height="22" fill="#ff4500"/>
<rect x="148" y="184" width="1" height="50" fill="#ff0000"/>
<rect x="147" y="193" width="3" height="36" fill="#ff0000"/>
<rect x="148" y="194" width="1" height="34" fill="#ff4500"/>
<rect x="152" y="192" width="1" height="59" fill="#32cd32"/>
<rect x="151" y="193" width="3" height="34" fill="#32cd32"/>
<rect x="156" y="200" width="1" height="52" fill="#32cd32"/>
<rect x="155" y="225" width="3" height="23" fill="#32cd32"/>
<rect x="160" y="252" width="1" height="4" fill="#ff0000"/>
<rect x="159" y="252" width="3" height="3" fill="#ff0000"/>
<rect x="160" y="253" width="1" height="1" fill="#ff4500"/>
<rect x="164" y="239" width="1" height="46" fill="#32cd32"/>
<rect x="163" y="249" width="3" height="21" fill="#32cd32"/>
<rect x="168" y="251" width="1" height="39" fill="#32cd32"/>
<rect x="167" y="268" width="3" height="5" fill="#32cd32"/>
<rect x="172" y="242" width="1" height="32" fill="#ff0000"/>
<rect x="171" y="271" width="3" height="2" fill="#ff0000"/>
<rect x="176" y="266" width="1" height="27" fill="#32cd32"/>
<rect x="175" y="270" width="3" height="19" fill="#32cd32"/>
<rect x="180" y="281" width="1" height="52" fill="#32cd32"/>
<rect x="179" y="288" width="3" height="41" fill="#32cd32"/>
<rect x="184" y="317" width="1" height="5" fill="#ff0000"/>
<rect x="183" y="317" width="3" height="5" fill="#ff0000"/>
<rect x="184" y="318" width="1" height="3" fill="#ff4500"/>
<rect x="188" y="314" width="1" height="22" fill="#32cd32"/>
<rect x="187" y="318" width="3" height="2" fill="#32cd32"/>
<rect x="192" y="311" width="1" height="30" fill="#32cd32"/>
<rect x="191" y="319" width="3" height="2" fill="#32cd32"/>
<rect x="196" y="320" width="1" height="23" fill="#32cd32"/>
<rect x="195" y="320" width="3" height="19" fill="#32cd32"/>
<rect x="200" y="338" width="1" height="40" fill="#32cd32"/>
<rect x="199" y="338" width="3" height="30" fill="#32cd32"/>
<rect x="204" y="357" width="1" height="29" fill="#ff0000"/>
<rect x="203" y="363" width="3" height="5" fill="#ff0000"/>
<rect x="204" y="364" width="1" height="3" fill="#ff4500"/>
<rect x="208" y="368" width="1" height="5" fill="#ff0000"/>
<rect x="207" y="368" width="3" height="4" fill="#ff0000"/>
<rect x="208" y="369" width="1" height="2" fill="#ff4500"/>
<rect x="212" y="352" width="1" height="27" fill="#32cd32"/>
<rect x="211" y="368" width="3" height="2" fill="#32cd32"/>
<rect x="216" y="368" width="1" height="30" fill="#32cd32"/>
<rect x="215" y="369" width="3" height="8" fill="#32cd32"/>
<rect x="220" y="371" width="1" height="28" fill="#32cd32"/>
<rect x="219" y="377" width="3" height="15" fill="#32cd32"/>
<rect x="224" y="363" width="1" height="45" fill="#ff0000"/>
<rect x="223" y="369" width="3" height="22" fill="#ff0000"/>
<rect x="224" y="370" width="1" height="20" fill="#ff4500"/>
<rect x="228" y="361" width="1" height="32" fill="#32cd32"/>
<rect x="227" y="369" width="3" height="3" fill="#32cd32"/>
<rect x="232" y="366" width="1" height="7" fill="#ff0000"/>
<rect x="231" y="369" width="3" height="3" fill="#ff0000"/>
<rect x="232" y="370" width="1" height="1" fill="#ff4500"/>
<rect x="236" y="358" width="1" height="27" fill="#ff0000"/>
<rect x="235" y="366" width="3" height="4" fill="#ff0000"/>
<rect x="236" y="367" width="1" height="2" fill="#ff4500"/>
<rect x="240" y="358" width="1" height="22" fill="#ff0000"/>
<rect x="239" y="359" width="3" height="8" fill="#ff0000"/>
<rect x="240" y="360" width="1" height="6" fill="#ff4500"/>
<rect x="244" y="341" width="1" height="61" fill="#32cd32"/>
<rect x="243" y="360" width="3" height="11" fill="#32cd32"/>
<rect x="248" y="364" width="1" height="25" fill="#32cd32"/>
<rect x="247" y="370" width="3" height="11" fill="#32cd32"/>
<rect x="252" y="351" width="1" height="39" fill="#ff0000"/>
<rect x="251" y="369" width="3" height="12" fill="#ff0000"/>
<rect x="252" y="370" width="1" height="10" fill="#ff4500"/>
<rect x="256" y="362" width="1" height="5" fill="#ff0000"/>
<rect x="255" y="363" width="3" height="3" fill="#ff0000"/>
<rect x="256" y="364" width="1" height="1" fill="#ff4500"/>
<rect x="260" y="354" width="1" height="25" fill="#32cd32"/>
<rect x="259" y="364" width="3" height="5" fill="#32cd32"/>
<rect x="264" y="345" width="1" height="24" fill="#ff0000"/>
<rect x="263" y="352" width="3" height="17" fill="#ff0000"/>
<rect x="264" y="353" width="1" height="15" fill="#ff4500"/>
<rect x="268" y="330" width="1" height="37" fill="#32cd32"/>
<rect x="267" y="352" width="3" height="15" fill="#32cd32"/>
<rect x="272" y="323" width="1" height="44" fill="#ff0000"/>
<rect x="271" y="332" width="3" height="35" fill="#ff0000"/>
<rect x="272" y="333" width="1" height="33" fill="#ff4500"/>
<rect x="276" y="319" width="1" height="21" fill="#ff0000"/>
<rect x="275" y="329" width="3" height="3" fill="#ff0000"/>
<rect x="276" y="330" width="1" height="1" fill="#ff4500"/>
<rect x="280" y="331" width="1" height="5" fill="#32cd32"/>
<rect x="279" y="331" width="3" height="2" fill="#32cd32"/>
<rect x="284" y="326" width="1" height="15" fill="#32cd32"/>
<rect x="283" y="332" width="3" height="5" fill="#32cd32"/>
<rect x="288" y="317" width="1" height="27" fill="#32cd32"/>
<rect x="287" y="336" width="3" height="4" fill="#32cd32"/>
<rect x="292" y="308" width="1" height="55" fill="#ff0000"/>
<rect x="291" y="316" width="3" height="24" fill="#ff0000"/>
<rect x="292" y="317" width="1" height="22" fill="#ff4500"/>
<rect x="296" y="266" width="1" height="53" fill="#ff0000"/>
<rect x="295" y="268" width="3" height="49" fill="#ff0000"/>
<rect x="296" y="269" width="1" height="47" fill="#ff4500"/>
<rect x="300" y="262" width="1" height="28" fill="#32cd32"/>
<rect x="299" y="269" width="3" height="18" fill="#32cd32"/>
<rect x="304" y="288" width="1" height="4" fill="#ff0000"/>
<rect x="303" y="288" width="3" height="4" fill="#ff0000"/>
<rect x="304" y="289" width="1" height="2" fill="#ff4500"/>
<rect x="308" y="285" width="1" height="25" fill="#32cd32"/>
<rect x="307" y="289" width="3" height="15" fill="#32cd32"/>
<rect x="312" y="279" width="1" height="35" fill="#ff0000"/>
<rect x="311" y="280" width="3" height="25" fill="#ff0000"/>
<rect x="312" y="281" width="1" height="23" fill="#ff4500"/>
<rect x="316" y="254" width="1" height="40" fill="#ff0000"/>
<rect x="315" y="259" width="3" height="22" fill="#ff0000"/>
<rect x="316" y="260" width="1" height="20" fill="#ff4500"/>
<rect x="320" y="243" width="1" height="26" fill="#32cd32"/>
<rect x="319" y="259" width="3" height="4" fill="#32cd32"/>
<rect x="324" y="236" width="1" height="36" fill="#ff0000"/>
<rect x="323" y="236" width="3" height="27" fill="#ff0000"/>
<rect x="324" y="237" width="1" height="25" fill="#ff4500"/>
<rect x="328" y="238" width="1" height="9" fill="#ff0000"/>
<rect x="327" y="239" width="3" height="8" fill="#ff0000"/>
<rect x="328" y="240" width="1" height="6" fill="#ff4500"/>
<rect x="332" y="216" width="1" height="36" fill="#ff0000"/>
<rect x="331" y="216" width="3" height="25" fill="#ff0000"/>
<rect x="332" y="217" width="1" height="23" fill="#ff4500"/>
<rect x="336" y="198" width="1" height="40" fill="#32cd32"/>
<rect x="335" y="218" width="3" height="13" fill="#32cd32"/>
<rect x="340" y="214" width="1" height="28" fill="#32cd32"/>
<rect x="339" y="229" width="3" height="8" fill="#32cd32"/>
<rect x="344" y="229" width="1" height="18" fill="#ff0000"/>
<rect x="343" y="235" width="3" height="2" fill="#ff0000"/>
<rect x="348" y="173" width="1" height="64" fill="#ff0000"/>
<rect x="347" y="180" width="3" height="56" fill="#ff0000"/>
<rect x="348" y="181" width="1" height="54" fill="#ff4500"/>
<rect x="352" y="191" width="1" height="17" fill="#32cd32"/>
<rect x="351" y="192" width="3" height="16" fill="#32cd32"/>
<rect x="356" y="176" width="1" height="34" fill="#ff0000"/>
<rect x="355" y="201" width="3" height="7" fill="#ff0000"/>
<rect x="356" y="202" width="1" height="5" fill="#ff4500"/>
<rect x="360" y="156" width="1" height="49" fill="#ff0000"/>
<rect x="359" y="184" width="3" height="19" fill="#ff0000"/>
<rect x="360" y="185" width="1" height="17" fill="#ff4500"/>
<rect x="364" y="159" width="1" height="54" fill="#ff0000"/>
<rect x="363" y="167" width="3" height="18" fill="#ff0000"/>
<rect x="364" y="168" width="1" height="16" fill="#ff4500"/>
<rect x="368" y="155" width="1" height="28" fill="#ff0000"/>
<rect x="367" y="164" width="3" height="5" fill="#ff0000"/>
<rect x="368" y="165" width="1" height="3" fill="#ff4500"/>
<rect x="372" y="151" width="1" height="48" fill="#ff0000"/>
<rect x="371" y="155" width="3" height="10" fill="#ff0000"/>
<rect x="372" y="156" width="1" height="8" fill="#ff4500"/>
<rect x="376" y="156" width="1" height="9" fill="#32cd32"/>
<rect x="375" y="160" width="3" height="5" fill="#32cd32"/>
<rect x="380" y="153" width="1" height="42" fill="#32cd32"/>
<rect x="379" y="164" width="3" height="27" fill="#32cd32"/>
<rect x="384" y="188" width="1" height="61" fill="#32cd32"/>
<rect x="383" y="190" width="3" height="54" fill="#32cd32"/>
<rect x="388" y="234" width="1" height="28" fill="#ff0000"/>
<rect x="387" y="240" width="3" height="4" fill="#ff0000"/>
<rect x="388" y="241" width="1" height="2" fill="#ff4500"/>
<rect x="392" y="208" width="1" height="34" fill="#ff0000"/>
<rect x="391" y="214" width="3" height="27" fill="#ff0000"/>
<rect x="392" y="215" width="1" height="25" fill="#ff4500"/>
<rect x="396" y="201" width="1" height="28" fill="#ff0000"/>
<rect x="395" y="205" width="3" height="11" fill="#ff0000"/>
<rect x="396" y="206" width="1" height="9" fill="#ff4500"/>
<rect x="400" y="205" width="1" height="6" fill="#32cd32"/>
<rect x="399" y="205" width="3" height="4" fill="#32cd32"/>
<rect x="404" y="163" width="1" height="54" fill="#ff0000"/>
<rect x="403" y="169" width="3" height="41" fill="#ff0000"/>
<rect x="404" y="170" width="1" height="39" fill="#ff4500"/>
<rect x="408" y="141" width="1" height="34" fill="#ff0000"/>
<rect x="407" y="142" width="3" height="29" fill="#ff0000"/>
<rect x="408" y="143" width="1" height="27" fill="#ff4500"/>
<rect x="412" y="110" width="1" height="50" fill="#32cd32"/>
<rect x="411" y="142" width="3" height="14" fill="#32cd32"/>
<rect x="416" y="146" width="1" height="44" fill="#32cd32"/>
<rect x="415" y="155" width="3" height="28" fill="#32cd32"/>
<rect x="420" y="135" width="1" height="48" fill="#ff0000"/>
<rect x="419" y="136" width="3" height="47" fill="#ff0000"/>
<rect x="420" y="137" width="1" height="45" fill="#ff4500"/>
<rect x="424" y="126" width="1" height="8" fill="#ff0000"/>
<rect x="423" y="127" width="3" height="7" fill="#ff0000"/>
<rect x="424" y="128" width="1" height="5" fill="#ff4500"/>
<rect x="428" y="97" width="1" height="37" fill="#ff0000"/>
<rect x="427" y="110" width="3" height="18" fill="#ff0000"/>
<rect x="428" y="111" width="1" height="16" fill="#ff4500"/>
<rect x="432" y="106" width="1" height="16" fill="#32cd32"/>
<rect x="431" y="110" width="3" height="7" fill="#32cd32"/>
<rect x="436" y="116" width="1" height="43" fill="#32cd32"/>
<rect x="435" y="116" width="3" height="34" fill="#32cd32"/>
<rect x="440" y="148" width="1" height="26" fill="#32cd32"/>
<rect x="439" y="149" width="3" height="12" fill="#32cd32"/>
<rect x="444" y="157" width="1" height="24" fill="#32cd32"/>
<rect x="443" y="160" width="3" height="8" fill="#32cd32"/>
<rect x="448" y="164" width="1" height="5" fill="#ff0000"/>
<rect x="447" y="165" width="3" height="3" fill="#ff0000"/>
<rect x="448" y="166" width="1" height="1" fill="#ff4500"/>
<rect x="452" y="151" width="1" height="32" fill="#32cd32"/>
<rect x="451" y="165" width="3" height="14" fill="#32cd32"/>
<rect x="456" y="158" width="1" height="24" fill="#ff0000"/>
<rect x="455" y="165" width="3" height="14" fill="#ff0000"/>
<rect x="456" y="166" width="1" height="12" fill="#ff4500"/>
<rect x="460" y="157" width="1" height="24" fill="#32cd32"/>
<rect x="459" y="165" width="3" height="16" fill="#32cd32"/>
<rect x="464" y="167" width="1" height="37" fill="#32cd32"/>
<rect x="463" y="180" width="3" height="18" fill="#32cd32"/>
<rect x="468" y="195" width="1" height="61" fill="#32cd32"/>
<rect x="467" y="198" width="3" height="49" fill="#32cd32"/>
<rect x="472" y="237" width="1" height="15" fill="#ff0000"/>
<rect x="471" y="237" width="3" height="14" fill="#ff0000"/>
<rect x="472" y="238" width="1" height="12" fill="#ff4500"/>
<rect x="476" y="182" width="1" height="63" fill="#ff0000"/>
<rect x="475" y="194" width="3" height="45" fill="#ff0000"/>
<rect x="476" y="195" width="1" height="43" fill="#ff4500"/>
<rect x="480" y="188" width="1" height="45" fill="#32cd32"/>
<rect x="479" y="193" width="3" height="24" fill="#32cd32"/>
<rect x="484" y="188" width="1" height="35" fill="#ff0000"/>
<rect x="483" y="191" width="3" height="26" fill="#ff0000"/>
<rect x="484" y="192" width="1" height="24" fill="#ff4500"/>
<rect x="488" y="166" width="1" height="50" fill="#32cd32"/>
<rect x="487" y="190" width="3" height="15" fill="#32cd32"/>
<rect x="492" y="204" width="1" height="45" fill="#32cd32"/>
<rect x="491" y="205" width="3" height="44" fill="#32cd32"/>
<rect x="496" y="238" width="1" height="12" fill="#ff0000"/>
<rect x="495" y="242" width="3" height="4" fill="#ff0000"/>
<rect x="496" y="243" width="1" height="2" fill="#ff4500"/>
<rect x="500" y="219" width="1" height="42" fill="#ff0000"/>
<rect x="499" y="234" width="3" height="10" fill="#ff0000"/>
<rect x="500" y="235" width="1" height="8" fill="#ff4500"/>
<rect x="504" y="232" width="1" height="48" fill="#32cd32"/>
<rect x="503" y="234" width="3" height="41" fill="#32cd32"/>
<rect x="508" y="274" width="1" height="39" fill="#32cd32"/>
<rect x="507" y="274" width="3" height="36" fill="#32cd32"/>
<rect x="512" y="300" width="1" height="32" fill="#ff0000"/>
<rect x="511" y="306" width="3" height="3" fill="#ff0000"/>
<rect x="512" y="307" width="1" height="1" fill="#ff4500"/>
<rect x="516" y="278" width="1" height="46" fill="#ff0000"/>
<rect x="515" y="282" width="3" height="25" fill="#ff0000"/>
<rect x="516" y="283" width="1" height="23" fill="#ff4500"/>
<rect x="520" y="284" width="1" height="9" fill="#32cd32"/>
<rect x="519" y="290" width="3" height="2" fill="#32cd32"/>
<rect x="524" y="286" width="1" height="25" fill="#32cd32"/>
<rect x="523" y="291" width="3" height="13" fill="#32cd32"/>
<rect x="528" y="281" width="1" height="36" fill="#32cd32"/>
<rect x="527" y="303" width="3" height="9" fill="#32cd32"/>
<rect x="532" y="299" width="1" height="35" fill="#ff0000"/>
<rect x="531" y="306" width="3" height="6" fill="#ff0000"/>
<rect x="532" y="307" width="1" height="4" fill="#ff4500"/>
<rect x="536" y="303" width="1" height="30" fill="#32cd32"/>
<rect x="535" y="306" width="3" height="5" fill="#32cd32"/>
<rect x="540" y="276" width="1" height="35" fill="#ff0000"/>
<rect x="539" y="276" width="3" height="35" fill="#ff0000"/>
<rect x="540" y="277" width="1" height="33" fill="#ff4500"/>
<rect x="544" y="273" width="1" height="10" fill="#32cd32"/>
<rect x="543" y="275" width="3" height="8" fill="#32cd32"/>
<rect x="548" y="217" width="1" height="69" fill="#ff0000"/>
<rect x="547" y="252" width="3" height="31" fill="#ff0000"/>
<rect x="548" y="253" width="1" height="29" fill="#ff4500"/>
<rect x="552" y="233" width="1" height="33" fill="#32cd32"/>
<rect x="551" y="252" width="3" height="6" fill="#32cd32"/>
<rect x="556" y="224" width="1" height="62" fill="#ff0000"/>
<rect x="555" y="238" width="3" height="20" fill="#ff0000"/>
<rect x="556" y="239" width="1" height="18" fill="#ff4500"/>
<rect x="560" y="196" width="1" height="46" fill="#ff0000"/>
<rect x="559" y="197" width="3" height="42" fill="#ff0000"/>
<rect x="560" y="198" width="1" height="40" fill="#ff4500"/>
<rect x="564" y="174" width="1" height="39" fill="#ff0000"/>
<rect x="563" y="179" width="3" height="19" fill="#ff0000"/>
<rect x="564" y="180" width="1" height="17" fill="#ff4500"/>
<rect x="568" y="183" width="1" height="9" fill="#32cd32"/>
<rect x="567" y="188" width="3" height="4" fill="#32cd32"/>
<rect x="572" y="184" width="1" height="44" fill="#32cd32"/>
<rect x="571" y="191" width="3" height="20" fill="#32cd32"/>
<rect x="576" y="206" width="1" height="34" fill="#32cd32"/>
<rect x="575" y="210" width="3" height="14" fill="#32cd32"/>
<rect x="580" y="216" width="1" height="26" fill="#32cd32"/>
<rect x="579" y="223" width="3" height="2" fill="#32cd32"/>
<rect x="584" y="211" width="1" height="28" fill="#32cd32"/>
<rect x="583" y="224" width="3" height="5" fill="#32cd32"/>
<rect x="588" y="178" width="1" height="56" fill="#ff0000"/>
<rect x="587" y="194" width="3" height="35" fill="#ff0000"/>
<rect x="588" y="195" width="1" height="33" fill="#ff4500"/>
<rect x="592" y="195" width="1" height="3" fill="#32cd32"/>
<rect x="591" y="196" width="3" height="2" fill="#32cd32"/>
<rect x="596" y="193" width="1" height="46" fill="#32cd32"/>
<rect x="595" y="197" width="3" height="38" fill="#32cd32"/>
<rect x="600" y="209" width="1" height="27" fill="#ff0000"/>
<rect x="599" y="215" width="3" height="21" fill="#ff0000"/>
<rect x="600" y="216" width="1" height="19" fill="#ff4500"/>
<rect x="604" y="214" width="1" height="21" fill="#32cd32"/>
<rect x="603" y="216" width="3" height="14" fill="#32cd32"/>
<rect x="608" y="203" width="1" height="46" fill="#ff0000"/>
<rect x="607" y="203" width="3" height="27" fill="#ff0000"/>
<rect x="608" y="204" width="1" height="25" fill="#ff4500"/>
<rect x="612" y="194" width="1" height="16" fill="#ff0000"/>
<rect x="611" y="199" width="3" height="5" fill="#ff0000"/>
<rect x="612" y="200" width="1" height="3" fill="#ff4500"/>
<rect x="616" y="199" width="1" height="11" fill="#32cd32"/>
<rect x="615" y="203" width="3" height="6" fill="#32cd32"/>
<rect x="620" y="180" width="1" height="30" fill="#ff0000"/>
<rect x="619" y="205" width="3" height="4" fill="#ff0000"/>
<rect x="620" y="206" width="1" height="2" fill="#ff4500"/>
<rect x="624" y="184" width="1" height="31" fill="#32cd32"/>
<rect x="623" y="205" width="3" height="3" fill="#32cd32"/>
<rect x="628" y="207" width="1" height="29" fill="#32cd32"/>
<rect x="627" y="207" width="3" height="14" fill="#32cd32"/>
<rect x="632" y="203" width="1" height="27" fill="#ff0000"/>
<rect x="631" y="214" width="3" height="7" fill="#ff0000"/>
<rect x="632" y="215" width="1" height="5" fill="#ff4500"/>
<rect x="636" y="191" width="1" height="40" fill="#ff0000"/>
<rect x="635" y="198" width="3" height="17" fill="#ff0000"/>
<rect x="636" y="199" width="1" height="15" fill="#ff4500"/>
<rect x="640" y="190" width="1" height="6" fill="#ff0000"/>
<rect x="639" y="192" width="3" height="4" fill="#ff0000"/>
<rect x="640" y="193" width="1" height="2" fill="#ff4500"/>
<rect x="644" y="188" width="1" height="20" fill="#ff0000"/>
<rect x="643" y="192" width="3" height="1" fill="#ff0000"/>
<rect x="648" y="180" width="1" height="31" fill="#ff0000"/>
<rect x="647" y="187" width="3" height="6" fill="#ff0000"/>
<rect x="648" y="188" width="1" height="4" fill="#ff4500"/>
<rect x="652" y="187" width="1" height="41" fill="#32cd32"/>
<rect x="651" y="188" width="3" height="16" fill="#32cd32"/>
<rect x="656" y="137" width="1" height="68" fill="#ff0000"/>
<rect x="655" y="169" width="3" height="35" fill="#ff0000"/>
<rect x="656" y="170" width="1" height="33" fill="#ff4500"/>
<rect x="660" y="163" width="1" height="51" fill="#32cd32"/>
<rect x="659" y="169" width="3" height="45" fill="#32cd32"/>
<rect x="664" y="191" width="1" height="10" fill="#ff0000"/>
<rect x="663" y="193" width="3" height="3" fill="#ff0000"/>
<rect x="664" y="194" width="1" height="1" fill="#ff4500"/>
<rect x="668" y="168" width="1" height="70" fill="#32cd32"/>
<rect x="667" y="193" width="3" height="41" fill="#32cd32"/>
<rect x="672" y="195" width="1" height="46" fill="#ff0000"/>
<rect x="671" y="207" width="3" height="28" fill="#ff0000"/>
<rect x="672" y="208" width="1" height="26" fill="#ff4500"/>
<rect x="676" y="199" width="1" height="53" fill="#32cd32"/>
<rect x="675" y="207" width="3" height="37" fill="#32cd32"/>
<rect x="680" y="222" width="1" height="49" fill="#ff0000"/>
<rect x="679" y="232" width="3" height="12" fill="#ff0000"/>
<rect x="680" y="233" width="1" height="10" fill="#ff4500"/>
<rect x="684" y="176" width="1" height="57" fill="#ff0000"/>
<rect x="683" y="199" width="3" height="34" fill="#ff0000"/>
<rect x="684" y="200" width="1" height="32" fill="#ff4500"/>
<rect x="688" y="193" width="1" height="19" fill="#32cd32"/>
<rect x="687" y="203" width="3" height="9" fill="#32cd32"/>
<rect x="692" y="163" width="1" height="63" fill="#ff0000"/>
<rect x="691" y="173" width="3" height="39" fill="#ff0000"/>
<rect x="692" y="174" width="1" height="37" fill="#ff4500"/>
<rect x="696" y="126" width="1" height="49" fill="#ff0000"/>
<rect x="695" y="131" width="3" height="42" fill="#ff0000"/>
<rect x="696" y="132" width="1" height="40" fill="#ff4500"/>
<rect x="700" y="130" width="1" height="44" fill="#32cd32"/>
<rect x="699" y="130" width="3" height="44" fill="#32cd32"/>
<rect x="704" y="153" width="1" height="42" fill="#32cd32"/>
<rect x="703" y="173" width="3" height="22" fill="#32cd32"/>
<rect x="708" y="175" width="1" height="47" fill="#32cd32"/>
<rect x="707" y="193" width="3" height="15" fill="#32cd32"/>
<rect x="712" y="201" width="1" height="5" fill="#32cd32"/>
<rect x="711" y="201" width="3" height="2" fill="#32cd32"/>
<rect x="716" y="160" width="1" height="44" fill="#ff0000"/>
<rect x="715" y="163" width="3" height="40" fill="#ff0000"/>
<rect x="716" y="164" width="1" height="38" fill="#ff4500"/>
<rect x="720" y="140" width="1" height="51" fill="#32cd32"/>
<rect x="719" y="162" width="3" height="25" fill="#32cd32"/>
<rect x="724" y="183" width="1" height="48" fill="#32cd32"/>
<rect x="723" y="186" width="3" height="39" fill="#32cd32"/>
<rect x="728" y="219" width="1" height="40" fill="#32cd32"/>
<rect x="727" y="224" width="3" height="26" fill="#32cd32"/>
<rect x="732" y="243" width="1" height="24" fill="#32cd32"/>
<rect x="731" y="250" width="3" height="15" fill="#32cd32"/>
<rect x="736" y="261" width="1" height="6" fill="#ff0000"/>
<rect x="735" y="261" width="3" height="3" fill="#ff0000"/>
<rect x="736" y="262" width="1" height="1" fill="#ff4500"/>
<rect x="740" y="254" width="1" height="27" fill="#32cd32"/>
<rect x="739" y="261" width="3" height="9" fill="#32cd32"/>
<rect x="744" y="253" width="1" height="27" fill="#32cd32"/>
<rect x="743" y="269" width="3" height="4" fill="#32cd32"/>
<rect x="748" y="262" width="1" height="30" fill="#32cd32"/>
<rect x="747" y="272" width="3" height="12" fill="#32cd32"/>
<rect x="752" y="270" width="1" height="36" fill="#32cd32"/>
<rect x="751" y="283" width="3" height="18" fill="#32cd32"/>
<rect x="756" y="286" width="1" height="39" fill="#32cd32"/>
<rect x="755" y="300" width="3" height="23" fill="#32cd32"/>
<rect x="760" y="316" width="1" height="5" fill="#ff0000"/>
<rect x="759" y="316" width="3" height="3" fill="#ff0000"/>
<rect x="760" y="317" width="1" height="1" fill="#ff4500"/>
<rect x="764" y="268" width="1" height="55" fill="#ff0000"/>
<rect x="763" y="300" width="3" height="17" fill="#ff0000"/>
<rect x="764" y="301" width="1" height="15" fill="#ff4500"/>
<rect x="768" y="296" width="1" height="29" fill="#32cd32"/>
<rect x="767" y="300" width="3" height="12" fill="#32cd32"/>
<rect x="772" y="306" width="1" height="37" fill="#32cd32"/>
<rect x="771" y="310" width="3" height="10" fill="#32cd32"/>
<rect x="776" y="295" width="1" height="32" fill="#ff0000"/>
<rect x="775" y="309" width="3" height="9" fill="#ff0000"/>
<rect x="776" y="310" width="1" height="7" fill="#ff4500"/>
<rect x="780" y="292" width="1" height="28" fill="#ff0000"/>
<rect x="779" y="306" width="3" height="4" fill="#ff0000"/>
<rect x="780" y="307" width="1" height="2" fill="#ff4500"/>
<rect x="784" y="298" width="1" height="3" fill="#ff0000"/>
<rect x="783" y="298" width="3" height="3" fill="#ff0000"/>
<rect x="784" y="299" width="1" height="1" fill="#ff4500"/>
<rect x="788" y="297" width="1" height="29" fill="#32cd32"/>
<rect x="787" y="298" width="3" height="19" fill="#32cd32"/>
<rect x="792" y="311" width="1" height="45" fill="#32cd32"/>
<rect x="791" y="316" width="3" height="2" fill="#32cd32"/>
<rect x="796" y="279" width="1" height="42" fill="#ff0000"/>
<rect x="795" y="281" width="3" height="37" fill="#ff0000"/>
<rect x="796" y="282" width="1" height="35" fill="#ff4500"/>
<rect x="800" y="259" width="1" height="35" fill="#ff0000"/>
<rect x="799" y="270" width="3" height="12" fill="#ff0000"/>
<rect x="800" y="271" width="1" height="10" fill="#ff4500"/>
<rect x="804" y="255" width="1" height="26" fill="#32cd32"/>
<rect x="803" y="270" width="3" height="10" fill="#32cd32"/>
<rect x="808" y="273" width="1" height="8" fill="#ff0000"/>
<rect x="807" y="273" width="3" height="8" fill="#ff0000"/>
<rect x="808" y="274" width="1" height="6" fill="#ff4500"/>
<rect x="812" y="244" width="1" height="34" fill="#ff0000"/>
<rect x="811" y="246" width="3" height="28" fill="#ff0000"/>
<rect x="812" y="247" width="1" height="26" fill="#ff4500"/>
<rect x="816" y="236" width="1" height="38" fill="#32cd32"/>
<rect x="815" y="246" width="3" height="3" fill="#32cd32"/>
<rect x="820" y="229" width="1" height="57" fill="#32cd32"/>
<rect x="819" y="248" width="3" height="32" fill="#32cd32"/>
<rect x="824" y="245" width="1" height="56" fill="#ff0000"/>
<rect x="823" y="261" width="3" height="19" fill="#ff0000"/>
<rect x="824" y="262" width="1" height="17" fill="#ff4500"/>
<rect x="828" y="255" width="1" height="15" fill="#32cd32"/>
<rect x="827" y="261" width="3" height="1" fill="#32cd32"/>
<rect x="832" y="256" width="1" height="5" fill="#ff0000"/>
<rect x="831" y="257" width="3" height="4" fill="#ff0000"/>
<rect x="832" y="258" width="1" height="2" fill="#ff4500"/>
<rect x="836" y="244" width="1" height="21" fill="#32cd32"/>
<rect x="835" y="258" width="3" height="7" fill="#32cd32"/>
<rect x="840" y="243" width="1" height="38" fill="#ff0000"/>
<rect x="839" y="262" width="3" height="2" fill="#ff0000"/>
<rect x="844" y="253" width="1" height="71" fill="#32cd32"/>
<rect x="843" y="262" width="3" height="55" fill="#32cd32"/>
<rect x="848" y="268" width="1" height="62" fill="#ff0000"/>
<rect x="847" y="268" width="3" height="49" fill="#ff0000"/>
<rect x="848" y="269" width="1" height="47" fill="#ff4500"/>
<rect x="852" y="207" width="1" height="65" fill="#ff0000"/>
<rect x="851" y="209" width="3" height="60" fill="#ff0000"/>
<rect x="852" y="210" width="1" height="58" fill="#ff4500"/>
<rect x="856" y="208" width="1" height="4" fill="#ff0000"/>
<rect x="855" y="208" width="3" height="4" fill="#ff0000"/>
<rect x="856" y="209" width="1" height="2" fill="#ff4500"/>
<rect x="860" y="183" width="1" height="29" fill="#ff0000"/>
<rect x="859" y="201" width="3" height="8" fill="#ff0000"/>
<rect x="860" y="202" width="1" height="6" fill="#ff4500"/>
<rect x="864" y="160" width="1" height="66" fill="#ff0000"/>
<rect x="863" y="169" width="3" height="33" fill="#ff0000"/>
<rect x="864" y="170" width="1" height="31" fill="#ff4500"/>
<rect x="868" y="148" width="1" height="36" fill="#ff0000"/>
<rect x="867" y="166" width="3" height="4" fill="#ff0000"/>
<rect x="868" y="167" width="1" height="2" fill="#ff4500"/>
<rect x="872" y="136" width="1" height="42" fill="#32cd32"/>
<rect x="871" y="165" width="3" height="7" fill="#32cd32"/>
<rect x="876" y="156" width="1" height="55" fill="#ff0000"/>
<rect x="875" y="157" width="3" height="15" fill="#ff0000"/>
<rect x="876" y="158" width="1" height="13" fill="#ff4500"/>
<rect x="880" y="147" width="1" height="7" fill="#ff0000"/>
<rect x="879" y="147" width="3" height="5" fill="#ff0000"/>
<rect x="880" y="148" width="1" height="3" fill="#ff4500"/>
<rect x="884" y="120" width="1" height="32" fill="#ff0000"/>
<rect x="883" y="140" width="3" height="9" fill="#ff0000"/>
<rect x="884" y="141" width="1" height="7" fill="#ff4500"/>
<rect x="888" y="129" width="1" height="33" fill="#32cd32"/>
<rect x="887" y="140" width="3" height="18" fill="#32cd32"/>
<rect x="892" y="148" width="1" height="60" fill="#32cd32"/>
<rect x="891" y="157" width="3" height="44" fill="#32cd32"/>
<rect x="896" y="141" width="1" height="72" fill="#ff0000"/>
<rect x="895" y="160" width="3" height="42" fill="#ff0000"/>
<rect x="896" y="161" width="1" height="40" fill="#ff4500"/>
<rect x="900" y="122" width="1" height="45" fill="#ff0000"/>
<rect x="899" y="124" width="3" height="36" fill="#ff0000"/>
<rect x="900" y="125" width="1" height="34" fill="#ff4500"/>
<rect x="904" y="116" width="1" height="6" fill="#ff0000"/>
<rect x="903" y="117" width="3" height="4" fill="#ff0000"/>
<rect x="904" y="118" width="1" height="2" fill="#ff4500"/>
<rect x="908" y="72" width="1" height="52" fill="#ff0000"/>
<rect x="907" y="76" width="3" height="43" fill="#ff0000"/>
<rect x="908" y="77" width="1" height="41" fill="#ff4500"/>
<rect x="912" y="57" width="1" height="42" fill="#ff0000"/>
<rect x="911" y="66" width="3" height="11" fill="#ff0000"/>
<rect x="912" y="67" width="1" height="9" fill="#ff4500"/>
<rect x="916" y="63" width="1" height="55" fill="#32cd32"/>
<rect x="915" y="66" width="3" height="18" fill="#32cd32"/>
<rect x="920" y="46" width="1" height="46" fill="#ff0000"/>
<rect x="919" y="69" width="3" height="15" fill="#ff0000"/>
<rect x="920" y="70" width="1" height="13" fill="#ff4500"/>
<rect x="924" y="66" width="1" height="7" fill="#32cd32"/>
<rect x="923" y="69" width="3" height="3" fill="#32cd32"/>
<rect x="1167" y="51" width="2" height="1" fill="#000"/>
<rect x="1167" y="84" width="2" height="1" fill="#000"/>
<rect x="1167" y="117" width="2" height="1" fill="#000"/>
<rect x="1167" y="150" width="2" height="1" fill="#000"/>
<rect x="1167" y="183" width="2" height="1" fill="#000"/>
<rect x="1167" y="216" width="2" height="1" fill="#000"/>
<rect x="1167" y="249" width="2" height="1" fill="#000"/>
<rect x="1167" y="282" width="2" height="1" fill="#000"/>
<rect x="1167" y="315" width="2" height="1" fill="#000"/>
<rect x="1167" y="348" width="2" height="1" fill="#000"/>
<rect x="1167" y="381" width="2" height="1" fill="#000"/>
<rect x="1167" y="414" width="2" height="1" fill="#000"/>
<rect x="1167" y="459" width="2" height="1" fill="#000"/>
<rect x="1167" y="421" width="1" height="1" fill="#000"/>
<rect x="1167" y="490" width="1" height="1" fill="#000"/>
<rect x="1167" y="495" width="1" height="1" fill="#000"/>
<rect x="1167" y="565" width="1" height="1" fill="#000"/>
<rect x="4" y="568" width="1" height="3" fill="#000"/>
<rect x="68" y="568" width="1" height="3" fill="#000"/>
<rect x="132" y="568" width="1" height="3" fill="#000"/>
<rect x="196" y="568" width="1" height="3" fill="#000"/>
<rect x="260" y="568" width="1" height="3" fill="#000"/>
<rect x="324" y="568" width="1" height="3" fill="#000"/>
<rect x="388" y="568" width="1" height="3" fill="#000"/>
<rect x="452" y="568" width="1" height="3" fill="#000"/>
<rect x="516" y="568" width="1" height="3" fill="#000"/>
<rect x="580" y="568" width="1" height="3" fill="#000"/>
<rect x="644" y="568" width="1" height="3" fill="#000"/>
<rect x="708" y="568" width="1" height="3" fill="#000"/>
<rect x="772" y="568" width="1" height="3" fill="#000"/>
<rect x="836" y="568" width="1" height="3" fill="#000"/>
<rect x="900" y="568" width="1" height="3" fill="#000"/>
<polygon points="7,33 14,33 10.5,37" fill="#000"/>
</svg>
<div class="t " style="left:18.54px;top:31px;font-size:10px;color:#000;transform:scaleX(0.9803)">USDCAD-,Daily</div>
<div class="t " style="left:94.02px;top:31px;font-size:10px;color:#000;transform:scaleX(0.9127)">1.30253</div>
<div class="t " style="left:129.92px;top:31px;font-size:10px;color:#000;transform:scaleX(0.9112)">1.30301</div>
<div class="t " style="left:165.72px;top:31px;font-size:10px;color:#000;transform:scaleX(0.9121)">1.30185</div>
<div class="t " style="left:202.02px;top:31px;font-size:10px;color:#000;transform:scaleX(0.9042)">1.30211</div>
<div class="t " style="left:7.91px;top:425px;font-size:10px;color:#000;transform:scaleX(0.9522)">MACD(12,26,9)</div>
<div class="t " style="left:77.36px;top:425px;font-size:10px;color:#000;transform:scaleX(0.9022)">0.009838</div>
<div class="t " style="left:118.06px;top:425px;font-size:10px;color:#000;transform:scaleX(0.9114)">0.008005</div>
<div class="t " style="left:7.94px;top:499px;font-size:10px;color:#000;transform:scaleX(0.9205)">RSI(14)</div>
<div class="t " style="left:43.15px;top:499px;font-size:10px;color:#000;transform:scaleX(0.9024)">68.7074</div>
<div class="t " style="left:1171.82px;top:48px;font-size:10px;color:#000;transform:scaleX(0.9127)">1.30630</div>
<div class="t " style="left:1171.82px;top:81px;font-size:10px;color:#000;transform:scaleX(0.9127)">1.29910</div>
<div class="t " style="left:1171.82px;top:114px;font-size:10px;color:#000;transform:scaleX(0.9127)">1.29190</div>
<div class="t " style="left:1171.82px;top:147px;font-size:10px;color:#000;transform:scaleX(0.9127)">1.28470</div>
<div class="t " style="left:1171.82px;top:180px;font-size:10px;color:#000;transform:scaleX(0.9127)">1.27750</div>
<div class="t " style="left:1171.82px;top:213px;font-size:10px;color:#000;transform:scaleX(0.9127)">1.27030</div>
<div class="t " style="left:1171.82px;top:279px;font-size:10px;color:#000;transform:scaleX(0.9127)">1.25610</div>
<div class="t " style="left:1171.82px;top:312px;font-size:10px;color:#000;transform:scaleX(0.9127)">1.24890</div>
<div class="t " style="left:1171.82px;top:345px;font-size:10px;color:#000;transform:scaleX(0.9127)">1.24170</div>
<div class="t " style="left:1171.82px;top:378px;font-size:10px;color:#000;transform:scaleX(0.9127)">1.23450</div>
<div class="t " style="left:1171.82px;top:411px;font-size:10px;color:#000;transform:scaleX(0.9127)">1.22730</div>
<div class="t " style="left:1170.56px;top:423px;font-size:10px;color:#000;transform:scaleX(0.9127)">0.010733</div>
<div class="t " style="left:1170.56px;top:456px;font-size:10px;color:#000;transform:scaleX(0.9127)">0.00</div>
<div class="t " style="left:1170.09px;top:481px;font-size:10px;color:#000;transform:scaleX(0.9127)">-0.008967</div>
<div class="t " style="left:1170.22px;top:497px;font-size:10px;color:#000;transform:scaleX(0.9127)">100</div>
<div class="t " style="left:1169.24px;top:513px;font-size:10px;color:#000;transform:scaleX(0.9127)">70</div>
<div class="t " style="left:1169.36px;top:542px;font-size:10px;color:#000;transform:scaleX(0.9127)">30</div>
<div class="t " style="left:1170.56px;top:557px;font-size:10px;color:#000;transform:scaleX(0.9127)">0</div>
<div class="lab" style="top:66px;background:#000"></div>
<div class="t " style="left:1171.82px;top:68px;font-size:10px;color:#fff;transform:scaleX(0.9127)">1.30211</div>
<div class="lab" style="top:59px;background:#ff0000"></div>
<div class="t " style="left:1171.82px;top:61px;font-size:10px;color:#fff;transform:scaleX(0.9127)">1.30328</div>
<div class="lab" style="top:124px;background:#00ff00"></div>
<div class="t " style="left:1171.82px;top:126px;font-size:10px;color:#fff;transform:scaleX(0.9127)">1.28912</div>
<div class="lab" style="top:188px;background:#0000ff"></div>
<div class="t " style="left:1171.82px;top:190px;font-size:10px;color:#fff;transform:scaleX(0.9127)">1.27515</div>
<div class="lab" style="top:244px;background:#0000ff"></div>
<div class="t " style="left:1171.82px;top:246px;font-size:10px;color:#fff;transform:scaleX(0.9127)">1.26303</div>
<div class="lab" style="top:313px;background:#0000ff"></div>
<div class="t " style="left:1171.82px;top:315px;font-size:10px;color:#fff;transform:scaleX(0.9127)">1.24800</div>
<div class="lab" style="top:386px;background:#0000ff"></div>
<div class="t " style="left:1171.82px;top:388px;font-size:10px;color:#fff;transform:scaleX(0.9127)">1.23203</div>
<div class="t " style="left:3.31px;top:573px;font-size:10px;color:#000;transform:scaleX(0.9249)">18 Aug 2021</div>
<div class="t " style="left:66.94px;top:573px;font-size:10px;color:#000;transform:scaleX(0.9249)">6 Sep 2021</div>
<div class="t " style="left:130.94px;top:573px;font-size:10px;color:#000;transform:scaleX(0.9249)">24 Sep 2021</div>
<div class="t " style="left:195.31px;top:573px;font-size:10px;color:#000;transform:scaleX(0.9249)">13 Oct 2021</div>
<div class="t " style="left:259.31px;top:573px;font-size:10px;color:#000;transform:scaleX(0.9249)">1 Nov 2021</div>
<div class="t " style="left:323.31px;top:573px;font-size:10px;color:#000;transform:scaleX(0.9249)">19 Nov 2021</div>
<div class="t " style="left:387.01px;top:573px;font-size:10px;color:#000;transform:scaleX(0.9249)">8 Dec 2021</div>
<div class="t " style="left:450.94px;top:573px;font-size:10px;color:#000;transform:scaleX(0.9249)">27 Dec 2021</div>
<div class="t " style="left:515.31px;top:573px;font-size:10px;color:#000;transform:scaleX(0.9249)">14 Jan 2022</div>
<div class="t " style="left:578.94px;top:573px;font-size:10px;color:#000;transform:scaleX(0.9249)">2 Feb 2022</div>
<div class="t " style="left:642.94px;top:573px;font-size:10px;color:#000;transform:scaleX(0.9249)">21 Feb 2022</div>
<div class="t " style="left:707.31px;top:573px;font-size:10px;color:#000;transform:scaleX(0.9249)">11 Mar 2022</div>
<div class="t " style="left:771.05px;top:573px;font-size:10px;color:#000;transform:scaleX(0.9249)">30 Mar 2022</div>
<div class="t " style="left:835.31px;top:573px;font-size:10px;color:#000;transform:scaleX(0.9249)">18 Apr 2022</div>
<div class="t " style="left:898.94px;top:573px;font-size:10px;color:#000;transform:scaleX(0.9249)">6 May 2022</div>
<div style="position:absolute;left:0;top:588px;width:1204px;height:1px;background:#e3e3e3"></div>
<div style="position:absolute;left:0;top:589px;width:1204px;height:1px;background:#fff"></div>
<div style="position:absolute;left:0;top:590px;width:1204px;height:1px;background:#000"></div>
<div style="position:absolute;left:0;top:591px;width:1204px;height:1px;background:#fbfbfb"></div>
<div style="position:absolute;left:0;top:592px;width:1204px;height:18px;background:#f0f0f0"></div>
<div style="position:absolute;left:0;top:610px;width:1204px;height:1px;background:#fff"></div>
<div style="position:absolute;left:0;top:611px;width:1204px;height:2px;background:#f0f0f0"></div>
<div style="position:absolute;left:0;top:591px;width:1px;height:18px;background:#505050"></div>
<div style="position:absolute;left:1px;top:591px;width:1px;height:18px;background:#fafafa"></div>
<div style="position:absolute;left:429px;top:590px;width:106px;height:17px;background:#fff;border:1px solid #000;border-top:1px solid #fff"></div>
<div class="t " style="left:15.64px;top:595px;font-size:12.8px;color:#787878;transform:scaleX(0.9657)">USDX,Weekly</div>
<div class="t " style="left:115.90px;top:595px;font-size:12.8px;color:#787878;transform:scaleX(0.9423)">EURUSD-,Daily</div>
<div class="t " style="left:223.87px;top:595px;font-size:12.8px;color:#787878;transform:scaleX(0.9538)">AUDUSD-,Daily</div>
<div class="t " style="left:333.18px;top:595px;font-size:12.8px;color:#787878;transform:scaleX(0.9314)">USDCHF-,Daily</div>
<div class="t " style="left:549.34px;top:595px;font-size:12.8px;color:#787878;transform:scaleX(0.9632)">USDCNH-,Daily</div>
<div class="t " style="left:660.63px;top:595px;font-size:12.8px;color:#787878;transform:scaleX(0.9490)">XAUUSD-,H1</div>
<div class="t " style="left:756.22px;top:595px;font-size:12.8px;color:#787878;transform:scaleX(0.9929)">UKOil-,H1</div>
<div class="t " style="left:836.99px;top:595px;font-size:12.8px;color:#787878;transform:scaleX(0.9583)">DJ30-,H1</div>
<div class="t " style="left:912.34px;top:595px;font-size:12.8px;color:#787878;transform:scaleX(0.9644)">UK100-,H1</div>
<div class="t " style="left:997.14px;top:595px;font-size:12.8px;color:#787878;transform:scaleX(0.9713)">USOil-,Daily</div>
<div class="t " style="left:1087.28px;top:595px;font-size:12.8px;color:#787878;transform:scaleX(0.9665)">HK50-,H1</div>
<div class="t " style="left:1162.53px;top:595px;font-size:12.8px;color:#7a7a7a;transform:scaleX(1.1115)">EU</div>
<div class="t " style="left:439.55px;top:595px;font-size:12.8px;color:#000;transform:scaleX(0.9551)">USDCAD-,Daily</div>
<div class="sep" style="left:105px"></div>
<div class="sep" style="left:213px"></div>
<div class="sep" style="left:321px"></div>
<div class="sep" style="left:649px"></div>
<div class="sep" style="left:745px"></div>
<div class="sep" style="left:825px"></div>
<div class="sep" style="left:901px"></div>
<div class="sep" style="left:985px"></div>
<div class="sep" style="left:1077px"></div>
<div class="sep" style="left:1153px"></div>
<div style="position:absolute;left:1176px;top:591px;width:28px;height:18px;background:#f0f0f0"></div>
<svg width="28" height="18" style="position:absolute;left:1176px;top:591px"><polygon points="9.5,5 9.5,11 6,8" fill="#a0a0a0"/><polygon points="25,4 25,12 29,8" fill="#000"/></svg>
</body></html>
